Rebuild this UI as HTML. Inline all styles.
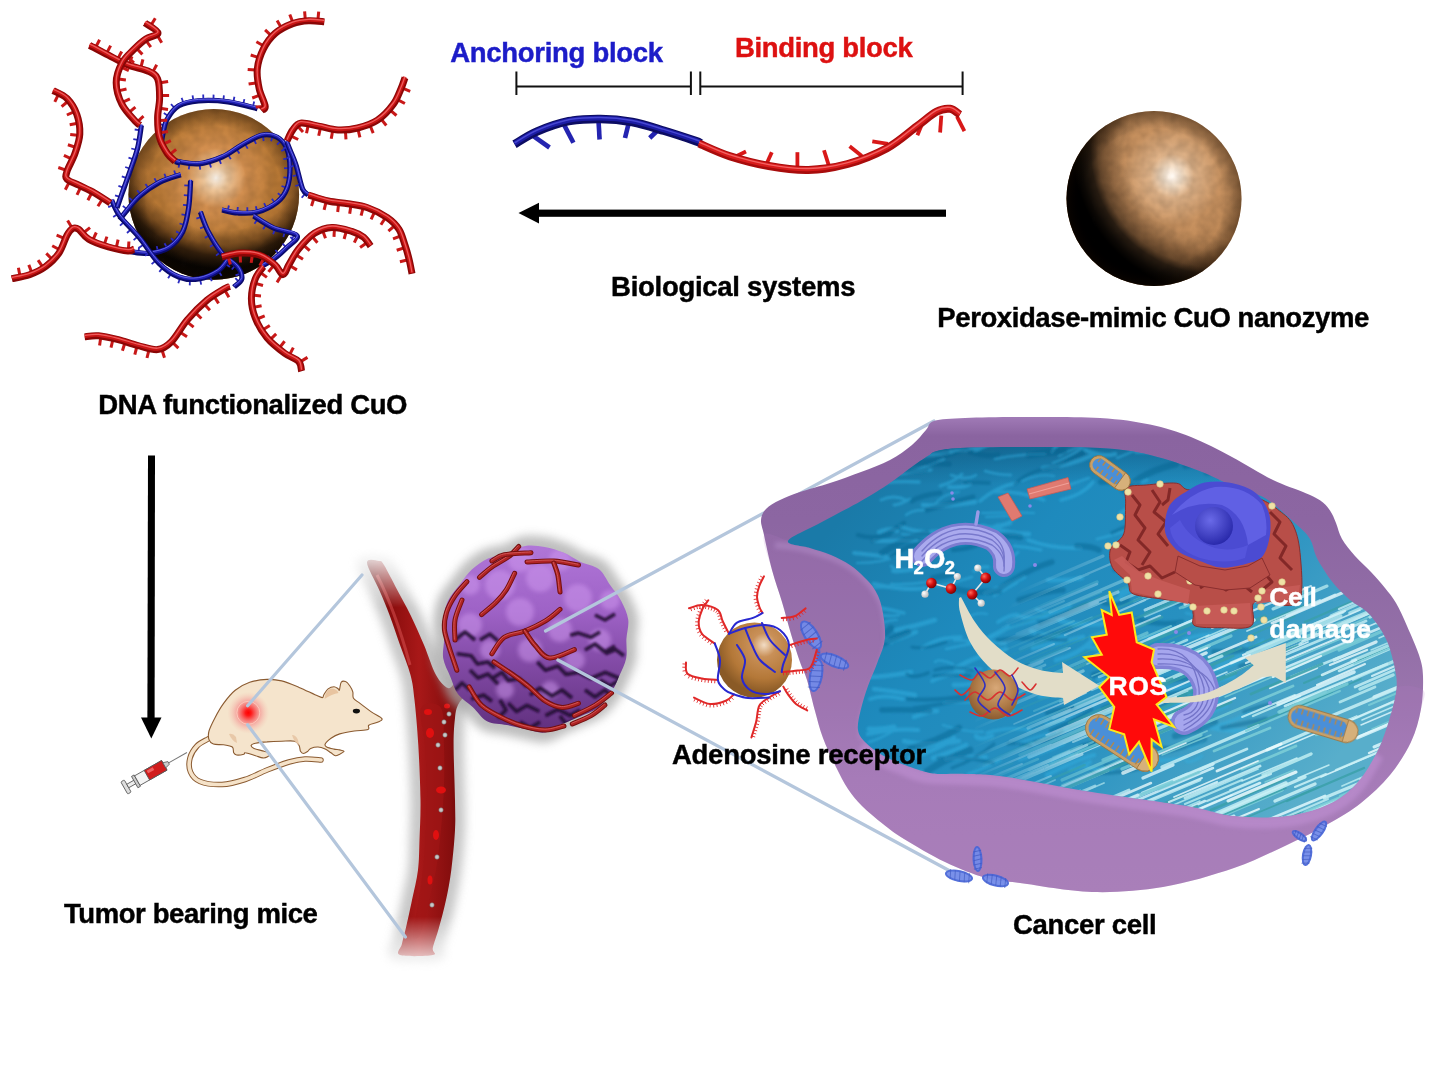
<!DOCTYPE html>
<html><head><meta charset="utf-8"><title>CuO nanozyme</title>
<style>
html,body{margin:0;padding:0;background:#fff;width:1446px;height:1066px;overflow:hidden}
svg{display:block}
text{font-family:"Liberation Sans",sans-serif;font-weight:bold}
</style></head><body>
<svg width="1446" height="1066" viewBox="0 0 1446 1066">
<rect width="1446" height="1066" fill="#fff"/>

<defs>
<radialGradient id="sph1" gradientUnits="userSpaceOnUse" cx="1172" cy="176" r="110">
 <stop offset="0" stop-color="#fffaf4"/>
 <stop offset="0.09" stop-color="#f6e0c8"/>
 <stop offset="0.2" stop-color="#e0b48a"/>
 <stop offset="0.45" stop-color="#c89260"/>
 <stop offset="1" stop-color="#b07a48"/>
</radialGradient>
<radialGradient id="sph1dark" gradientUnits="userSpaceOnUse" cx="1215" cy="150" r="150">
 <stop offset="0" stop-color="#000" stop-opacity="0"/>
 <stop offset="0.6" stop-color="#000" stop-opacity="0"/>
 <stop offset="0.7" stop-color="#140800" stop-opacity="0.28"/>
 <stop offset="0.78" stop-color="#0a0400" stop-opacity="0.5"/>
 <stop offset="0.83" stop-color="#000" stop-opacity="0.78"/>
 <stop offset="0.9" stop-color="#000" stop-opacity="0.93"/>
 <stop offset="0.95" stop-color="#000" stop-opacity="1"/>
</radialGradient>
<radialGradient id="rimDark" cx="0.5" cy="0.5" r="0.5">
 <stop offset="0.8" stop-color="#000" stop-opacity="0"/>
 <stop offset="1" stop-color="#1a0c00" stop-opacity="0.4"/>
</radialGradient>
<radialGradient id="sph2" gradientUnits="userSpaceOnUse" cx="216" cy="178" r="100">
 <stop offset="0" stop-color="#fff8ee"/>
 <stop offset="0.12" stop-color="#f0c89c"/>
 <stop offset="0.3" stop-color="#d49050"/>
 <stop offset="0.6" stop-color="#ba7a36"/>
 <stop offset="1" stop-color="#a86a2c"/>
</radialGradient>
<radialGradient id="sph2dark" gradientUnits="userSpaceOnUse" cx="222" cy="140" r="165">
 <stop offset="0" stop-color="#000" stop-opacity="0"/>
 <stop offset="0.55" stop-color="#000" stop-opacity="0"/>
 <stop offset="0.63" stop-color="#1a0c00" stop-opacity="0.35"/>
 <stop offset="0.7" stop-color="#0a0400" stop-opacity="0.75"/>
 <stop offset="0.78" stop-color="#000" stop-opacity="0.95"/>
 <stop offset="1" stop-color="#000" stop-opacity="1"/>
</radialGradient>


<radialGradient id="sph3" cx="0.55" cy="0.4" r="0.6">
 <stop offset="0" stop-color="#e8c8a8"/>
 <stop offset="0.35" stop-color="#c08850"/>
 <stop offset="1" stop-color="#8a5a2a"/>
</radialGradient>
<radialGradient id="redspot" cx="0.5" cy="0.5" r="0.5">
 <stop offset="0" stop-color="#ff0000"/>
 <stop offset="0.14" stop-color="#ff1818"/>
 <stop offset="0.32" stop-color="#f85050" stop-opacity="0.9"/>
 <stop offset="0.6" stop-color="#f49090" stop-opacity="0.6"/>
 <stop offset="1" stop-color="#f4c0b0" stop-opacity="0"/>
</radialGradient>
<linearGradient id="blueInt" gradientUnits="userSpaceOnUse" x1="900" y1="450" x2="1300" y2="800">
 <stop offset="0" stop-color="#1a7aa8"/>
 <stop offset="0.3" stop-color="#1e8abd"/>
 <stop offset="0.6" stop-color="#2790c0"/>
 <stop offset="1" stop-color="#58aecb"/>
</linearGradient>
<linearGradient id="purpWall" gradientUnits="userSpaceOnUse" x1="0" y1="417" x2="0" y2="892">
 <stop offset="0" stop-color="#a07ab6"/>
 <stop offset="0.04" stop-color="#8a64a0"/>
 <stop offset="0.22" stop-color="#8c66a2"/>
 <stop offset="0.49" stop-color="#9470a8"/>
 <stop offset="0.76" stop-color="#a47cb6"/>
 <stop offset="1" stop-color="#a880b8"/>
</linearGradient>
<radialGradient id="tumorG" gradientUnits="userSpaceOnUse" cx="525" cy="610" r="110">
 <stop offset="0" stop-color="#c590e0"/>
 <stop offset="0.5" stop-color="#a872c8"/>
 <stop offset="0.85" stop-color="#8c58aa"/>
 <stop offset="1" stop-color="#6c4088"/>
</radialGradient>
<linearGradient id="vesselG" x1="0" y1="0" x2="1" y2="0">
 <stop offset="0" stop-color="#5a0404"/>
 <stop offset="0.2" stop-color="#860c0c"/>
 <stop offset="0.5" stop-color="#a81818"/>
 <stop offset="0.8" stop-color="#860e0e"/>
 <stop offset="1" stop-color="#520404"/>
</linearGradient>
<linearGradient id="fadeTop" x1="0" y1="0" x2="0" y2="1">
 <stop offset="0" stop-color="#fff" stop-opacity="1"/>
 <stop offset="1" stop-color="#fff" stop-opacity="0"/>
</linearGradient>
<radialGradient id="nucG" cx="0.45" cy="0.35" r="0.7">
 <stop offset="0" stop-color="#6a6af0"/>
 <stop offset="1" stop-color="#3a3ac0"/>
</radialGradient>
<radialGradient id="nucleolus" cx="0.4" cy="0.35" r="0.7">
 <stop offset="0" stop-color="#6a6ae8"/>
 <stop offset="1" stop-color="#2626a8"/>
</radialGradient>
<filter id="blur2" x="-20%" y="-20%" width="140%" height="140%"><feGaussianBlur stdDeviation="2"/></filter>
<filter id="blur4" x="-30%" y="-30%" width="160%" height="160%"><feGaussianBlur stdDeviation="5"/></filter>
<filter id="blur1"><feGaussianBlur stdDeviation="0.8"/></filter>
</defs>

<defs><linearGradient id="vmaskG" gradientUnits="userSpaceOnUse" x1="0" y1="548" x2="0" y2="972"><stop offset="0" stop-color="#000"/><stop offset="0.03" stop-color="#333"/><stop offset="0.14" stop-color="#fff"/><stop offset="0.87" stop-color="#fff"/><stop offset="1" stop-color="#000"/></linearGradient><mask id="vmask" maskUnits="userSpaceOnUse" x="300" y="540" width="220" height="440"><rect x="300" y="540" width="220" height="440" fill="url(#vmaskG)"/></mask></defs>
<g mask="url(#vmask)">
<path d="M367.0 562.5 C367.0 567.2 375.2 580.8 379.0 589.5 C382.8 598.2 386.0 605.8 389.5 615.0 C393.0 624.2 396.5 635.0 400.0 645.0 C403.5 655.0 408.1 665.8 410.5 675.0 C412.9 684.2 413.2 688.3 414.5 700.0 C415.8 711.7 417.3 728.3 418.3 745.0 C419.3 761.7 420.3 784.2 420.5 800.0 C420.7 815.8 419.9 828.3 419.5 840.0 C419.1 851.7 419.2 860.0 418.0 870.0 C416.8 880.0 414.0 890.4 412.0 900.0 C410.0 909.6 407.7 920.3 406.0 927.6 C404.3 934.9 402.9 939.4 401.9 944.0 C400.9 948.6 394.9 953.2 400.0 955.0 C405.1 956.8 427.3 956.2 432.8 955.0 C438.3 953.8 431.8 952.6 432.8 948.0 C433.8 943.4 436.8 935.6 439.0 927.6 C441.2 919.6 443.9 909.6 446.0 900.0 C448.1 890.4 449.8 881.7 451.3 870.0 C452.8 858.3 454.4 841.7 455.0 830.0 C455.6 818.3 455.2 814.2 455.0 800.0 C454.8 785.8 453.6 758.7 453.6 745.0 C453.6 731.3 454.3 724.7 455.0 718.0 C455.7 711.3 456.2 709.0 458.0 705.0 C459.8 701.0 463.8 697.2 466.0 694.0 C468.2 690.8 470.8 689.0 471.0 686.0 C471.2 683.0 469.5 676.7 467.0 676.0 C464.5 675.3 459.2 680.0 456.0 682.0 C452.8 684.0 451.3 689.2 448.0 688.0 C444.7 686.8 440.0 682.2 436.0 675.0 C432.0 667.8 428.2 655.0 424.0 645.0 C419.8 635.0 415.0 624.2 410.5 615.0 C406.0 605.8 401.4 597.8 397.0 589.5 C392.6 581.2 387.0 569.8 384.0 565.0 C381.0 560.2 381.8 561.4 379.0 561.0 C376.2 560.6 367.0 557.8 367.0 562.5Z" fill="none" stroke="#b0b0b0" stroke-width="20" opacity="0.7" filter="url(#blur4)"/>
<path d="M367.0 562.5 C367.0 567.2 375.2 580.8 379.0 589.5 C382.8 598.2 386.0 605.8 389.5 615.0 C393.0 624.2 396.5 635.0 400.0 645.0 C403.5 655.0 408.1 665.8 410.5 675.0 C412.9 684.2 413.2 688.3 414.5 700.0 C415.8 711.7 417.3 728.3 418.3 745.0 C419.3 761.7 420.3 784.2 420.5 800.0 C420.7 815.8 419.9 828.3 419.5 840.0 C419.1 851.7 419.2 860.0 418.0 870.0 C416.8 880.0 414.0 890.4 412.0 900.0 C410.0 909.6 407.7 920.3 406.0 927.6 C404.3 934.9 402.9 939.4 401.9 944.0 C400.9 948.6 394.9 953.2 400.0 955.0 C405.1 956.8 427.3 956.2 432.8 955.0 C438.3 953.8 431.8 952.6 432.8 948.0 C433.8 943.4 436.8 935.6 439.0 927.6 C441.2 919.6 443.9 909.6 446.0 900.0 C448.1 890.4 449.8 881.7 451.3 870.0 C452.8 858.3 454.4 841.7 455.0 830.0 C455.6 818.3 455.2 814.2 455.0 800.0 C454.8 785.8 453.6 758.7 453.6 745.0 C453.6 731.3 454.3 724.7 455.0 718.0 C455.7 711.3 456.2 709.0 458.0 705.0 C459.8 701.0 463.8 697.2 466.0 694.0 C468.2 690.8 470.8 689.0 471.0 686.0 C471.2 683.0 469.5 676.7 467.0 676.0 C464.5 675.3 459.2 680.0 456.0 682.0 C452.8 684.0 451.3 689.2 448.0 688.0 C444.7 686.8 440.0 682.2 436.0 675.0 C432.0 667.8 428.2 655.0 424.0 645.0 C419.8 635.0 415.0 624.2 410.5 615.0 C406.0 605.8 401.4 597.8 397.0 589.5 C392.6 581.2 387.0 569.8 384.0 565.0 C381.0 560.2 381.8 561.4 379.0 561.0 C376.2 560.6 367.0 557.8 367.0 562.5Z" fill="url(#vesselG)"/>
<path d="M421.0 708.0 C418.3 714.2 424.0 731.8 425.0 745.0 C426.0 758.2 426.8 772.8 427.0 787.0 C427.2 801.2 426.7 816.2 426.0 830.0 C425.3 843.8 424.5 856.7 423.0 870.0 C421.5 883.3 418.7 899.2 417.0 910.0 C415.3 920.8 412.5 930.8 413.0 935.0 C413.5 939.2 417.5 940.0 420.0 935.0 C422.5 930.0 425.3 915.8 428.0 905.0 C430.7 894.2 433.8 882.5 436.0 870.0 C438.2 857.5 439.7 843.8 441.0 830.0 C442.3 816.2 443.5 801.2 444.0 787.0 C444.5 772.8 444.5 758.2 444.0 745.0 C443.5 731.8 444.8 714.2 441.0 708.0 C437.2 701.8 423.7 701.8 421.0 708.0Z" fill="#a01616" opacity="0.7"/>
<path d="M377 575 Q395 610 410 665" stroke="#d85050" stroke-width="3" fill="none" opacity="0.55"/>
<ellipse cx="428" cy="712" rx="4.0" ry="3.0" fill="#e01010"/>
<ellipse cx="430" cy="733" rx="4.0" ry="5.0" fill="#e01010"/>
<ellipse cx="441" cy="790" rx="5.0" ry="3.5" fill="#e01010"/>
<ellipse cx="436" cy="835" rx="3.0" ry="5.0" fill="#e01010"/>
<ellipse cx="430" cy="880" rx="2.5" ry="4.5" fill="#e01010"/>
<ellipse cx="447" cy="706" rx="3.0" ry="2.5" fill="#e01010"/>
<circle cx="444" cy="722" r="2.2" fill="#c8c8c8" stroke="#777" stroke-width="0.6"/>
<circle cx="438" cy="745" r="2.2" fill="#c8c8c8" stroke="#777" stroke-width="0.6"/>
<circle cx="440" cy="768" r="2.2" fill="#c8c8c8" stroke="#777" stroke-width="0.6"/>
<circle cx="441" cy="810" r="2.2" fill="#c8c8c8" stroke="#777" stroke-width="0.6"/>
<circle cx="437" cy="857" r="2.2" fill="#c8c8c8" stroke="#777" stroke-width="0.6"/>
<circle cx="432" cy="905" r="2.2" fill="#c8c8c8" stroke="#777" stroke-width="0.6"/>
<circle cx="449" cy="714" r="2.2" fill="#c8c8c8" stroke="#777" stroke-width="0.6"/>
<circle cx="445" cy="735" r="2.2" fill="#c8c8c8" stroke="#777" stroke-width="0.6"/>
</g>
<defs><linearGradient id="tumLin" gradientUnits="userSpaceOnUse" x1="0" y1="545" x2="0" y2="735"><stop offset="0" stop-color="#b076d8"/><stop offset="0.35" stop-color="#9e62c6"/><stop offset="0.6" stop-color="#844ca8"/><stop offset="1" stop-color="#5e2e7c"/></linearGradient></defs>
<path d="M626.4 639.0 C626.1 645.5 627.4 652.0 626.2 658.2 C625.0 664.4 621.8 670.3 619.2 676.1 C616.7 682.0 614.3 688.2 610.7 693.5 C607.2 698.8 602.8 704.1 597.7 708.0 C592.6 711.8 586.0 713.9 580.2 716.5 C574.4 719.1 568.7 721.1 562.8 723.8 C557.0 726.5 551.2 731.7 544.9 732.6 C538.7 733.4 531.8 730.4 525.4 729.1 C519.1 727.9 513.2 726.4 506.8 725.1 C500.4 723.8 492.7 724.2 487.0 721.3 C481.4 718.3 477.7 711.8 472.9 707.3 C468.1 702.8 461.9 699.4 458.1 694.3 C454.3 689.1 452.7 682.4 450.2 676.4 C447.7 670.4 444.2 664.5 443.2 658.3 C442.2 652.1 444.1 645.4 444.1 639.0 C444.1 632.6 442.6 626.1 443.2 619.7 C443.9 613.3 445.3 606.5 448.0 600.7 C450.8 594.8 455.7 590.0 459.6 584.8 C463.6 579.6 467.1 573.9 471.8 569.5 C476.5 565.1 482.1 561.0 488.0 558.4 C493.9 555.8 500.9 556.0 507.1 553.9 C513.3 551.8 518.8 547.1 525.1 545.9 C531.4 544.7 538.4 545.8 544.8 546.9 C551.2 548.0 557.5 550.1 563.4 552.6 C569.3 555.0 574.2 558.9 580.1 561.7 C586.0 564.4 593.7 565.1 598.7 569.0 C603.7 572.8 606.4 579.6 610.1 585.0 C613.9 590.3 618.1 595.3 621.2 601.0 C624.2 606.8 627.3 613.1 628.2 619.4 C629.1 625.7 626.8 632.5 626.4 639.0Z" fill="none" stroke="#a8a8a8" stroke-width="20" opacity="0.75" filter="url(#blur4)"/>
<path d="M626.4 639.0 C626.1 645.5 627.4 652.0 626.2 658.2 C625.0 664.4 621.8 670.3 619.2 676.1 C616.7 682.0 614.3 688.2 610.7 693.5 C607.2 698.8 602.8 704.1 597.7 708.0 C592.6 711.8 586.0 713.9 580.2 716.5 C574.4 719.1 568.7 721.1 562.8 723.8 C557.0 726.5 551.2 731.7 544.9 732.6 C538.7 733.4 531.8 730.4 525.4 729.1 C519.1 727.9 513.2 726.4 506.8 725.1 C500.4 723.8 492.7 724.2 487.0 721.3 C481.4 718.3 477.7 711.8 472.9 707.3 C468.1 702.8 461.9 699.4 458.1 694.3 C454.3 689.1 452.7 682.4 450.2 676.4 C447.7 670.4 444.2 664.5 443.2 658.3 C442.2 652.1 444.1 645.4 444.1 639.0 C444.1 632.6 442.6 626.1 443.2 619.7 C443.9 613.3 445.3 606.5 448.0 600.7 C450.8 594.8 455.7 590.0 459.6 584.8 C463.6 579.6 467.1 573.9 471.8 569.5 C476.5 565.1 482.1 561.0 488.0 558.4 C493.9 555.8 500.9 556.0 507.1 553.9 C513.3 551.8 518.8 547.1 525.1 545.9 C531.4 544.7 538.4 545.8 544.8 546.9 C551.2 548.0 557.5 550.1 563.4 552.6 C569.3 555.0 574.2 558.9 580.1 561.7 C586.0 564.4 593.7 565.1 598.7 569.0 C603.7 572.8 606.4 579.6 610.1 585.0 C613.9 590.3 618.1 595.3 621.2 601.0 C624.2 606.8 627.3 613.1 628.2 619.4 C629.1 625.7 626.8 632.5 626.4 639.0Z" fill="url(#tumLin)"/>
<defs><clipPath id="tumClip"><path d="M626.4 639.0 C626.1 645.5 627.4 652.0 626.2 658.2 C625.0 664.4 621.8 670.3 619.2 676.1 C616.7 682.0 614.3 688.2 610.7 693.5 C607.2 698.8 602.8 704.1 597.7 708.0 C592.6 711.8 586.0 713.9 580.2 716.5 C574.4 719.1 568.7 721.1 562.8 723.8 C557.0 726.5 551.2 731.7 544.9 732.6 C538.7 733.4 531.8 730.4 525.4 729.1 C519.1 727.9 513.2 726.4 506.8 725.1 C500.4 723.8 492.7 724.2 487.0 721.3 C481.4 718.3 477.7 711.8 472.9 707.3 C468.1 702.8 461.9 699.4 458.1 694.3 C454.3 689.1 452.7 682.4 450.2 676.4 C447.7 670.4 444.2 664.5 443.2 658.3 C442.2 652.1 444.1 645.4 444.1 639.0 C444.1 632.6 442.6 626.1 443.2 619.7 C443.9 613.3 445.3 606.5 448.0 600.7 C450.8 594.8 455.7 590.0 459.6 584.8 C463.6 579.6 467.1 573.9 471.8 569.5 C476.5 565.1 482.1 561.0 488.0 558.4 C493.9 555.8 500.9 556.0 507.1 553.9 C513.3 551.8 518.8 547.1 525.1 545.9 C531.4 544.7 538.4 545.8 544.8 546.9 C551.2 548.0 557.5 550.1 563.4 552.6 C569.3 555.0 574.2 558.9 580.1 561.7 C586.0 564.4 593.7 565.1 598.7 569.0 C603.7 572.8 606.4 579.6 610.1 585.0 C613.9 590.3 618.1 595.3 621.2 601.0 C624.2 606.8 627.3 613.1 628.2 619.4 C629.1 625.7 626.8 632.5 626.4 639.0Z"/></clipPath></defs>
<g clip-path="url(#tumClip)">
<g filter="url(#blur2)" opacity="0.5">
<circle cx="500" cy="585" r="15" fill="#d09af0"/>
<circle cx="540" cy="578" r="14" fill="#d09af0"/>
<circle cx="578" cy="598" r="14" fill="#d09af0"/>
<circle cx="470" cy="625" r="12" fill="#d09af0"/>
<circle cx="520" cy="612" r="14" fill="#d09af0"/>
<circle cx="560" cy="630" r="12" fill="#d09af0"/>
<circle cx="600" cy="640" r="11" fill="#d09af0"/>
<circle cx="490" cy="650" r="10" fill="#d09af0"/>
<circle cx="530" cy="650" r="12" fill="#d09af0"/>
<circle cx="575" cy="660" r="10" fill="#d09af0"/>
<circle cx="610" cy="600" r="10" fill="#d09af0"/>
<circle cx="470" cy="585" r="10" fill="#d09af0"/>
<circle cx="520" cy="560" r="12" fill="#d09af0"/>
<circle cx="560" cy="560" r="11" fill="#d09af0"/>
<circle cx="505" cy="690" r="9" fill="#d09af0"/>
<circle cx="550" cy="690" r="9" fill="#d09af0"/>
</g>
<g fill="none" stroke="#220832" stroke-width="3.6" opacity="0.9" filter="url(#blur1)" stroke-linejoin="round">
<polyline points="456.8,653.8 471.3,655.8 477.4,664.0 487.8,662.0 495.0,668.0"/>
<polyline points="491.9,678.5 502.2,672.3 508.4,680.6 518.7,678.5 527.0,686.8"/>
<polyline points="537.3,662.0 545.5,670.3 557.9,666.0 566.0,674.4 578.5,672.3 591.0,678.5 605.3,672.3 619.8,678.5"/>
<polyline points="508.4,703.3 516.6,711.5 527.0,705.3 539.3,711.5"/>
<polyline points="570.3,635.2 578.5,633.1 591.0,637.3 600.0,632.0"/>
<polyline points="605.3,653.8 615.6,649.6 623.9,655.8"/>
<polyline points="471.3,699.1 483.6,695.0 491.9,701.2"/>
<polyline points="545.5,715.6 557.9,709.4 570.3,715.6 580.0,710.0"/>
<polyline points="455.0,690.0 462.0,683.0 470.0,690.0"/>
<polyline points="585.0,690.0 595.0,697.0 605.0,690.0 612.0,697.0"/>
<polyline points="520.0,722.0 530.0,728.0 540.0,722.0"/>
<polyline points="480.0,640.0 490.0,634.0 498.0,641.0"/>
<polyline points="595.0,615.0 605.0,620.0 615.0,614.0"/>
<polyline points="470.0,670.0 478.0,678.0 488.0,674.0 498.0,684.0"/>
<polyline points="530.0,695.0 540.0,688.0 552.0,696.0 562.0,690.0 572.0,698.0"/>
<polyline points="600.0,680.0 610.0,686.0 620.0,680.0"/>
<polyline points="500.0,700.0 506.0,710.0 498.0,718.0"/>
<polyline points="560.0,716.0 566.0,724.0 576.0,720.0"/>
<polyline points="455.0,640.0 465.0,632.0 475.0,640.0"/>
<polyline points="585.0,650.0 595.0,644.0 605.0,652.0 615.0,646.0"/>
</g>
</g>
<g fill="none" stroke-linecap="round" stroke-linejoin="round">
<path d="M467.0 581.6 C465.0 584.0 458.2 590.9 454.8 596.0 C451.4 601.1 448.2 607.0 446.5 612.5 C444.8 618.0 444.0 623.5 444.4 629.0 C444.8 634.5 447.2 640.7 448.6 645.5 C450.0 650.3 451.3 653.9 452.7 658.0 C454.1 662.1 456.1 668.2 456.8 670.3" stroke="#741010" stroke-width="5"/>
<path d="M467.0 581.6 C465.0 584.0 458.2 590.9 454.8 596.0 C451.4 601.1 448.2 607.0 446.5 612.5 C444.8 618.0 444.0 623.5 444.4 629.0 C444.8 634.5 447.2 640.7 448.6 645.5 C450.0 650.3 451.3 653.9 452.7 658.0 C454.1 662.1 456.1 668.2 456.8 670.3" stroke="#b02424" stroke-width="3"/>
<path d="M467.0 581.6 C465.0 584.0 458.2 590.9 454.8 596.0 C451.4 601.1 448.2 607.0 446.5 612.5 C444.8 618.0 444.0 623.5 444.4 629.0 C444.8 634.5 447.2 640.7 448.6 645.5 C450.0 650.3 451.3 653.9 452.7 658.0 C454.1 662.1 456.1 668.2 456.8 670.3" stroke="#d86060" stroke-width="1" transform="translate(-0.6,-0.8)" opacity="0.8"/>
<path d="M479.5 577.4 C481.6 575.7 487.1 570.4 491.9 567.0 C496.7 563.6 503.9 560.2 508.4 556.8 C512.9 553.4 517.0 548.2 518.7 546.5" stroke="#741010" stroke-width="5"/>
<path d="M479.5 577.4 C481.6 575.7 487.1 570.4 491.9 567.0 C496.7 563.6 503.9 560.2 508.4 556.8 C512.9 553.4 517.0 548.2 518.7 546.5" stroke="#b02424" stroke-width="3"/>
<path d="M479.5 577.4 C481.6 575.7 487.1 570.4 491.9 567.0 C496.7 563.6 503.9 560.2 508.4 556.8 C512.9 553.4 517.0 548.2 518.7 546.5" stroke="#d86060" stroke-width="1" transform="translate(-0.6,-0.8)" opacity="0.8"/>
<path d="M491.9 561.0 C494.0 560.0 497.8 556.2 504.3 554.8 C510.8 553.4 526.5 553.1 531.0 552.7" stroke="#741010" stroke-width="5"/>
<path d="M491.9 561.0 C494.0 560.0 497.8 556.2 504.3 554.8 C510.8 553.4 526.5 553.1 531.0 552.7" stroke="#b02424" stroke-width="3"/>
<path d="M491.9 561.0 C494.0 560.0 497.8 556.2 504.3 554.8 C510.8 553.4 526.5 553.1 531.0 552.7" stroke="#d86060" stroke-width="1" transform="translate(-0.6,-0.8)" opacity="0.8"/>
<path d="M527.0 562.0 C531.5 561.8 545.2 560.5 553.8 561.0 C562.4 561.5 574.4 564.3 578.5 565.0" stroke="#741010" stroke-width="5"/>
<path d="M527.0 562.0 C531.5 561.8 545.2 560.5 553.8 561.0 C562.4 561.5 574.4 564.3 578.5 565.0" stroke="#b02424" stroke-width="3"/>
<path d="M527.0 562.0 C531.5 561.8 545.2 560.5 553.8 561.0 C562.4 561.5 574.4 564.3 578.5 565.0" stroke="#d86060" stroke-width="1" transform="translate(-0.6,-0.8)" opacity="0.8"/>
<path d="M553.8 563.0 C554.5 565.1 556.9 570.6 557.9 575.4 C558.9 580.2 559.6 589.2 560.0 592.0" stroke="#741010" stroke-width="5"/>
<path d="M553.8 563.0 C554.5 565.1 556.9 570.6 557.9 575.4 C558.9 580.2 559.6 589.2 560.0 592.0" stroke="#b02424" stroke-width="3"/>
<path d="M553.8 563.0 C554.5 565.1 556.9 570.6 557.9 575.4 C558.9 580.2 559.6 589.2 560.0 592.0" stroke="#d86060" stroke-width="1" transform="translate(-0.6,-0.8)" opacity="0.8"/>
<path d="M514.6 573.3 C513.2 576.0 509.4 585.0 506.3 589.8 C503.2 594.6 500.1 598.1 496.0 602.2 C491.9 606.3 484.0 612.5 481.6 614.6" stroke="#741010" stroke-width="5"/>
<path d="M514.6 573.3 C513.2 576.0 509.4 585.0 506.3 589.8 C503.2 594.6 500.1 598.1 496.0 602.2 C491.9 606.3 484.0 612.5 481.6 614.6" stroke="#b02424" stroke-width="3"/>
<path d="M514.6 573.3 C513.2 576.0 509.4 585.0 506.3 589.8 C503.2 594.6 500.1 598.1 496.0 602.2 C491.9 606.3 484.0 612.5 481.6 614.6" stroke="#d86060" stroke-width="1" transform="translate(-0.6,-0.8)" opacity="0.8"/>
<path d="M491.9 653.8 C494.0 651.0 498.8 641.1 504.3 637.3 C509.8 633.5 518.0 633.8 524.9 631.0 C531.8 628.2 539.6 624.4 545.5 620.8 C551.4 617.2 557.6 611.3 560.0 609.4" stroke="#741010" stroke-width="5"/>
<path d="M491.9 653.8 C494.0 651.0 498.8 641.1 504.3 637.3 C509.8 633.5 518.0 633.8 524.9 631.0 C531.8 628.2 539.6 624.4 545.5 620.8 C551.4 617.2 557.6 611.3 560.0 609.4" stroke="#b02424" stroke-width="3"/>
<path d="M491.9 653.8 C494.0 651.0 498.8 641.1 504.3 637.3 C509.8 633.5 518.0 633.8 524.9 631.0 C531.8 628.2 539.6 624.4 545.5 620.8 C551.4 617.2 557.6 611.3 560.0 609.4" stroke="#d86060" stroke-width="1" transform="translate(-0.6,-0.8)" opacity="0.8"/>
<path d="M524.9 631.0 C526.6 633.4 531.1 641.0 535.2 645.5 C539.3 650.0 543.1 657.3 549.6 658.0 C556.1 658.7 570.3 651.0 574.4 649.6" stroke="#741010" stroke-width="5"/>
<path d="M524.9 631.0 C526.6 633.4 531.1 641.0 535.2 645.5 C539.3 650.0 543.1 657.3 549.6 658.0 C556.1 658.7 570.3 651.0 574.4 649.6" stroke="#b02424" stroke-width="3"/>
<path d="M524.9 631.0 C526.6 633.4 531.1 641.0 535.2 645.5 C539.3 650.0 543.1 657.3 549.6 658.0 C556.1 658.7 570.3 651.0 574.4 649.6" stroke="#d86060" stroke-width="1" transform="translate(-0.6,-0.8)" opacity="0.8"/>
<path d="M494.0 662.0 C497.1 664.1 506.7 670.3 512.5 674.4 C518.3 678.5 523.5 682.3 529.0 686.8 C534.5 691.3 540.0 697.8 545.5 701.2 C551.0 704.6 556.5 707.0 562.0 707.4 C567.5 707.8 575.8 704.0 578.5 703.3" stroke="#741010" stroke-width="5"/>
<path d="M494.0 662.0 C497.1 664.1 506.7 670.3 512.5 674.4 C518.3 678.5 523.5 682.3 529.0 686.8 C534.5 691.3 540.0 697.8 545.5 701.2 C551.0 704.6 556.5 707.0 562.0 707.4 C567.5 707.8 575.8 704.0 578.5 703.3" stroke="#b02424" stroke-width="3"/>
<path d="M494.0 662.0 C497.1 664.1 506.7 670.3 512.5 674.4 C518.3 678.5 523.5 682.3 529.0 686.8 C534.5 691.3 540.0 697.8 545.5 701.2 C551.0 704.6 556.5 707.0 562.0 707.4 C567.5 707.8 575.8 704.0 578.5 703.3" stroke="#d86060" stroke-width="1" transform="translate(-0.6,-0.8)" opacity="0.8"/>
<path d="M469.2 686.8 C471.3 689.9 476.1 700.1 481.6 705.3 C487.1 710.4 495.3 714.2 502.2 717.7 C509.1 721.2 515.6 724.0 522.8 726.0 C530.0 728.0 538.6 730.0 545.5 730.0 C552.4 730.0 560.9 726.7 564.0 726.0" stroke="#741010" stroke-width="5"/>
<path d="M469.2 686.8 C471.3 689.9 476.1 700.1 481.6 705.3 C487.1 710.4 495.3 714.2 502.2 717.7 C509.1 721.2 515.6 724.0 522.8 726.0 C530.0 728.0 538.6 730.0 545.5 730.0 C552.4 730.0 560.9 726.7 564.0 726.0" stroke="#b02424" stroke-width="3"/>
<path d="M469.2 686.8 C471.3 689.9 476.1 700.1 481.6 705.3 C487.1 710.4 495.3 714.2 502.2 717.7 C509.1 721.2 515.6 724.0 522.8 726.0 C530.0 728.0 538.6 730.0 545.5 730.0 C552.4 730.0 560.9 726.7 564.0 726.0" stroke="#d86060" stroke-width="1" transform="translate(-0.6,-0.8)" opacity="0.8"/>
<path d="M574.4 715.6 C577.8 713.9 588.8 709.1 595.0 705.3 C601.2 701.5 608.8 695.0 611.5 693.0" stroke="#741010" stroke-width="5"/>
<path d="M574.4 715.6 C577.8 713.9 588.8 709.1 595.0 705.3 C601.2 701.5 608.8 695.0 611.5 693.0" stroke="#b02424" stroke-width="3"/>
<path d="M574.4 715.6 C577.8 713.9 588.8 709.1 595.0 705.3 C601.2 701.5 608.8 695.0 611.5 693.0" stroke="#d86060" stroke-width="1" transform="translate(-0.6,-0.8)" opacity="0.8"/>
<path d="M572.3 724.0 C575.4 722.6 585.5 718.8 591.0 715.6 C596.5 712.4 602.7 706.8 605.0 705.0" stroke="#741010" stroke-width="5"/>
<path d="M572.3 724.0 C575.4 722.6 585.5 718.8 591.0 715.6 C596.5 712.4 602.7 706.8 605.0 705.0" stroke="#b02424" stroke-width="3"/>
<path d="M572.3 724.0 C575.4 722.6 585.5 718.8 591.0 715.6 C596.5 712.4 602.7 706.8 605.0 705.0" stroke="#d86060" stroke-width="1" transform="translate(-0.6,-0.8)" opacity="0.8"/>
<path d="M462.0 600.0 C460.8 603.3 456.2 613.3 455.0 620.0 C453.8 626.7 455.0 636.7 455.0 640.0" stroke="#741010" stroke-width="5"/>
<path d="M462.0 600.0 C460.8 603.3 456.2 613.3 455.0 620.0 C453.8 626.7 455.0 636.7 455.0 640.0" stroke="#b02424" stroke-width="3"/>
<path d="M462.0 600.0 C460.8 603.3 456.2 613.3 455.0 620.0 C453.8 626.7 455.0 636.7 455.0 640.0" stroke="#d86060" stroke-width="1" transform="translate(-0.6,-0.8)" opacity="0.8"/>
</g>
<g stroke="#b4c6dc" stroke-width="3.2" stroke-linecap="round">
<line x1="545.5" y1="631" x2="934" y2="421"/>
<line x1="557.9" y1="660" x2="950" y2="871"/>
</g>
<path d="M208.0 739.0 C206.2 740.2 200.0 742.8 197.0 746.0 C194.0 749.2 191.1 753.7 190.0 758.0 C188.9 762.3 188.8 768.1 190.5 772.0 C192.2 775.9 194.8 779.4 200.0 781.5 C205.2 783.6 214.5 784.8 222.0 784.5 C229.5 784.2 237.5 781.9 245.0 779.5 C252.5 777.1 259.7 772.9 267.0 770.0 C274.3 767.1 282.7 763.8 289.0 762.0 C295.3 760.2 299.7 759.3 305.0 759.0 C310.3 758.7 318.3 759.8 321.0 760.0" fill="none" stroke="#8a5a30" stroke-width="5.6" stroke-linecap="round"/>
<path d="M208.0 739.0 C206.2 740.2 200.0 742.8 197.0 746.0 C194.0 749.2 191.1 753.7 190.0 758.0 C188.9 762.3 188.8 768.1 190.5 772.0 C192.2 775.9 194.8 779.4 200.0 781.5 C205.2 783.6 214.5 784.8 222.0 784.5 C229.5 784.2 237.5 781.9 245.0 779.5 C252.5 777.1 259.7 772.9 267.0 770.0 C274.3 767.1 282.7 763.8 289.0 762.0 C295.3 760.2 299.7 759.3 305.0 759.0 C310.3 758.7 318.3 759.8 321.0 760.0" fill="none" stroke="#f5e2c8" stroke-width="3.6" stroke-linecap="round"/>
<path d="M209.0 731.0 C210.0 727.4 212.5 722.5 214.9 717.9 C217.3 713.3 220.2 708.0 223.6 703.4 C227.0 698.8 230.8 693.8 235.2 690.3 C239.5 686.8 244.4 684.1 249.7 682.3 C255.0 680.5 261.8 679.6 267.1 679.4 C272.4 679.2 276.4 679.6 281.7 680.9 C287.0 682.2 293.6 685.1 299.1 687.4 C304.7 689.7 311.1 693.0 315.0 694.7 C318.9 696.4 320.8 697.6 322.3 697.6 C323.8 697.6 322.8 696.2 323.8 694.7 C324.8 693.2 326.4 690.2 328.1 688.9 C329.8 687.6 332.3 686.7 334.0 686.7 C335.7 686.7 337.4 688.4 338.3 688.9 C339.2 689.4 338.9 691.1 339.4 690.0 C339.9 688.9 340.2 683.7 341.2 682.3 C342.2 680.9 344.2 681.0 345.6 681.6 C347.1 682.2 348.7 684.3 349.9 686.0 C351.1 687.7 352.2 689.8 352.8 691.8 C353.4 693.8 352.3 696.4 353.5 698.3 C354.7 700.2 357.0 701.1 360.0 703.4 C363.0 705.7 368.1 709.6 371.7 712.1 C375.3 714.6 380.9 716.9 381.9 718.6 C382.9 720.3 379.7 721.2 377.5 722.3 C375.3 723.4 370.4 724.0 368.8 725.2 C367.2 726.4 370.4 728.5 368.0 729.5 C365.6 730.5 359.0 730.3 354.3 731.0 C349.6 731.7 343.6 732.7 339.7 733.9 C335.8 735.1 333.4 736.6 331.0 738.3 C328.6 740.0 325.9 742.6 325.2 744.1 C324.5 745.6 325.2 746.2 326.7 747.0 C328.1 747.8 331.7 748.6 333.9 749.1 C336.1 749.6 338.0 749.5 339.7 749.9 C341.4 750.3 344.1 750.6 344.1 751.3 C344.1 752.0 341.1 753.5 339.7 754.2 C338.2 754.9 336.8 755.9 335.4 755.7 C333.9 755.5 332.7 753.9 331.0 752.8 C329.3 751.7 327.4 750.1 325.2 749.1 C323.0 748.1 320.4 747.1 318.0 747.0 C315.6 746.9 312.4 747.7 310.7 748.4 C309.0 749.1 309.0 750.4 307.8 751.3 C306.6 752.1 304.6 753.5 303.4 753.5 C302.2 753.5 301.2 752.6 300.5 751.3 C299.8 750.0 300.1 747.2 299.1 745.5 C298.1 743.8 297.6 741.9 294.7 741.2 C291.8 740.5 286.3 741.1 281.7 741.2 C277.1 741.3 271.5 741.5 267.1 741.9 C262.7 742.2 258.1 742.7 255.5 743.3 C252.8 743.9 251.4 744.6 251.2 745.5 C250.9 746.4 251.8 747.4 254.0 748.4 C256.2 749.4 261.5 750.4 264.2 751.3 C266.9 752.1 269.5 752.5 270.0 753.5 C270.5 754.5 268.3 756.4 267.1 757.1 C265.9 757.8 264.7 758.1 262.8 757.9 C260.9 757.7 258.4 756.6 255.5 755.7 C252.6 754.9 247.2 753.0 245.3 752.8 C243.4 752.5 245.4 753.8 243.9 754.2 C242.4 754.6 238.3 755.2 236.6 755.0 C234.9 754.8 234.4 754.1 233.7 752.8 C233.0 751.5 234.0 748.3 232.3 747.0 C230.6 745.7 226.8 745.3 223.6 744.8 C220.4 744.3 215.8 745.0 213.4 744.1 C211.0 743.2 209.7 741.9 209.0 739.7 C208.3 737.5 208.0 734.6 209.0 731.0Z" fill="#f5e4cc" stroke="#8a5a30" stroke-width="1.1" stroke-linejoin="round"/>
<path d="M324.5 699 Q325 691 331 688.5 Q337 688.5 338.5 693 Q332 694 324.5 699Z" fill="#e8c4a0"/>
<path d="M229 734 Q233 733 236 737 L237 743 Q232 741 229 734Z" fill="#e8c8a8"/>
<path d="M292 735 Q296 735 298 740 L299 745 Q294 742 292 735Z" fill="#e8c8a8"/>
<ellipse cx="356.4" cy="711.1" rx="3.6" ry="2.3" fill="#111"/>
<circle cx="248.3" cy="712.8" r="21" fill="url(#redspot)"/>
<circle cx="248.3" cy="712.8" r="11.5" fill="none" stroke="#ffd0c0" stroke-width="1" opacity="0.8"/>
<g transform="translate(126,787) rotate(-29.5)">
<line x1="48" y1="0" x2="70" y2="0" stroke="#777" stroke-width="1"/>
<rect x="-2" y="-7" width="4" height="14" rx="1" fill="#ddd" stroke="#555" stroke-width="0.8"/>
<rect x="2" y="-2" width="10" height="4" fill="#eee" stroke="#555" stroke-width="0.8"/>
<rect x="10" y="-6.5" width="3" height="13" fill="#ccc" stroke="#555" stroke-width="0.8"/>
<rect x="13" y="-5.5" width="31" height="11" fill="#f4f4f4" stroke="#555" stroke-width="0.8"/>
<rect x="24" y="-5.5" width="20" height="11" fill="#d01c1c" stroke="#555" stroke-width="0.8"/>
<rect x="26" y="-4" width="7" height="3" fill="#f06060"/>
<path d="M44 -3 L49 -1.5 L49 1.5 L44 3Z" fill="#ccc" stroke="#555" stroke-width="0.7"/>
</g>
<g stroke="#b4c6dc" stroke-width="3.2" stroke-linecap="round">
<line x1="247.6" y1="705.7" x2="362" y2="575"/>
<line x1="247.6" y1="724.8" x2="405.4" y2="937"/>
</g>
<defs><clipPath id="innerClip"><path d="M937.0 451.0 C942.3 449.7 946.2 448.7 960.0 448.0 C973.8 447.3 996.7 447.0 1020.0 447.0 C1043.3 447.0 1078.3 446.7 1100.0 448.0 C1121.7 449.3 1133.0 451.0 1150.0 455.0 C1167.0 459.0 1187.0 466.2 1202.0 472.0 C1217.0 477.8 1229.5 485.7 1240.0 490.0 C1250.5 494.3 1255.5 492.2 1265.0 498.0 C1274.5 503.8 1289.5 518.2 1297.0 525.0 C1304.5 531.8 1306.8 533.8 1310.0 539.0 C1313.2 544.2 1313.7 550.8 1316.0 556.0 C1318.3 561.2 1321.0 565.3 1324.0 570.0 C1327.0 574.7 1329.7 579.0 1334.0 584.0 C1338.3 589.0 1344.2 595.0 1350.0 600.0 C1355.8 605.0 1363.0 607.5 1369.0 614.0 C1375.0 620.5 1381.8 630.2 1386.0 639.0 C1390.2 647.8 1392.8 658.8 1394.5 667.0 C1396.2 675.2 1397.2 679.7 1396.5 688.0 C1395.8 696.3 1393.1 706.7 1390.0 717.0 C1386.9 727.3 1383.5 739.0 1378.0 750.0 C1372.5 761.0 1365.2 774.0 1357.0 783.0 C1348.8 792.0 1340.7 798.5 1329.0 804.0 C1317.3 809.5 1302.8 814.0 1287.0 816.0 C1271.2 818.0 1250.7 817.7 1234.0 816.0 C1217.3 814.3 1210.7 810.0 1187.0 806.0 C1163.3 802.0 1122.0 796.8 1092.0 792.0 C1062.0 787.2 1028.0 780.0 1007.0 777.0 C986.0 774.0 977.2 774.5 966.0 774.0 C954.8 773.5 946.7 774.3 940.0 774.0 C933.3 773.7 932.3 773.7 926.0 772.0 C919.7 770.3 909.3 766.8 902.0 764.0 C894.7 761.2 888.2 758.7 882.0 755.0 C875.8 751.3 869.0 746.2 865.0 742.0 C861.0 737.8 858.8 735.2 858.0 730.0 C857.2 724.8 858.8 718.3 860.5 711.0 C862.2 703.7 865.1 694.2 868.0 686.0 C870.9 677.8 874.8 670.0 877.6 662.0 C880.4 654.0 884.3 647.0 885.0 638.0 C885.7 629.0 883.7 616.0 882.0 608.0 C880.3 600.0 878.0 595.2 875.0 590.0 C872.0 584.8 868.2 581.2 864.0 577.0 C859.8 572.8 855.5 568.7 850.0 565.0 C844.5 561.3 837.7 557.8 831.0 555.0 C824.3 552.2 817.2 550.3 810.0 548.0 C802.8 545.7 786.3 545.2 788.0 541.0 C789.7 536.8 807.8 529.7 820.0 523.0 C832.2 516.3 849.3 507.7 861.0 501.0 C872.7 494.3 881.1 489.0 890.0 483.0 C898.9 477.0 908.2 469.5 914.5 465.0 C920.8 460.5 924.2 458.3 928.0 456.0 C931.8 453.7 931.7 452.3 937.0 451.0Z"/></clipPath></defs>
<path d="M934.0 421.0 C940.5 419.0 950.5 418.7 965.0 418.0 C979.5 417.3 998.5 417.0 1021.0 417.0 C1043.5 417.0 1078.5 416.7 1100.0 418.0 C1121.5 419.3 1134.8 421.4 1150.0 424.6 C1165.2 427.8 1177.3 431.6 1191.0 437.0 C1204.7 442.4 1218.3 449.8 1232.0 457.0 C1245.7 464.2 1261.2 474.2 1273.0 480.0 C1284.8 485.8 1295.2 488.6 1303.0 492.0 C1310.8 495.4 1315.5 497.2 1320.0 500.3 C1324.5 503.4 1327.3 506.7 1330.0 510.5 C1332.7 514.3 1334.0 518.2 1336.0 523.0 C1338.0 527.8 1338.8 533.5 1342.0 539.0 C1345.2 544.5 1350.2 550.5 1355.0 556.0 C1359.8 561.5 1366.0 566.7 1371.0 572.0 C1376.0 577.3 1380.8 582.8 1385.0 588.0 C1389.2 593.2 1392.3 596.7 1396.0 603.0 C1399.7 609.3 1403.2 617.3 1407.0 626.0 C1410.8 634.7 1416.3 646.7 1419.0 655.0 C1421.7 663.3 1422.7 667.0 1423.0 676.0 C1423.3 685.0 1423.0 698.0 1421.0 709.0 C1419.0 720.0 1416.2 731.0 1411.0 742.0 C1405.8 753.0 1398.3 764.8 1390.0 775.0 C1381.7 785.2 1371.3 794.8 1361.0 803.0 C1350.7 811.2 1340.3 817.0 1328.0 824.0 C1315.7 831.0 1302.7 837.7 1287.0 845.0 C1271.3 852.3 1254.7 861.0 1234.0 868.0 C1213.3 875.0 1186.7 883.0 1163.0 887.0 C1139.3 891.0 1115.8 892.7 1092.0 892.0 C1068.2 891.3 1037.7 885.3 1020.0 883.0 C1002.3 880.7 998.5 881.5 986.0 878.0 C973.5 874.5 958.7 868.5 945.0 862.0 C931.3 855.5 914.3 845.3 904.0 839.0 C893.7 832.7 890.0 829.5 883.0 824.0 C876.0 818.5 867.8 811.8 862.0 806.0 C856.2 800.2 852.3 795.5 848.0 789.0 C843.7 782.5 840.2 775.5 836.0 767.0 C831.8 758.5 826.5 747.3 823.0 738.0 C819.5 728.7 817.7 720.7 815.0 711.0 C812.3 701.3 809.5 688.2 807.0 680.0 C804.5 671.8 802.7 669.7 800.0 662.0 C797.3 654.3 794.0 644.0 791.0 634.0 C788.0 624.0 785.2 612.7 782.0 602.0 C778.8 591.3 775.0 581.2 772.0 570.0 C769.0 558.8 765.8 543.3 764.0 535.0 C762.2 526.7 760.7 524.3 761.0 520.0 C761.3 515.7 762.8 512.3 766.0 509.0 C769.2 505.7 774.3 502.8 780.0 500.0 C785.7 497.2 791.7 494.8 800.0 492.0 C808.3 489.2 819.8 486.3 830.0 483.0 C840.2 479.7 851.0 475.8 861.0 472.0 C871.0 468.2 881.5 464.5 890.0 460.0 C898.5 455.5 906.0 450.0 912.0 445.0 C918.0 440.0 922.3 434.0 926.0 430.0 C929.7 426.0 927.5 423.0 934.0 421.0Z" fill="url(#purpWall)"/>
<path d="M788.0 541.0 C795.7 543.2 802.8 545.7 810.0 548.0 C817.2 550.3 824.3 552.2 831.0 555.0 C837.7 557.8 844.5 561.3 850.0 565.0 C855.5 568.7 859.8 572.8 864.0 577.0 C868.2 581.2 872.0 584.8 875.0 590.0 C878.0 595.2 880.3 600.0 882.0 608.0 C883.7 616.0 885.7 629.0 885.0 638.0 C884.3 647.0 880.4 654.0 877.6 662.0 C874.8 670.0 870.9 677.8 868.0 686.0 C865.1 694.2 862.2 703.7 860.5 711.0 C858.8 718.3 857.2 724.8 858.0 730.0 C858.8 735.2 861.0 737.8 865.0 742.0 C869.0 746.2 875.8 751.3 882.0 755.0 C888.2 758.7 894.7 761.2 902.0 764.0 C909.3 766.8 919.7 770.3 926.0 772.0 C932.3 773.7 933.3 773.7 940.0 774.0 C946.7 774.3 954.8 773.5 966.0 774.0 C977.2 774.5 986.0 774.0 1007.0 777.0 C1028.0 780.0 1062.0 787.2 1092.0 792.0 C1122.0 796.8 1163.3 802.0 1187.0 806.0 C1210.7 810.0 1217.3 814.3 1234.0 816.0 C1250.7 817.7 1271.2 818.0 1287.0 816.0 C1302.8 814.0 1317.3 809.5 1329.0 804.0 C1340.7 798.5 1348.8 792.0 1357.0 783.0 C1365.2 774.0 1372.5 761.0 1378.0 750.0 C1383.5 739.0 1386.9 727.3 1390.0 717.0 C1393.1 706.7 1391.0 692.5 1396.5 688.0 C1402.0 683.5 1418.9 686.5 1423.0 690.0 C1427.1 693.5 1423.0 700.3 1421.0 709.0 C1419.0 717.7 1416.2 731.0 1411.0 742.0 C1405.8 753.0 1398.3 764.8 1390.0 775.0 C1381.7 785.2 1371.3 794.8 1361.0 803.0 C1350.7 811.2 1340.3 817.0 1328.0 824.0 C1315.7 831.0 1302.7 837.7 1287.0 845.0 C1271.3 852.3 1254.7 861.0 1234.0 868.0 C1213.3 875.0 1186.7 883.0 1163.0 887.0 C1139.3 891.0 1115.8 892.7 1092.0 892.0 C1068.2 891.3 1037.7 885.3 1020.0 883.0 C1002.3 880.7 998.5 881.5 986.0 878.0 C973.5 874.5 958.7 868.5 945.0 862.0 C931.3 855.5 914.3 845.3 904.0 839.0 C893.7 832.7 890.0 829.5 883.0 824.0 C876.0 818.5 867.8 811.8 862.0 806.0 C856.2 800.2 852.3 795.5 848.0 789.0 C843.7 782.5 840.2 775.5 836.0 767.0 C831.8 758.5 826.5 747.3 823.0 738.0 C819.5 728.7 817.7 720.7 815.0 711.0 C812.3 701.3 809.5 688.2 807.0 680.0 C804.5 671.8 802.7 669.7 800.0 662.0 C797.3 654.3 794.0 644.0 791.0 634.0 C788.0 624.0 785.2 612.7 782.0 602.0 C778.8 591.3 775.0 581.2 772.0 570.0 C769.0 558.8 761.3 539.8 764.0 535.0 C766.7 530.2 780.3 538.8 788.0 541.0Z" fill="#b07cc0" opacity="0.18"/>
<path d="M775.0 545.0 C779.2 545.5 790.7 546.0 800.0 548.0 C809.3 550.0 822.3 553.7 831.0 557.0 C839.7 560.3 846.2 564.2 852.0 568.0 C857.8 571.8 861.8 575.7 866.0 580.0 C870.2 584.3 874.0 589.0 877.0 594.0 C880.0 599.0 882.2 602.3 884.0 610.0 C885.8 617.7 888.7 630.3 888.0 640.0 C887.3 649.7 883.0 658.8 880.0 668.0 C877.0 677.2 873.0 686.3 870.0 695.0 C867.0 703.7 863.3 712.5 862.0 720.0 C860.7 727.5 862.0 736.7 862.0 740.0" fill="none" stroke="#b08ac6" stroke-width="7" opacity="0.55" filter="url(#blur2)"/>
<path d="M862.0 745.0 C865.3 747.5 875.3 756.0 882.0 760.0 C888.7 764.0 894.7 766.2 902.0 769.0 C909.3 771.8 915.3 775.3 926.0 777.0 C936.7 778.7 952.5 778.2 966.0 779.0 C979.5 779.8 986.0 779.0 1007.0 782.0 C1028.0 785.0 1062.0 792.2 1092.0 797.0 C1122.0 801.8 1163.3 807.0 1187.0 811.0 C1210.7 815.0 1217.3 819.3 1234.0 821.0 C1250.7 822.7 1271.2 823.0 1287.0 821.0 C1302.8 819.0 1317.3 814.5 1329.0 809.0 C1340.7 803.5 1348.8 797.0 1357.0 788.0 C1365.2 779.0 1374.5 760.5 1378.0 755.0" fill="none" stroke="#c494d8" stroke-width="12" opacity="0.5" filter="url(#blur2)"/>
<path d="M937.0 451.0 C942.3 449.7 946.2 448.7 960.0 448.0 C973.8 447.3 996.7 447.0 1020.0 447.0 C1043.3 447.0 1078.3 446.7 1100.0 448.0 C1121.7 449.3 1133.0 451.0 1150.0 455.0 C1167.0 459.0 1187.0 466.2 1202.0 472.0 C1217.0 477.8 1229.5 485.7 1240.0 490.0 C1250.5 494.3 1255.5 492.2 1265.0 498.0 C1274.5 503.8 1289.5 518.2 1297.0 525.0 C1304.5 531.8 1306.8 533.8 1310.0 539.0 C1313.2 544.2 1313.7 550.8 1316.0 556.0 C1318.3 561.2 1321.0 565.3 1324.0 570.0 C1327.0 574.7 1329.7 579.0 1334.0 584.0 C1338.3 589.0 1344.2 595.0 1350.0 600.0 C1355.8 605.0 1363.0 607.5 1369.0 614.0 C1375.0 620.5 1381.8 630.2 1386.0 639.0 C1390.2 647.8 1392.8 658.8 1394.5 667.0 C1396.2 675.2 1397.2 679.7 1396.5 688.0 C1395.8 696.3 1393.1 706.7 1390.0 717.0 C1386.9 727.3 1383.5 739.0 1378.0 750.0 C1372.5 761.0 1365.2 774.0 1357.0 783.0 C1348.8 792.0 1340.7 798.5 1329.0 804.0 C1317.3 809.5 1302.8 814.0 1287.0 816.0 C1271.2 818.0 1250.7 817.7 1234.0 816.0 C1217.3 814.3 1210.7 810.0 1187.0 806.0 C1163.3 802.0 1122.0 796.8 1092.0 792.0 C1062.0 787.2 1028.0 780.0 1007.0 777.0 C986.0 774.0 977.2 774.5 966.0 774.0 C954.8 773.5 946.7 774.3 940.0 774.0 C933.3 773.7 932.3 773.7 926.0 772.0 C919.7 770.3 909.3 766.8 902.0 764.0 C894.7 761.2 888.2 758.7 882.0 755.0 C875.8 751.3 869.0 746.2 865.0 742.0 C861.0 737.8 858.8 735.2 858.0 730.0 C857.2 724.8 858.8 718.3 860.5 711.0 C862.2 703.7 865.1 694.2 868.0 686.0 C870.9 677.8 874.8 670.0 877.6 662.0 C880.4 654.0 884.3 647.0 885.0 638.0 C885.7 629.0 883.7 616.0 882.0 608.0 C880.3 600.0 878.0 595.2 875.0 590.0 C872.0 584.8 868.2 581.2 864.0 577.0 C859.8 572.8 855.5 568.7 850.0 565.0 C844.5 561.3 837.7 557.8 831.0 555.0 C824.3 552.2 817.2 550.3 810.0 548.0 C802.8 545.7 786.3 545.2 788.0 541.0 C789.7 536.8 807.8 529.7 820.0 523.0 C832.2 516.3 849.3 507.7 861.0 501.0 C872.7 494.3 881.1 489.0 890.0 483.0 C898.9 477.0 908.2 469.5 914.5 465.0 C920.8 460.5 924.2 458.3 928.0 456.0 C931.8 453.7 931.7 452.3 937.0 451.0Z" fill="url(#blueInt)"/>
<g clip-path="url(#innerClip)">
<defs><linearGradient id="topShade" x1="0" y1="0" x2="0" y2="1"><stop offset="0" stop-color="#0a4a70" stop-opacity="0.55"/><stop offset="1" stop-color="#0a4a70" stop-opacity="0"/></linearGradient><radialGradient id="stripeMask" gradientUnits="userSpaceOnUse" cx="1300" cy="760" r="330"><stop offset="0" stop-color="#fff" stop-opacity="1"/><stop offset="0.55" stop-color="#fff" stop-opacity="0.85"/><stop offset="1" stop-color="#fff" stop-opacity="0"/></radialGradient><mask id="stripeM"><rect x="700" y="400" width="746" height="500" fill="url(#stripeMask)"/></mask></defs>
<rect x="850" y="440" width="560" height="45" fill="url(#topShade)"/>
<defs><filter id="soft" x="-5%" y="-5%" width="110%" height="110%"><feGaussianBlur stdDeviation="1.3"/></filter></defs>
<g filter="url(#soft)">
<g stroke="#34b2e4" stroke-linecap="round" fill="none" opacity="0.5">
<path d="M980 501 Q996 487 1016 483" stroke-width="3.6"/>
<path d="M1053 463 Q1066 459 1082 448" stroke-width="2.3"/>
<path d="M900 526 Q918 534 939 531" stroke-width="3.7"/>
<path d="M869 742 Q878 740 893 731" stroke-width="2.4"/>
<path d="M922 648 Q937 637 961 637" stroke-width="3.6"/>
<path d="M932 681 Q947 674 963 672" stroke-width="3.8"/>
<path d="M1168 688 Q1185 689 1192 685" stroke-width="3.6"/>
<path d="M965 783 Q971 781 984 779" stroke-width="4.3"/>
<path d="M866 677 Q886 677 911 672" stroke-width="4.6"/>
<path d="M1088 647 Q1104 650 1121 649" stroke-width="4.8"/>
<path d="M874 689 Q892 691 915 695" stroke-width="4.5"/>
<path d="M1117 458 Q1128 454 1148 444" stroke-width="2.4"/>
<path d="M902 534 Q916 536 932 537" stroke-width="2.2"/>
<path d="M1203 729 Q1225 725 1250 713" stroke-width="3.2"/>
<path d="M1233 501 Q1243 498 1254 494" stroke-width="2.7"/>
<path d="M955 451 Q976 450 986 443" stroke-width="3.7"/>
<path d="M1056 660 Q1078 655 1093 640" stroke-width="4.7"/>
<path d="M1169 583 Q1178 571 1197 570" stroke-width="3.9"/>
<path d="M934 505 Q942 494 959 492" stroke-width="2.0"/>
<path d="M995 459 Q1017 454 1045 454" stroke-width="2.4"/>
<path d="M996 492 Q1020 491 1044 500" stroke-width="3.4"/>
<path d="M891 566 Q898 573 916 568" stroke-width="2.5"/>
<path d="M1061 500 Q1083 495 1093 482" stroke-width="3.6"/>
<path d="M1128 539 Q1142 536 1156 527" stroke-width="4.3"/>
<path d="M982 526 Q1009 534 1029 534" stroke-width="4.6"/>
<path d="M1146 527 Q1157 520 1180 517" stroke-width="2.1"/>
<path d="M954 685 Q986 685 1006 674" stroke-width="4.8"/>
<path d="M996 525 Q1008 525 1018 516" stroke-width="2.6"/>
<path d="M1186 613 Q1209 619 1227 614" stroke-width="2.3"/>
<path d="M1163 705 Q1177 702 1194 692" stroke-width="4.4"/>
<path d="M1239 585 Q1250 582 1269 589" stroke-width="4.2"/>
<path d="M910 758 Q938 750 954 738" stroke-width="4.5"/>
<path d="M990 637 Q1001 632 1008 627" stroke-width="4.9"/>
<path d="M1223 597 Q1245 596 1273 600" stroke-width="2.6"/>
<path d="M946 649 Q963 645 971 644" stroke-width="2.4"/>
<path d="M1033 648 Q1058 643 1083 637" stroke-width="4.8"/>
<path d="M1059 456 Q1078 446 1089 444" stroke-width="2.0"/>
<path d="M1039 697 Q1058 695 1075 686" stroke-width="3.6"/>
<path d="M892 641 Q904 637 916 632" stroke-width="4.3"/>
<path d="M1154 760 Q1170 761 1187 757" stroke-width="3.5"/>
<path d="M1031 631 Q1052 639 1065 636" stroke-width="4.1"/>
<path d="M954 640 Q976 641 1006 644" stroke-width="2.4"/>
<path d="M879 532 Q893 527 897 531" stroke-width="4.4"/>
<path d="M1136 674 Q1143 681 1157 676" stroke-width="4.9"/>
<path d="M1009 616 Q1036 617 1064 619" stroke-width="2.5"/>
<path d="M986 517 Q1000 516 1013 516" stroke-width="2.1"/>
<path d="M857 563 Q883 563 897 556" stroke-width="2.2"/>
<path d="M1239 486 Q1247 475 1261 473" stroke-width="4.3"/>
<path d="M1019 760 Q1046 753 1064 744" stroke-width="2.4"/>
<path d="M1130 480 Q1134 485 1147 480" stroke-width="3.3"/>
<path d="M1104 723 Q1117 723 1122 724" stroke-width="2.2"/>
<path d="M986 638 Q1011 626 1035 621" stroke-width="2.4"/>
<path d="M894 505 Q899 505 910 499" stroke-width="2.9"/>
<path d="M966 620 Q974 611 987 614" stroke-width="2.1"/>
<path d="M1143 637 Q1150 639 1165 633" stroke-width="4.8"/>
<path d="M1023 618 Q1049 618 1070 606" stroke-width="3.5"/>
<path d="M987 733 Q1007 726 1030 730" stroke-width="3.2"/>
<path d="M902 474 Q918 471 944 459" stroke-width="2.5"/>
<path d="M1198 678 Q1210 669 1223 669" stroke-width="2.9"/>
<path d="M1028 540 Q1052 549 1081 548" stroke-width="3.6"/>
<path d="M974 571 Q981 566 988 567" stroke-width="3.4"/>
<path d="M1052 452 Q1058 440 1075 440" stroke-width="3.2"/>
<path d="M972 529 Q993 529 1010 523" stroke-width="4.3"/>
<path d="M1202 582 Q1218 586 1229 587" stroke-width="2.4"/>
<path d="M868 734 Q897 728 918 730" stroke-width="4.2"/>
<path d="M1060 621 Q1085 627 1108 623" stroke-width="4.5"/>
<path d="M1123 686 Q1132 675 1144 674" stroke-width="2.4"/>
<path d="M1184 640 Q1204 632 1224 636" stroke-width="4.0"/>
<path d="M1169 704 Q1181 705 1204 699" stroke-width="4.0"/>
<path d="M951 475 Q967 481 976 475" stroke-width="2.6"/>
<path d="M1048 580 Q1066 581 1082 578" stroke-width="4.3"/>
<path d="M881 500 Q894 494 906 500" stroke-width="2.9"/>
<path d="M874 541 Q893 541 916 540" stroke-width="4.0"/>
<path d="M1036 609 Q1051 615 1056 611" stroke-width="2.6"/>
<path d="M857 606 Q878 606 904 613" stroke-width="3.3"/>
<path d="M1228 522 Q1251 509 1263 506" stroke-width="3.6"/>
<path d="M1178 623 Q1208 622 1229 621" stroke-width="2.7"/>
<path d="M860 451 Q873 446 894 444" stroke-width="2.9"/>
<path d="M976 736 Q979 741 992 736" stroke-width="4.5"/>
<path d="M1135 757 Q1154 754 1161 750" stroke-width="3.2"/>
<path d="M994 596 Q1010 587 1017 583" stroke-width="2.3"/>
<path d="M1224 535 Q1235 538 1250 531" stroke-width="2.6"/>
<path d="M1204 726 Q1224 731 1244 731" stroke-width="4.8"/>
<path d="M870 699 Q884 694 903 699" stroke-width="3.9"/>
<path d="M1221 493 Q1240 494 1253 484" stroke-width="2.9"/>
<path d="M954 673 Q963 667 981 669" stroke-width="3.2"/>
<path d="M933 758 Q955 751 966 745" stroke-width="4.7"/>
<path d="M906 515 Q912 510 924 510" stroke-width="2.3"/>
<path d="M1078 752 Q1100 745 1122 741" stroke-width="3.2"/>
<path d="M985 471 Q998 475 1011 475" stroke-width="2.4"/>
<path d="M1195 523 Q1207 524 1219 515" stroke-width="3.2"/>
<path d="M1189 747 Q1201 743 1203 739" stroke-width="4.1"/>
<path d="M1085 450 Q1104 458 1115 454" stroke-width="4.5"/>
<path d="M949 487 Q965 488 970 484" stroke-width="4.0"/>
<path d="M1109 710 Q1129 705 1142 705" stroke-width="2.1"/>
<path d="M1218 669 Q1232 666 1243 658" stroke-width="2.8"/>
<path d="M895 474 Q909 473 931 470" stroke-width="3.2"/>
<path d="M854 553 Q875 555 887 557" stroke-width="3.9"/>
<path d="M944 534 Q965 533 997 532" stroke-width="2.9"/>
<path d="M1120 593 Q1129 586 1145 591" stroke-width="4.8"/>
<path d="M985 593 Q1008 585 1024 577" stroke-width="4.4"/>
<path d="M932 780 Q942 784 960 781" stroke-width="2.7"/>
<path d="M968 774 Q983 769 1000 760" stroke-width="2.7"/>
<path d="M1230 500 Q1240 489 1258 489" stroke-width="4.9"/>
<path d="M874 584 Q905 591 925 588" stroke-width="4.2"/>
<path d="M982 513 Q1010 512 1034 513" stroke-width="2.1"/>
<path d="M1000 563 Q1007 563 1018 552" stroke-width="2.8"/>
<path d="M899 778 Q915 774 922 772" stroke-width="4.5"/>
<path d="M870 611 Q883 618 899 615" stroke-width="2.6"/>
<path d="M862 590 Q880 585 910 590" stroke-width="2.1"/>
<path d="M1218 537 Q1238 545 1263 542" stroke-width="3.0"/>
<path d="M1097 539 Q1112 536 1138 526" stroke-width="2.8"/>
<path d="M1217 666 Q1239 658 1263 640" stroke-width="2.7"/>
<path d="M1232 581 Q1249 575 1256 576" stroke-width="3.5"/>
<path d="M1171 701 Q1193 699 1219 702" stroke-width="3.8"/>
<path d="M995 716 Q1000 707 1012 709" stroke-width="4.3"/>
<path d="M864 638 Q883 637 891 642" stroke-width="4.7"/>
<path d="M884 483 Q898 481 919 482" stroke-width="3.3"/>
<path d="M1098 679 Q1116 685 1143 682" stroke-width="4.0"/>
<path d="M968 643 Q979 640 997 642" stroke-width="2.6"/>
<path d="M911 751 Q935 745 948 740" stroke-width="3.2"/>
<path d="M943 725 Q963 732 983 732" stroke-width="2.3"/>
<path d="M1186 761 Q1190 764 1202 756" stroke-width="2.4"/>
<path d="M1083 766 Q1095 771 1113 769" stroke-width="3.3"/>
<path d="M1228 486 Q1246 480 1267 482" stroke-width="2.7"/>
<path d="M932 537 Q945 533 970 534" stroke-width="2.6"/>
<path d="M1121 513 Q1135 503 1147 503" stroke-width="4.4"/>
<path d="M891 584 Q905 585 927 582" stroke-width="2.3"/>
<path d="M1014 546 Q1028 547 1041 550" stroke-width="2.9"/>
<path d="M1017 744 Q1046 733 1069 729" stroke-width="2.6"/>
<path d="M852 757 Q873 757 884 758" stroke-width="3.2"/>
<path d="M915 455 Q929 455 952 452" stroke-width="4.7"/>
<path d="M998 622 Q1013 613 1018 615" stroke-width="3.6"/>
<path d="M1046 724 Q1076 719 1096 703" stroke-width="2.4"/>
<path d="M1043 468 Q1070 466 1093 455" stroke-width="4.7"/>
<path d="M914 717 Q930 711 937 711" stroke-width="4.5"/>
<path d="M937 586 Q951 584 972 577" stroke-width="2.4"/>
<path d="M1209 464 Q1232 459 1246 464" stroke-width="2.1"/>
<path d="M1090 637 Q1110 630 1128 625" stroke-width="3.3"/>
<path d="M1114 602 Q1128 591 1142 586" stroke-width="3.9"/>
<path d="M1155 715 Q1166 704 1186 702" stroke-width="3.4"/>
<path d="M1022 481 Q1040 473 1054 476" stroke-width="2.1"/>
<path d="M1143 714 Q1158 712 1175 698" stroke-width="3.5"/>
<path d="M904 741 Q928 747 959 741" stroke-width="4.4"/>
<path d="M1047 775 Q1076 760 1094 755" stroke-width="4.4"/>
<path d="M990 707 Q1005 704 1012 709" stroke-width="2.8"/>
<path d="M1051 763 Q1060 753 1073 755" stroke-width="3.5"/>
<path d="M923 505 Q945 507 975 502" stroke-width="4.7"/>
<path d="M896 630 Q916 626 935 620" stroke-width="4.6"/>
<path d="M1203 486 Q1234 480 1258 481" stroke-width="3.2"/>
<path d="M1246 646 Q1257 649 1276 647" stroke-width="3.3"/>
<path d="M869 729 Q883 730 894 727" stroke-width="5.0"/>
<path d="M975 451 Q982 447 990 444" stroke-width="3.8"/>
<path d="M1208 495 Q1214 492 1232 493" stroke-width="2.1"/>
<path d="M893 571 Q901 572 916 569" stroke-width="3.8"/>
<path d="M1040 496 Q1060 488 1089 478" stroke-width="2.4"/>
<path d="M1199 716 Q1215 712 1228 706" stroke-width="2.0"/>
<path d="M990 670 Q1003 676 1023 674" stroke-width="4.2"/>
<path d="M868 631 Q886 619 897 620" stroke-width="2.2"/>
<path d="M1070 770 Q1080 768 1090 762" stroke-width="3.8"/>
<path d="M1175 509 Q1193 509 1201 501" stroke-width="2.1"/>
<path d="M1136 452 Q1163 452 1185 452" stroke-width="3.4"/>
<path d="M940 486 Q954 482 962 474" stroke-width="3.0"/>
<path d="M1188 692 Q1204 691 1214 688" stroke-width="3.3"/>
<path d="M956 668 Q975 656 1006 649" stroke-width="4.6"/>
<path d="M944 703 Q975 701 997 703" stroke-width="3.0"/>
<path d="M946 759 Q972 757 986 757" stroke-width="4.0"/>
<path d="M1186 687 Q1211 680 1234 677" stroke-width="4.2"/>
<path d="M935 662 Q938 658 953 664" stroke-width="2.4"/>
<path d="M1222 567 Q1233 564 1240 557" stroke-width="2.1"/>
</g>
<g stroke="#0c5c88" stroke-linecap="round" fill="none" opacity="0.4">
<path d="M1129 693 Q1144 696 1151 691" stroke-width="4.5"/>
<path d="M1207 472 Q1229 471 1261 478" stroke-width="6.8"/>
<path d="M895 461 Q926 464 949 464" stroke-width="5.5"/>
<path d="M965 483 Q975 482 989 483" stroke-width="3.8"/>
<path d="M858 535 Q872 540 890 534" stroke-width="4.5"/>
<path d="M1051 731 Q1070 723 1091 709" stroke-width="4.7"/>
<path d="M989 683 Q1003 679 1027 667" stroke-width="6.4"/>
<path d="M918 450 Q926 450 946 451" stroke-width="6.9"/>
<path d="M1047 713 Q1064 708 1074 708" stroke-width="4.4"/>
<path d="M1228 544 Q1237 545 1256 543" stroke-width="5.0"/>
<path d="M882 710 Q905 709 930 711" stroke-width="5.5"/>
<path d="M1008 744 Q1016 742 1031 746" stroke-width="3.1"/>
<path d="M1210 615 Q1228 617 1246 619" stroke-width="3.9"/>
<path d="M1152 698 Q1170 696 1196 686" stroke-width="4.3"/>
<path d="M1115 695 Q1129 687 1141 689" stroke-width="6.1"/>
<path d="M1035 742 Q1051 741 1062 731" stroke-width="4.2"/>
<path d="M912 501 Q922 495 940 493" stroke-width="5.1"/>
<path d="M926 772 Q943 760 970 750" stroke-width="6.8"/>
<path d="M1244 712 Q1269 702 1292 702" stroke-width="3.8"/>
<path d="M933 578 Q945 576 953 573" stroke-width="6.2"/>
<path d="M1103 603 Q1119 606 1128 600" stroke-width="4.6"/>
<path d="M1022 639 Q1049 638 1071 628" stroke-width="3.9"/>
<path d="M1160 681 Q1186 677 1214 678" stroke-width="5.6"/>
<path d="M1101 482 Q1121 480 1138 483" stroke-width="5.9"/>
<path d="M1019 600 Q1046 591 1063 590" stroke-width="5.7"/>
<path d="M1112 707 Q1124 704 1147 700" stroke-width="6.9"/>
<path d="M914 708 Q944 704 971 699" stroke-width="3.4"/>
<path d="M1137 619 Q1159 626 1182 622" stroke-width="5.1"/>
<path d="M934 676 Q958 674 970 676" stroke-width="3.5"/>
<path d="M873 541 Q887 534 904 523" stroke-width="4.7"/>
<path d="M991 538 Q1006 534 1020 537" stroke-width="6.8"/>
<path d="M1171 579 Q1187 575 1196 567" stroke-width="6.1"/>
<path d="M1038 635 Q1054 641 1066 640" stroke-width="4.4"/>
<path d="M1176 604 Q1196 601 1208 600" stroke-width="3.5"/>
<path d="M1190 538 Q1203 526 1223 526" stroke-width="4.7"/>
<path d="M1139 543 Q1152 540 1167 534" stroke-width="4.9"/>
<path d="M1114 570 Q1146 577 1171 574" stroke-width="3.2"/>
<path d="M1164 496 Q1184 500 1217 492" stroke-width="3.1"/>
<path d="M1112 533 Q1127 526 1134 523" stroke-width="3.9"/>
<path d="M911 748 Q936 742 959 728" stroke-width="6.6"/>
<path d="M1117 745 Q1145 747 1169 748" stroke-width="3.8"/>
<path d="M1147 595 Q1171 587 1202 587" stroke-width="4.1"/>
<path d="M1047 469 Q1065 462 1083 453" stroke-width="5.0"/>
<path d="M1195 452 Q1223 451 1248 442" stroke-width="5.3"/>
<path d="M1000 588 Q1028 569 1052 562" stroke-width="5.5"/>
<path d="M1094 675 Q1121 667 1149 659" stroke-width="6.9"/>
<path d="M1209 461 Q1238 457 1258 457" stroke-width="4.4"/>
<path d="M1040 623 Q1063 615 1087 605" stroke-width="4.7"/>
<path d="M1181 547 Q1204 540 1232 534" stroke-width="5.0"/>
<path d="M1240 666 Q1262 660 1289 651" stroke-width="4.3"/>
<path d="M1104 709 Q1115 703 1126 708" stroke-width="6.5"/>
<path d="M970 452 Q986 457 998 455" stroke-width="5.4"/>
<path d="M1214 652 Q1237 652 1258 648" stroke-width="5.8"/>
<path d="M935 670 Q950 665 973 670" stroke-width="3.4"/>
<path d="M1160 752 Q1186 746 1204 739" stroke-width="6.3"/>
<path d="M953 550 Q973 549 988 539" stroke-width="4.7"/>
<path d="M872 637 Q883 638 891 628" stroke-width="6.2"/>
<path d="M1029 455 Q1052 452 1064 451" stroke-width="6.8"/>
<path d="M1015 484 Q1030 469 1058 467" stroke-width="3.6"/>
<path d="M1124 490 Q1145 471 1176 464" stroke-width="6.5"/>
<path d="M1138 530 Q1164 523 1183 511" stroke-width="3.2"/>
<path d="M1192 691 Q1203 695 1215 689" stroke-width="5.8"/>
<path d="M952 768 Q975 760 994 744" stroke-width="3.1"/>
<path d="M882 553 Q904 538 927 533" stroke-width="6.4"/>
<path d="M997 640 Q1019 637 1035 638" stroke-width="3.6"/>
<path d="M1108 658 Q1131 657 1143 649" stroke-width="6.1"/>
<path d="M1077 546 Q1092 546 1099 550" stroke-width="5.8"/>
<path d="M1092 773 Q1118 774 1145 767" stroke-width="4.2"/>
<path d="M1001 676 Q1020 672 1045 680" stroke-width="6.2"/>
<path d="M955 589 Q971 594 999 591" stroke-width="6.5"/>
<path d="M1175 736 Q1199 731 1215 722" stroke-width="6.4"/>
<path d="M1215 564 Q1223 566 1239 561" stroke-width="6.2"/>
<path d="M1223 527 Q1241 523 1267 525" stroke-width="4.9"/>
<path d="M1150 711 Q1171 699 1185 694" stroke-width="6.2"/>
<path d="M1082 746 Q1110 738 1137 737" stroke-width="4.9"/>
<path d="M927 510 Q949 503 973 497" stroke-width="5.3"/>
<path d="M910 465 Q940 460 967 449" stroke-width="3.4"/>
<path d="M912 647 Q924 650 946 642" stroke-width="3.1"/>
<path d="M1196 610 Q1216 609 1237 596" stroke-width="6.1"/>
<path d="M1157 720 Q1181 706 1212 700" stroke-width="3.2"/>
<path d="M883 467 Q910 474 926 470" stroke-width="4.8"/>
<path d="M876 647 Q889 640 908 632" stroke-width="6.8"/>
<path d="M1106 766 Q1125 765 1152 754" stroke-width="4.8"/>
<path d="M1247 523 Q1262 524 1267 516" stroke-width="4.4"/>
<path d="M1185 466 Q1216 459 1236 464" stroke-width="5.6"/>
<path d="M908 699 Q938 701 965 696" stroke-width="4.2"/>
<path d="M892 557 Q902 547 920 544" stroke-width="4.9"/>
<path d="M907 674 Q912 679 928 673" stroke-width="3.8"/>
<path d="M938 758 Q965 756 993 763" stroke-width="3.6"/>
<path d="M1222 728 Q1247 723 1266 719" stroke-width="4.4"/>
</g>
</g>
<g mask="url(#stripeM)">
<g stroke-linecap="round" fill="none">
<line x1="1249" y1="636" x2="1295" y2="616" stroke="#3aa0a8" stroke-width="1.5" opacity="0.85"/>
<line x1="1168" y1="822" x2="1232" y2="795" stroke="#f4ffff" stroke-width="1.7" opacity="0.85"/>
<line x1="1149" y1="639" x2="1199" y2="618" stroke="#bfeef2" stroke-width="3.2" opacity="0.85"/>
<line x1="1330" y1="665" x2="1367" y2="650" stroke="#f4ffff" stroke-width="2.4" opacity="0.85"/>
<line x1="1013" y1="845" x2="1045" y2="831" stroke="#3aa0a8" stroke-width="3.4" opacity="0.85"/>
<line x1="1386" y1="740" x2="1482" y2="699" stroke="#d0f4f8" stroke-width="1.7" opacity="0.85"/>
<line x1="1407" y1="708" x2="1456" y2="687" stroke="#d0f4f8" stroke-width="1.9" opacity="0.85"/>
<line x1="1005" y1="672" x2="1107" y2="629" stroke="#3aa0a8" stroke-width="1.5" opacity="0.85"/>
<line x1="1410" y1="636" x2="1491" y2="602" stroke="#7fd0d8" stroke-width="2.4" opacity="0.85"/>
<line x1="1117" y1="635" x2="1145" y2="623" stroke="#7fd0d8" stroke-width="3.2" opacity="0.85"/>
<line x1="1092" y1="690" x2="1123" y2="677" stroke="#bfeef2" stroke-width="2.3" opacity="0.85"/>
<line x1="1223" y1="635" x2="1265" y2="616" stroke="#3aa0a8" stroke-width="3.1" opacity="0.85"/>
<line x1="1041" y1="750" x2="1137" y2="709" stroke="#3aa0a8" stroke-width="3.4" opacity="0.85"/>
<line x1="1188" y1="668" x2="1233" y2="650" stroke="#3aa0a8" stroke-width="2.7" opacity="0.85"/>
<line x1="1249" y1="648" x2="1302" y2="625" stroke="#3aa0a8" stroke-width="1.4" opacity="0.85"/>
<line x1="1297" y1="702" x2="1384" y2="665" stroke="#bfeef2" stroke-width="1.5" opacity="0.85"/>
<line x1="1114" y1="810" x2="1213" y2="768" stroke="#e6fbff" stroke-width="2.5" opacity="0.85"/>
<line x1="1148" y1="791" x2="1187" y2="774" stroke="#d0f4f8" stroke-width="2.9" opacity="0.85"/>
<line x1="1046" y1="808" x2="1104" y2="783" stroke="#bfeef2" stroke-width="1.8" opacity="0.85"/>
<line x1="1224" y1="815" x2="1282" y2="790" stroke="#7fd0d8" stroke-width="3.5" opacity="0.85"/>
<line x1="993" y1="689" x2="1041" y2="669" stroke="#bfeef2" stroke-width="3.2" opacity="0.85"/>
<line x1="1318" y1="817" x2="1394" y2="785" stroke="#bfeef2" stroke-width="3.4" opacity="0.85"/>
<line x1="1361" y1="839" x2="1430" y2="809" stroke="#7fd0d8" stroke-width="2.5" opacity="0.85"/>
<line x1="1330" y1="634" x2="1378" y2="613" stroke="#7fd0d8" stroke-width="1.6" opacity="0.85"/>
<line x1="1044" y1="626" x2="1092" y2="605" stroke="#e6fbff" stroke-width="3.2" opacity="0.85"/>
<line x1="969" y1="832" x2="1058" y2="794" stroke="#7fd0d8" stroke-width="2.0" opacity="0.85"/>
<line x1="1253" y1="716" x2="1300" y2="696" stroke="#bfeef2" stroke-width="2.4" opacity="0.85"/>
<line x1="1360" y1="779" x2="1391" y2="766" stroke="#f4ffff" stroke-width="1.7" opacity="0.85"/>
<line x1="1230" y1="790" x2="1266" y2="775" stroke="#d0f4f8" stroke-width="1.7" opacity="0.85"/>
<line x1="1209" y1="657" x2="1256" y2="637" stroke="#f4ffff" stroke-width="2.9" opacity="0.85"/>
<line x1="1303" y1="641" x2="1399" y2="600" stroke="#f4ffff" stroke-width="3.5" opacity="0.85"/>
<line x1="1279" y1="749" x2="1357" y2="716" stroke="#e6fbff" stroke-width="1.5" opacity="0.85"/>
<line x1="1317" y1="685" x2="1365" y2="664" stroke="#f4ffff" stroke-width="2.1" opacity="0.85"/>
<line x1="1348" y1="741" x2="1457" y2="695" stroke="#f4ffff" stroke-width="2.1" opacity="0.85"/>
<line x1="1350" y1="613" x2="1420" y2="583" stroke="#bfeef2" stroke-width="3.5" opacity="0.85"/>
<line x1="1075" y1="706" x2="1155" y2="672" stroke="#7fd0d8" stroke-width="2.2" opacity="0.85"/>
<line x1="1046" y1="681" x2="1090" y2="662" stroke="#d0f4f8" stroke-width="2.9" opacity="0.85"/>
<line x1="1024" y1="842" x2="1116" y2="803" stroke="#3aa0a8" stroke-width="3.5" opacity="0.85"/>
<line x1="982" y1="845" x2="1090" y2="799" stroke="#3aa0a8" stroke-width="1.5" opacity="0.85"/>
<line x1="1246" y1="829" x2="1325" y2="796" stroke="#e6fbff" stroke-width="2.8" opacity="0.85"/>
<line x1="1246" y1="663" x2="1316" y2="633" stroke="#e6fbff" stroke-width="2.4" opacity="0.85"/>
<line x1="1092" y1="676" x2="1174" y2="642" stroke="#7fd0d8" stroke-width="1.7" opacity="0.85"/>
<line x1="1401" y1="830" x2="1503" y2="787" stroke="#7fd0d8" stroke-width="1.6" opacity="0.85"/>
<line x1="1206" y1="637" x2="1243" y2="621" stroke="#bfeef2" stroke-width="1.7" opacity="0.85"/>
<line x1="1381" y1="744" x2="1431" y2="723" stroke="#3aa0a8" stroke-width="3.0" opacity="0.85"/>
<line x1="1211" y1="810" x2="1289" y2="777" stroke="#3aa0a8" stroke-width="2.7" opacity="0.85"/>
<line x1="1138" y1="737" x2="1196" y2="713" stroke="#bfeef2" stroke-width="3.4" opacity="0.85"/>
<line x1="1242" y1="717" x2="1295" y2="695" stroke="#d0f4f8" stroke-width="1.9" opacity="0.85"/>
<line x1="1047" y1="736" x2="1155" y2="691" stroke="#bfeef2" stroke-width="2.3" opacity="0.85"/>
<line x1="1035" y1="838" x2="1089" y2="815" stroke="#bfeef2" stroke-width="2.1" opacity="0.85"/>
<line x1="1091" y1="847" x2="1143" y2="825" stroke="#d0f4f8" stroke-width="3.1" opacity="0.85"/>
<line x1="1214" y1="751" x2="1270" y2="728" stroke="#7fd0d8" stroke-width="2.8" opacity="0.85"/>
<line x1="1138" y1="710" x2="1227" y2="672" stroke="#d0f4f8" stroke-width="1.6" opacity="0.85"/>
<line x1="1415" y1="769" x2="1520" y2="725" stroke="#3aa0a8" stroke-width="2.3" opacity="0.85"/>
<line x1="1122" y1="769" x2="1201" y2="735" stroke="#7fd0d8" stroke-width="3.3" opacity="0.85"/>
<line x1="1004" y1="814" x2="1108" y2="770" stroke="#bfeef2" stroke-width="3.6" opacity="0.85"/>
<line x1="1321" y1="777" x2="1424" y2="733" stroke="#e6fbff" stroke-width="1.7" opacity="0.85"/>
<line x1="962" y1="791" x2="1038" y2="759" stroke="#7fd0d8" stroke-width="2.5" opacity="0.85"/>
<line x1="1029" y1="812" x2="1080" y2="791" stroke="#e6fbff" stroke-width="2.8" opacity="0.85"/>
<line x1="1135" y1="713" x2="1200" y2="685" stroke="#bfeef2" stroke-width="3.0" opacity="0.85"/>
<line x1="1122" y1="732" x2="1199" y2="699" stroke="#e6fbff" stroke-width="2.8" opacity="0.85"/>
<line x1="1322" y1="812" x2="1391" y2="783" stroke="#d0f4f8" stroke-width="2.4" opacity="0.85"/>
<line x1="1207" y1="801" x2="1271" y2="774" stroke="#d0f4f8" stroke-width="2.2" opacity="0.85"/>
<line x1="1000" y1="830" x2="1055" y2="807" stroke="#d0f4f8" stroke-width="3.3" opacity="0.85"/>
<line x1="1401" y1="651" x2="1464" y2="624" stroke="#e6fbff" stroke-width="3.4" opacity="0.85"/>
<line x1="972" y1="664" x2="1074" y2="621" stroke="#7fd0d8" stroke-width="2.1" opacity="0.85"/>
<line x1="1316" y1="735" x2="1426" y2="688" stroke="#7fd0d8" stroke-width="2.5" opacity="0.85"/>
<line x1="1294" y1="708" x2="1361" y2="679" stroke="#3aa0a8" stroke-width="1.5" opacity="0.85"/>
<line x1="1122" y1="837" x2="1205" y2="801" stroke="#e6fbff" stroke-width="2.6" opacity="0.85"/>
<line x1="1148" y1="725" x2="1230" y2="691" stroke="#d0f4f8" stroke-width="3.4" opacity="0.85"/>
<line x1="1365" y1="841" x2="1433" y2="812" stroke="#7fd0d8" stroke-width="2.4" opacity="0.85"/>
<line x1="1374" y1="747" x2="1459" y2="711" stroke="#e6fbff" stroke-width="3.0" opacity="0.85"/>
<line x1="1039" y1="680" x2="1147" y2="633" stroke="#7fd0d8" stroke-width="3.2" opacity="0.85"/>
<line x1="1041" y1="764" x2="1093" y2="742" stroke="#7fd0d8" stroke-width="2.2" opacity="0.85"/>
<line x1="1369" y1="705" x2="1409" y2="688" stroke="#7fd0d8" stroke-width="2.0" opacity="0.85"/>
<line x1="1056" y1="823" x2="1117" y2="797" stroke="#7fd0d8" stroke-width="1.5" opacity="0.85"/>
<line x1="1237" y1="688" x2="1347" y2="642" stroke="#e6fbff" stroke-width="2.8" opacity="0.85"/>
<line x1="1278" y1="603" x2="1306" y2="591" stroke="#7fd0d8" stroke-width="3.0" opacity="0.85"/>
<line x1="962" y1="676" x2="1059" y2="635" stroke="#3aa0a8" stroke-width="2.7" opacity="0.85"/>
<line x1="974" y1="644" x2="1065" y2="605" stroke="#3aa0a8" stroke-width="2.6" opacity="0.85"/>
<line x1="1372" y1="729" x2="1411" y2="712" stroke="#7fd0d8" stroke-width="1.8" opacity="0.85"/>
<line x1="1016" y1="639" x2="1106" y2="601" stroke="#e6fbff" stroke-width="1.6" opacity="0.85"/>
<line x1="995" y1="837" x2="1063" y2="808" stroke="#f4ffff" stroke-width="2.4" opacity="0.85"/>
<line x1="1331" y1="616" x2="1360" y2="603" stroke="#bfeef2" stroke-width="3.1" opacity="0.85"/>
<line x1="1026" y1="660" x2="1077" y2="638" stroke="#3aa0a8" stroke-width="1.5" opacity="0.85"/>
<line x1="1006" y1="826" x2="1082" y2="794" stroke="#f4ffff" stroke-width="2.2" opacity="0.85"/>
<line x1="1247" y1="605" x2="1293" y2="585" stroke="#e6fbff" stroke-width="2.3" opacity="0.85"/>
<line x1="1162" y1="755" x2="1211" y2="735" stroke="#7fd0d8" stroke-width="1.5" opacity="0.85"/>
<line x1="1353" y1="679" x2="1455" y2="635" stroke="#bfeef2" stroke-width="3.2" opacity="0.85"/>
<line x1="1152" y1="663" x2="1254" y2="620" stroke="#e6fbff" stroke-width="3.6" opacity="0.85"/>
<line x1="1072" y1="697" x2="1159" y2="660" stroke="#bfeef2" stroke-width="1.9" opacity="0.85"/>
<line x1="1143" y1="778" x2="1173" y2="765" stroke="#e6fbff" stroke-width="3.3" opacity="0.85"/>
<line x1="1040" y1="690" x2="1083" y2="671" stroke="#bfeef2" stroke-width="3.5" opacity="0.85"/>
<line x1="1142" y1="691" x2="1198" y2="667" stroke="#bfeef2" stroke-width="3.3" opacity="0.85"/>
<line x1="1145" y1="616" x2="1183" y2="600" stroke="#bfeef2" stroke-width="3.2" opacity="0.85"/>
<line x1="1215" y1="697" x2="1281" y2="669" stroke="#f4ffff" stroke-width="2.2" opacity="0.85"/>
<line x1="976" y1="766" x2="1032" y2="742" stroke="#3aa0a8" stroke-width="1.7" opacity="0.85"/>
<line x1="1020" y1="649" x2="1092" y2="618" stroke="#7fd0d8" stroke-width="3.1" opacity="0.85"/>
<line x1="1164" y1="809" x2="1258" y2="769" stroke="#bfeef2" stroke-width="1.8" opacity="0.85"/>
<line x1="1060" y1="701" x2="1139" y2="667" stroke="#bfeef2" stroke-width="2.7" opacity="0.85"/>
<line x1="1397" y1="726" x2="1444" y2="706" stroke="#d0f4f8" stroke-width="2.4" opacity="0.85"/>
<line x1="1393" y1="849" x2="1470" y2="817" stroke="#bfeef2" stroke-width="2.4" opacity="0.85"/>
<line x1="1206" y1="701" x2="1276" y2="671" stroke="#e6fbff" stroke-width="1.7" opacity="0.85"/>
<line x1="1272" y1="623" x2="1370" y2="581" stroke="#f4ffff" stroke-width="3.0" opacity="0.85"/>
<line x1="973" y1="780" x2="1013" y2="763" stroke="#3aa0a8" stroke-width="1.4" opacity="0.85"/>
<line x1="1000" y1="644" x2="1098" y2="603" stroke="#3aa0a8" stroke-width="2.1" opacity="0.85"/>
<line x1="1370" y1="617" x2="1473" y2="573" stroke="#bfeef2" stroke-width="3.2" opacity="0.85"/>
<line x1="1049" y1="780" x2="1084" y2="765" stroke="#3aa0a8" stroke-width="2.0" opacity="0.85"/>
<line x1="1144" y1="689" x2="1241" y2="648" stroke="#3aa0a8" stroke-width="2.4" opacity="0.85"/>
<line x1="1366" y1="815" x2="1405" y2="799" stroke="#e6fbff" stroke-width="2.0" opacity="0.85"/>
<line x1="1129" y1="800" x2="1213" y2="764" stroke="#e6fbff" stroke-width="3.4" opacity="0.85"/>
<line x1="1263" y1="775" x2="1311" y2="754" stroke="#bfeef2" stroke-width="3.3" opacity="0.85"/>
<line x1="1377" y1="624" x2="1429" y2="602" stroke="#7fd0d8" stroke-width="2.0" opacity="0.85"/>
<line x1="1298" y1="778" x2="1329" y2="765" stroke="#d0f4f8" stroke-width="1.5" opacity="0.85"/>
<line x1="1158" y1="789" x2="1199" y2="772" stroke="#7fd0d8" stroke-width="3.0" opacity="0.85"/>
<line x1="1103" y1="760" x2="1146" y2="742" stroke="#7fd0d8" stroke-width="3.2" opacity="0.85"/>
<line x1="1189" y1="730" x2="1293" y2="686" stroke="#7fd0d8" stroke-width="2.9" opacity="0.85"/>
<line x1="1121" y1="600" x2="1217" y2="559" stroke="#bfeef2" stroke-width="3.1" opacity="0.85"/>
<line x1="1374" y1="819" x2="1451" y2="786" stroke="#d0f4f8" stroke-width="2.9" opacity="0.85"/>
<line x1="1273" y1="609" x2="1327" y2="586" stroke="#bfeef2" stroke-width="3.1" opacity="0.85"/>
<line x1="1305" y1="622" x2="1390" y2="585" stroke="#3aa0a8" stroke-width="2.3" opacity="0.85"/>
<line x1="1243" y1="655" x2="1314" y2="625" stroke="#f4ffff" stroke-width="2.2" opacity="0.85"/>
<line x1="1164" y1="685" x2="1233" y2="656" stroke="#3aa0a8" stroke-width="2.9" opacity="0.85"/>
<line x1="1248" y1="727" x2="1332" y2="692" stroke="#3aa0a8" stroke-width="1.9" opacity="0.85"/>
<line x1="1195" y1="832" x2="1234" y2="816" stroke="#e6fbff" stroke-width="3.1" opacity="0.85"/>
<line x1="1398" y1="806" x2="1472" y2="775" stroke="#d0f4f8" stroke-width="1.8" opacity="0.85"/>
<line x1="1406" y1="759" x2="1479" y2="729" stroke="#e6fbff" stroke-width="1.9" opacity="0.85"/>
<line x1="1037" y1="687" x2="1073" y2="672" stroke="#d0f4f8" stroke-width="2.8" opacity="0.85"/>
<line x1="1023" y1="777" x2="1106" y2="741" stroke="#d0f4f8" stroke-width="1.9" opacity="0.85"/>
<line x1="963" y1="773" x2="1001" y2="756" stroke="#3aa0a8" stroke-width="2.8" opacity="0.85"/>
<line x1="1098" y1="821" x2="1137" y2="804" stroke="#bfeef2" stroke-width="2.6" opacity="0.85"/>
<line x1="1250" y1="629" x2="1312" y2="603" stroke="#3aa0a8" stroke-width="3.5" opacity="0.85"/>
<line x1="1267" y1="750" x2="1332" y2="722" stroke="#d0f4f8" stroke-width="3.1" opacity="0.85"/>
<line x1="1013" y1="672" x2="1070" y2="648" stroke="#e6fbff" stroke-width="1.9" opacity="0.85"/>
<line x1="1372" y1="676" x2="1409" y2="660" stroke="#e6fbff" stroke-width="2.1" opacity="0.85"/>
<line x1="1034" y1="711" x2="1109" y2="680" stroke="#7fd0d8" stroke-width="2.0" opacity="0.85"/>
<line x1="993" y1="603" x2="1103" y2="556" stroke="#e6fbff" stroke-width="3.1" opacity="0.85"/>
<line x1="1304" y1="683" x2="1393" y2="645" stroke="#3aa0a8" stroke-width="2.0" opacity="0.85"/>
<line x1="1185" y1="709" x2="1228" y2="690" stroke="#e6fbff" stroke-width="2.6" opacity="0.85"/>
<line x1="1125" y1="623" x2="1177" y2="601" stroke="#3aa0a8" stroke-width="2.7" opacity="0.85"/>
<line x1="1260" y1="663" x2="1308" y2="642" stroke="#e6fbff" stroke-width="1.7" opacity="0.85"/>
<line x1="972" y1="699" x2="1011" y2="682" stroke="#3aa0a8" stroke-width="2.2" opacity="0.85"/>
<line x1="1202" y1="824" x2="1286" y2="788" stroke="#3aa0a8" stroke-width="1.6" opacity="0.85"/>
<line x1="1342" y1="786" x2="1397" y2="762" stroke="#bfeef2" stroke-width="1.8" opacity="0.85"/>
<line x1="1107" y1="692" x2="1181" y2="661" stroke="#bfeef2" stroke-width="2.2" opacity="0.85"/>
<line x1="1070" y1="610" x2="1145" y2="579" stroke="#3aa0a8" stroke-width="2.8" opacity="0.85"/>
<line x1="1145" y1="613" x2="1191" y2="593" stroke="#3aa0a8" stroke-width="2.3" opacity="0.85"/>
<line x1="1032" y1="675" x2="1108" y2="643" stroke="#3aa0a8" stroke-width="1.6" opacity="0.85"/>
<line x1="1065" y1="635" x2="1145" y2="600" stroke="#e6fbff" stroke-width="2.3" opacity="0.85"/>
<line x1="1351" y1="720" x2="1397" y2="700" stroke="#e6fbff" stroke-width="2.2" opacity="0.85"/>
<line x1="1347" y1="814" x2="1440" y2="774" stroke="#bfeef2" stroke-width="2.3" opacity="0.85"/>
<line x1="993" y1="614" x2="1080" y2="577" stroke="#e6fbff" stroke-width="3.4" opacity="0.85"/>
<line x1="1162" y1="767" x2="1258" y2="726" stroke="#d0f4f8" stroke-width="3.4" opacity="0.85"/>
<line x1="1134" y1="601" x2="1228" y2="561" stroke="#7fd0d8" stroke-width="2.9" opacity="0.85"/>
<line x1="1050" y1="621" x2="1104" y2="598" stroke="#7fd0d8" stroke-width="2.4" opacity="0.85"/>
<line x1="1378" y1="816" x2="1486" y2="770" stroke="#7fd0d8" stroke-width="3.5" opacity="0.85"/>
<line x1="997" y1="802" x2="1085" y2="765" stroke="#3aa0a8" stroke-width="2.1" opacity="0.85"/>
<line x1="1097" y1="743" x2="1203" y2="698" stroke="#3aa0a8" stroke-width="2.5" opacity="0.85"/>
<line x1="1023" y1="816" x2="1095" y2="786" stroke="#d0f4f8" stroke-width="2.8" opacity="0.85"/>
<line x1="1062" y1="785" x2="1147" y2="749" stroke="#7fd0d8" stroke-width="1.7" opacity="0.85"/>
<line x1="1131" y1="745" x2="1193" y2="719" stroke="#7fd0d8" stroke-width="2.6" opacity="0.85"/>
<line x1="1163" y1="665" x2="1209" y2="646" stroke="#d0f4f8" stroke-width="3.5" opacity="0.85"/>
<line x1="1212" y1="628" x2="1311" y2="586" stroke="#e6fbff" stroke-width="2.0" opacity="0.85"/>
<line x1="1046" y1="768" x2="1133" y2="731" stroke="#f4ffff" stroke-width="1.9" opacity="0.85"/>
<line x1="1064" y1="743" x2="1101" y2="727" stroke="#7fd0d8" stroke-width="2.5" opacity="0.85"/>
<line x1="1221" y1="813" x2="1305" y2="777" stroke="#d0f4f8" stroke-width="3.2" opacity="0.85"/>
<line x1="1357" y1="738" x2="1444" y2="701" stroke="#e6fbff" stroke-width="3.1" opacity="0.85"/>
<line x1="1248" y1="840" x2="1319" y2="810" stroke="#3aa0a8" stroke-width="2.4" opacity="0.85"/>
<line x1="1140" y1="643" x2="1247" y2="597" stroke="#e6fbff" stroke-width="2.6" opacity="0.85"/>
<line x1="1023" y1="794" x2="1055" y2="780" stroke="#bfeef2" stroke-width="1.9" opacity="0.85"/>
<line x1="979" y1="775" x2="1086" y2="730" stroke="#e6fbff" stroke-width="2.4" opacity="0.85"/>
<line x1="1285" y1="706" x2="1387" y2="664" stroke="#d0f4f8" stroke-width="2.8" opacity="0.85"/>
<line x1="1219" y1="829" x2="1319" y2="787" stroke="#3aa0a8" stroke-width="1.8" opacity="0.85"/>
<line x1="1347" y1="801" x2="1436" y2="763" stroke="#bfeef2" stroke-width="1.4" opacity="0.85"/>
<line x1="1016" y1="693" x2="1105" y2="656" stroke="#3aa0a8" stroke-width="3.5" opacity="0.85"/>
<line x1="1185" y1="804" x2="1242" y2="780" stroke="#bfeef2" stroke-width="2.2" opacity="0.85"/>
<line x1="1329" y1="628" x2="1434" y2="584" stroke="#bfeef2" stroke-width="2.9" opacity="0.85"/>
<line x1="1123" y1="773" x2="1152" y2="761" stroke="#f4ffff" stroke-width="3.6" opacity="0.85"/>
<line x1="1012" y1="605" x2="1049" y2="590" stroke="#d0f4f8" stroke-width="3.2" opacity="0.85"/>
<line x1="1029" y1="833" x2="1129" y2="790" stroke="#d0f4f8" stroke-width="2.9" opacity="0.85"/>
<line x1="1231" y1="663" x2="1341" y2="616" stroke="#bfeef2" stroke-width="3.1" opacity="0.85"/>
<line x1="1396" y1="603" x2="1452" y2="580" stroke="#7fd0d8" stroke-width="1.7" opacity="0.85"/>
<line x1="1183" y1="608" x2="1280" y2="567" stroke="#7fd0d8" stroke-width="1.6" opacity="0.85"/>
<line x1="1336" y1="770" x2="1397" y2="744" stroke="#d0f4f8" stroke-width="2.4" opacity="0.85"/>
<line x1="1279" y1="712" x2="1325" y2="692" stroke="#7fd0d8" stroke-width="3.5" opacity="0.85"/>
<line x1="995" y1="682" x2="1040" y2="663" stroke="#7fd0d8" stroke-width="3.4" opacity="0.85"/>
<line x1="1247" y1="653" x2="1343" y2="612" stroke="#bfeef2" stroke-width="3.0" opacity="0.85"/>
<line x1="1225" y1="697" x2="1282" y2="673" stroke="#7fd0d8" stroke-width="1.4" opacity="0.85"/>
<line x1="1182" y1="657" x2="1231" y2="636" stroke="#7fd0d8" stroke-width="3.3" opacity="0.85"/>
<line x1="981" y1="636" x2="1064" y2="601" stroke="#bfeef2" stroke-width="2.0" opacity="0.85"/>
<line x1="989" y1="848" x2="1046" y2="824" stroke="#7fd0d8" stroke-width="2.7" opacity="0.85"/>
<line x1="1400" y1="848" x2="1431" y2="835" stroke="#e6fbff" stroke-width="2.6" opacity="0.85"/>
<line x1="1361" y1="794" x2="1441" y2="760" stroke="#bfeef2" stroke-width="2.8" opacity="0.85"/>
<line x1="1324" y1="798" x2="1372" y2="778" stroke="#d0f4f8" stroke-width="3.2" opacity="0.85"/>
<line x1="1273" y1="676" x2="1364" y2="637" stroke="#7fd0d8" stroke-width="3.0" opacity="0.85"/>
<line x1="1352" y1="661" x2="1452" y2="619" stroke="#bfeef2" stroke-width="3.0" opacity="0.85"/>
<line x1="988" y1="684" x2="1042" y2="661" stroke="#f4ffff" stroke-width="3.6" opacity="0.85"/>
<line x1="1192" y1="824" x2="1286" y2="783" stroke="#d0f4f8" stroke-width="3.6" opacity="0.85"/>
<line x1="1022" y1="602" x2="1122" y2="559" stroke="#f4ffff" stroke-width="2.4" opacity="0.85"/>
<line x1="1142" y1="793" x2="1247" y2="749" stroke="#d0f4f8" stroke-width="2.7" opacity="0.85"/>
<line x1="1099" y1="677" x2="1187" y2="640" stroke="#bfeef2" stroke-width="2.6" opacity="0.85"/>
<line x1="994" y1="648" x2="1098" y2="603" stroke="#bfeef2" stroke-width="2.7" opacity="0.85"/>
<line x1="1227" y1="847" x2="1284" y2="823" stroke="#f4ffff" stroke-width="3.1" opacity="0.85"/>
<line x1="1292" y1="830" x2="1389" y2="789" stroke="#d0f4f8" stroke-width="2.1" opacity="0.85"/>
<line x1="1087" y1="664" x2="1116" y2="652" stroke="#bfeef2" stroke-width="1.8" opacity="0.85"/>
<line x1="1069" y1="605" x2="1101" y2="592" stroke="#7fd0d8" stroke-width="2.4" opacity="0.85"/>
<line x1="1090" y1="725" x2="1126" y2="710" stroke="#e6fbff" stroke-width="1.9" opacity="0.85"/>
<line x1="1403" y1="750" x2="1437" y2="736" stroke="#7fd0d8" stroke-width="3.2" opacity="0.85"/>
<line x1="1117" y1="634" x2="1160" y2="616" stroke="#e6fbff" stroke-width="2.6" opacity="0.85"/>
<line x1="1254" y1="831" x2="1300" y2="812" stroke="#3aa0a8" stroke-width="2.1" opacity="0.85"/>
<line x1="972" y1="722" x2="1051" y2="688" stroke="#d0f4f8" stroke-width="3.2" opacity="0.85"/>
<line x1="986" y1="704" x2="1018" y2="690" stroke="#bfeef2" stroke-width="2.8" opacity="0.85"/>
<line x1="1317" y1="847" x2="1378" y2="821" stroke="#e6fbff" stroke-width="3.5" opacity="0.85"/>
<line x1="972" y1="679" x2="1054" y2="644" stroke="#f4ffff" stroke-width="2.1" opacity="0.85"/>
<line x1="1242" y1="781" x2="1297" y2="758" stroke="#d0f4f8" stroke-width="1.6" opacity="0.85"/>
<line x1="1057" y1="732" x2="1154" y2="691" stroke="#bfeef2" stroke-width="2.2" opacity="0.85"/>
<line x1="1155" y1="735" x2="1231" y2="702" stroke="#3aa0a8" stroke-width="2.6" opacity="0.85"/>
<line x1="1411" y1="744" x2="1458" y2="724" stroke="#3aa0a8" stroke-width="2.8" opacity="0.85"/>
<line x1="1180" y1="608" x2="1261" y2="573" stroke="#7fd0d8" stroke-width="2.8" opacity="0.85"/>
<line x1="1410" y1="713" x2="1460" y2="692" stroke="#bfeef2" stroke-width="2.6" opacity="0.85"/>
<line x1="1021" y1="602" x2="1088" y2="574" stroke="#bfeef2" stroke-width="2.8" opacity="0.85"/>
<line x1="1029" y1="757" x2="1090" y2="731" stroke="#e6fbff" stroke-width="3.6" opacity="0.85"/>
<line x1="1247" y1="631" x2="1320" y2="600" stroke="#d0f4f8" stroke-width="1.9" opacity="0.85"/>
<line x1="1079" y1="752" x2="1168" y2="714" stroke="#3aa0a8" stroke-width="3.4" opacity="0.85"/>
<line x1="1354" y1="795" x2="1425" y2="764" stroke="#3aa0a8" stroke-width="2.2" opacity="0.85"/>
<line x1="1072" y1="846" x2="1141" y2="816" stroke="#bfeef2" stroke-width="2.8" opacity="0.85"/>
<line x1="1374" y1="697" x2="1420" y2="678" stroke="#e6fbff" stroke-width="3.1" opacity="0.85"/>
<line x1="1010" y1="783" x2="1043" y2="769" stroke="#f4ffff" stroke-width="2.8" opacity="0.85"/>
<line x1="1270" y1="688" x2="1317" y2="668" stroke="#f4ffff" stroke-width="2.2" opacity="0.85"/>
<line x1="1395" y1="757" x2="1441" y2="737" stroke="#bfeef2" stroke-width="2.0" opacity="0.85"/>
<line x1="1286" y1="660" x2="1343" y2="636" stroke="#f4ffff" stroke-width="2.1" opacity="0.85"/>
<line x1="1256" y1="675" x2="1366" y2="628" stroke="#7fd0d8" stroke-width="1.9" opacity="0.85"/>
<line x1="1324" y1="719" x2="1429" y2="675" stroke="#d0f4f8" stroke-width="3.1" opacity="0.85"/>
<line x1="1339" y1="671" x2="1394" y2="647" stroke="#d0f4f8" stroke-width="2.5" opacity="0.85"/>
<line x1="1034" y1="771" x2="1111" y2="738" stroke="#7fd0d8" stroke-width="2.4" opacity="0.85"/>
<line x1="984" y1="796" x2="1082" y2="754" stroke="#e6fbff" stroke-width="3.0" opacity="0.85"/>
<line x1="1319" y1="816" x2="1361" y2="798" stroke="#bfeef2" stroke-width="3.3" opacity="0.85"/>
<line x1="1275" y1="801" x2="1315" y2="784" stroke="#d0f4f8" stroke-width="3.4" opacity="0.85"/>
<line x1="1379" y1="638" x2="1468" y2="600" stroke="#d0f4f8" stroke-width="1.6" opacity="0.85"/>
<line x1="1174" y1="699" x2="1236" y2="673" stroke="#3aa0a8" stroke-width="2.8" opacity="0.85"/>
<line x1="1290" y1="820" x2="1398" y2="774" stroke="#d0f4f8" stroke-width="1.5" opacity="0.85"/>
<line x1="1053" y1="757" x2="1082" y2="745" stroke="#7fd0d8" stroke-width="1.7" opacity="0.85"/>
<line x1="1067" y1="708" x2="1103" y2="692" stroke="#bfeef2" stroke-width="1.4" opacity="0.85"/>
<line x1="990" y1="628" x2="1097" y2="582" stroke="#7fd0d8" stroke-width="3.5" opacity="0.85"/>
<line x1="1157" y1="645" x2="1241" y2="609" stroke="#3aa0a8" stroke-width="1.7" opacity="0.85"/>
<line x1="1211" y1="848" x2="1282" y2="818" stroke="#e6fbff" stroke-width="3.2" opacity="0.85"/>
<line x1="1121" y1="654" x2="1229" y2="608" stroke="#3aa0a8" stroke-width="3.3" opacity="0.85"/>
<line x1="993" y1="776" x2="1022" y2="764" stroke="#e6fbff" stroke-width="2.0" opacity="0.85"/>
<line x1="1050" y1="612" x2="1143" y2="572" stroke="#bfeef2" stroke-width="3.5" opacity="0.85"/>
<line x1="965" y1="772" x2="1047" y2="737" stroke="#7fd0d8" stroke-width="2.6" opacity="0.85"/>
<line x1="1112" y1="703" x2="1222" y2="656" stroke="#bfeef2" stroke-width="3.0" opacity="0.85"/>
<line x1="1144" y1="680" x2="1206" y2="653" stroke="#f4ffff" stroke-width="3.5" opacity="0.85"/>
<line x1="1310" y1="820" x2="1404" y2="780" stroke="#3aa0a8" stroke-width="3.4" opacity="0.85"/>
<line x1="962" y1="752" x2="1067" y2="708" stroke="#7fd0d8" stroke-width="2.0" opacity="0.85"/>
<line x1="1296" y1="848" x2="1392" y2="807" stroke="#e6fbff" stroke-width="2.9" opacity="0.85"/>
<line x1="1348" y1="796" x2="1451" y2="752" stroke="#3aa0a8" stroke-width="1.5" opacity="0.85"/>
<line x1="1217" y1="771" x2="1281" y2="744" stroke="#f4ffff" stroke-width="2.9" opacity="0.85"/>
<line x1="1407" y1="600" x2="1496" y2="562" stroke="#7fd0d8" stroke-width="3.3" opacity="0.85"/>
<line x1="1117" y1="737" x2="1177" y2="711" stroke="#3aa0a8" stroke-width="3.2" opacity="0.85"/>
<line x1="1360" y1="689" x2="1393" y2="675" stroke="#bfeef2" stroke-width="3.5" opacity="0.85"/>
<line x1="1242" y1="769" x2="1296" y2="746" stroke="#7fd0d8" stroke-width="2.8" opacity="0.85"/>
<line x1="1266" y1="831" x2="1357" y2="792" stroke="#f4ffff" stroke-width="2.0" opacity="0.85"/>
<line x1="1355" y1="687" x2="1431" y2="654" stroke="#d0f4f8" stroke-width="2.7" opacity="0.85"/>
<line x1="990" y1="789" x2="1048" y2="765" stroke="#d0f4f8" stroke-width="1.9" opacity="0.85"/>
<line x1="1334" y1="660" x2="1376" y2="642" stroke="#f4ffff" stroke-width="3.2" opacity="0.85"/>
<line x1="1042" y1="837" x2="1140" y2="795" stroke="#e6fbff" stroke-width="2.8" opacity="0.85"/>
<line x1="1108" y1="690" x2="1207" y2="648" stroke="#f4ffff" stroke-width="2.3" opacity="0.85"/>
<line x1="1031" y1="663" x2="1067" y2="648" stroke="#7fd0d8" stroke-width="2.2" opacity="0.85"/>
<line x1="1200" y1="713" x2="1235" y2="698" stroke="#f4ffff" stroke-width="2.3" opacity="0.85"/>
<line x1="1280" y1="712" x2="1347" y2="684" stroke="#7fd0d8" stroke-width="3.2" opacity="0.85"/>
<line x1="1029" y1="770" x2="1087" y2="745" stroke="#d0f4f8" stroke-width="2.5" opacity="0.85"/>
<line x1="1246" y1="731" x2="1340" y2="691" stroke="#7fd0d8" stroke-width="2.0" opacity="0.85"/>
<line x1="1052" y1="743" x2="1085" y2="729" stroke="#3aa0a8" stroke-width="1.8" opacity="0.85"/>
<line x1="1211" y1="829" x2="1259" y2="809" stroke="#f4ffff" stroke-width="2.0" opacity="0.85"/>
<line x1="1002" y1="759" x2="1101" y2="717" stroke="#f4ffff" stroke-width="1.8" opacity="0.85"/>
<line x1="1401" y1="673" x2="1493" y2="633" stroke="#3aa0a8" stroke-width="3.4" opacity="0.85"/>
<line x1="1164" y1="692" x2="1250" y2="655" stroke="#f4ffff" stroke-width="2.0" opacity="0.85"/>
<line x1="1158" y1="752" x2="1207" y2="731" stroke="#7fd0d8" stroke-width="1.9" opacity="0.85"/>
<line x1="1020" y1="755" x2="1128" y2="709" stroke="#7fd0d8" stroke-width="3.3" opacity="0.85"/>
<line x1="1131" y1="766" x2="1186" y2="743" stroke="#f4ffff" stroke-width="1.6" opacity="0.85"/>
<line x1="1135" y1="731" x2="1203" y2="702" stroke="#e6fbff" stroke-width="3.4" opacity="0.85"/>
<line x1="1010" y1="741" x2="1115" y2="696" stroke="#f4ffff" stroke-width="2.9" opacity="0.85"/>
<line x1="1151" y1="718" x2="1252" y2="675" stroke="#f4ffff" stroke-width="2.4" opacity="0.85"/>
<line x1="1022" y1="788" x2="1051" y2="776" stroke="#d0f4f8" stroke-width="1.9" opacity="0.85"/>
<line x1="1145" y1="610" x2="1229" y2="575" stroke="#f4ffff" stroke-width="2.6" opacity="0.85"/>
<line x1="1314" y1="630" x2="1360" y2="610" stroke="#e6fbff" stroke-width="1.6" opacity="0.85"/>
<line x1="1007" y1="622" x2="1097" y2="584" stroke="#e6fbff" stroke-width="2.6" opacity="0.85"/>
<line x1="1339" y1="650" x2="1394" y2="626" stroke="#7fd0d8" stroke-width="3.3" opacity="0.85"/>
<line x1="1278" y1="704" x2="1354" y2="672" stroke="#e6fbff" stroke-width="3.6" opacity="0.85"/>
<line x1="1361" y1="636" x2="1416" y2="613" stroke="#e6fbff" stroke-width="2.5" opacity="0.85"/>
<line x1="1046" y1="735" x2="1116" y2="705" stroke="#f4ffff" stroke-width="1.6" opacity="0.85"/>
<line x1="1077" y1="815" x2="1151" y2="783" stroke="#f4ffff" stroke-width="2.5" opacity="0.85"/>
<line x1="1273" y1="677" x2="1321" y2="656" stroke="#f4ffff" stroke-width="2.2" opacity="0.85"/>
<line x1="1354" y1="664" x2="1398" y2="645" stroke="#7fd0d8" stroke-width="1.5" opacity="0.85"/>
<line x1="1260" y1="833" x2="1342" y2="798" stroke="#d0f4f8" stroke-width="3.0" opacity="0.85"/>
<line x1="1128" y1="800" x2="1172" y2="782" stroke="#7fd0d8" stroke-width="3.4" opacity="0.85"/>
<line x1="1265" y1="782" x2="1294" y2="770" stroke="#7fd0d8" stroke-width="1.5" opacity="0.85"/>
<line x1="1339" y1="609" x2="1385" y2="589" stroke="#d0f4f8" stroke-width="2.4" opacity="0.85"/>
<line x1="1287" y1="801" x2="1364" y2="768" stroke="#3aa0a8" stroke-width="2.4" opacity="0.85"/>
<line x1="1165" y1="820" x2="1197" y2="806" stroke="#3aa0a8" stroke-width="2.4" opacity="0.85"/>
<line x1="1017" y1="634" x2="1118" y2="592" stroke="#f4ffff" stroke-width="3.2" opacity="0.85"/>
<line x1="1043" y1="831" x2="1117" y2="799" stroke="#f4ffff" stroke-width="3.2" opacity="0.85"/>
<line x1="1062" y1="780" x2="1151" y2="742" stroke="#7fd0d8" stroke-width="3.2" opacity="0.85"/>
<line x1="1346" y1="636" x2="1449" y2="592" stroke="#e6fbff" stroke-width="1.9" opacity="0.85"/>
<line x1="1174" y1="650" x2="1209" y2="635" stroke="#d0f4f8" stroke-width="1.5" opacity="0.85"/>
<line x1="1263" y1="664" x2="1366" y2="621" stroke="#d0f4f8" stroke-width="2.9" opacity="0.85"/>
<line x1="1359" y1="831" x2="1398" y2="815" stroke="#f4ffff" stroke-width="1.8" opacity="0.85"/>
<line x1="1095" y1="658" x2="1171" y2="626" stroke="#7fd0d8" stroke-width="2.1" opacity="0.85"/>
<line x1="1291" y1="677" x2="1340" y2="657" stroke="#d0f4f8" stroke-width="2.6" opacity="0.85"/>
<line x1="1030" y1="800" x2="1139" y2="754" stroke="#e6fbff" stroke-width="2.3" opacity="0.85"/>
<line x1="1111" y1="639" x2="1162" y2="617" stroke="#3aa0a8" stroke-width="2.8" opacity="0.85"/>
<line x1="1003" y1="716" x2="1091" y2="679" stroke="#3aa0a8" stroke-width="2.3" opacity="0.85"/>
<line x1="1145" y1="610" x2="1201" y2="586" stroke="#d0f4f8" stroke-width="2.8" opacity="0.85"/>
<line x1="1418" y1="835" x2="1489" y2="805" stroke="#bfeef2" stroke-width="2.0" opacity="0.85"/>
<line x1="968" y1="795" x2="1069" y2="752" stroke="#d0f4f8" stroke-width="3.4" opacity="0.85"/>
<line x1="1183" y1="816" x2="1260" y2="783" stroke="#e6fbff" stroke-width="2.6" opacity="0.85"/>
<line x1="1053" y1="718" x2="1144" y2="679" stroke="#d0f4f8" stroke-width="3.1" opacity="0.85"/>
<line x1="1226" y1="675" x2="1302" y2="643" stroke="#e6fbff" stroke-width="1.6" opacity="0.85"/>
<line x1="1118" y1="836" x2="1200" y2="801" stroke="#bfeef2" stroke-width="1.5" opacity="0.85"/>
<line x1="1121" y1="720" x2="1176" y2="697" stroke="#e6fbff" stroke-width="2.2" opacity="0.85"/>
<line x1="1322" y1="675" x2="1356" y2="660" stroke="#e6fbff" stroke-width="2.6" opacity="0.85"/>
<line x1="1304" y1="628" x2="1345" y2="611" stroke="#e6fbff" stroke-width="2.3" opacity="0.85"/>
<line x1="976" y1="728" x2="1011" y2="713" stroke="#d0f4f8" stroke-width="2.8" opacity="0.85"/>
<line x1="1151" y1="809" x2="1185" y2="795" stroke="#3aa0a8" stroke-width="3.0" opacity="0.85"/>
<line x1="1035" y1="642" x2="1141" y2="598" stroke="#3aa0a8" stroke-width="2.1" opacity="0.85"/>
<line x1="1362" y1="720" x2="1402" y2="703" stroke="#d0f4f8" stroke-width="1.6" opacity="0.85"/>
<line x1="1014" y1="724" x2="1086" y2="693" stroke="#f4ffff" stroke-width="1.7" opacity="0.85"/>
<line x1="1073" y1="742" x2="1104" y2="729" stroke="#d0f4f8" stroke-width="2.0" opacity="0.85"/>
<line x1="1090" y1="739" x2="1200" y2="692" stroke="#3aa0a8" stroke-width="3.4" opacity="0.85"/>
<line x1="1361" y1="725" x2="1462" y2="682" stroke="#e6fbff" stroke-width="1.4" opacity="0.85"/>
<line x1="1185" y1="798" x2="1260" y2="766" stroke="#d0f4f8" stroke-width="2.9" opacity="0.85"/>
<line x1="1000" y1="643" x2="1097" y2="602" stroke="#f4ffff" stroke-width="3.6" opacity="0.85"/>
<line x1="1141" y1="730" x2="1193" y2="708" stroke="#e6fbff" stroke-width="3.4" opacity="0.85"/>
<line x1="1265" y1="654" x2="1313" y2="634" stroke="#7fd0d8" stroke-width="3.1" opacity="0.85"/>
<line x1="1287" y1="616" x2="1335" y2="595" stroke="#e6fbff" stroke-width="2.7" opacity="0.85"/>
<line x1="979" y1="755" x2="1064" y2="719" stroke="#bfeef2" stroke-width="3.2" opacity="0.85"/>
<line x1="999" y1="790" x2="1075" y2="757" stroke="#bfeef2" stroke-width="1.8" opacity="0.85"/>
<line x1="1393" y1="703" x2="1454" y2="677" stroke="#d0f4f8" stroke-width="1.6" opacity="0.85"/>
<line x1="1028" y1="728" x2="1070" y2="710" stroke="#d0f4f8" stroke-width="3.2" opacity="0.85"/>
<line x1="1054" y1="831" x2="1138" y2="795" stroke="#e6fbff" stroke-width="3.0" opacity="0.85"/>
<line x1="1419" y1="798" x2="1486" y2="769" stroke="#bfeef2" stroke-width="2.5" opacity="0.85"/>
<line x1="1378" y1="788" x2="1458" y2="754" stroke="#3aa0a8" stroke-width="1.8" opacity="0.85"/>
<line x1="983" y1="691" x2="1045" y2="665" stroke="#bfeef2" stroke-width="2.8" opacity="0.85"/>
<line x1="1228" y1="801" x2="1296" y2="772" stroke="#f4ffff" stroke-width="3.1" opacity="0.85"/>
<line x1="1022" y1="807" x2="1127" y2="762" stroke="#3aa0a8" stroke-width="3.4" opacity="0.85"/>
<line x1="1174" y1="797" x2="1258" y2="761" stroke="#f4ffff" stroke-width="1.8" opacity="0.85"/>
<line x1="1340" y1="796" x2="1439" y2="754" stroke="#7fd0d8" stroke-width="2.1" opacity="0.85"/>
<line x1="1205" y1="836" x2="1242" y2="821" stroke="#bfeef2" stroke-width="3.5" opacity="0.85"/>
<line x1="1305" y1="812" x2="1353" y2="792" stroke="#7fd0d8" stroke-width="2.7" opacity="0.85"/>
<line x1="1069" y1="723" x2="1172" y2="679" stroke="#3aa0a8" stroke-width="2.9" opacity="0.85"/>
<line x1="983" y1="766" x2="1043" y2="740" stroke="#bfeef2" stroke-width="2.8" opacity="0.85"/>
<line x1="1340" y1="702" x2="1375" y2="687" stroke="#bfeef2" stroke-width="2.8" opacity="0.85"/>
<line x1="1265" y1="826" x2="1328" y2="799" stroke="#bfeef2" stroke-width="2.1" opacity="0.85"/>
<line x1="1185" y1="604" x2="1222" y2="588" stroke="#f4ffff" stroke-width="3.2" opacity="0.85"/>
<line x1="1149" y1="675" x2="1189" y2="658" stroke="#e6fbff" stroke-width="2.6" opacity="0.85"/>
<line x1="1123" y1="811" x2="1202" y2="778" stroke="#e6fbff" stroke-width="2.0" opacity="0.85"/>
<line x1="1417" y1="647" x2="1518" y2="604" stroke="#7fd0d8" stroke-width="2.3" opacity="0.85"/>
<line x1="1331" y1="630" x2="1415" y2="594" stroke="#d0f4f8" stroke-width="1.5" opacity="0.85"/>
<line x1="1139" y1="683" x2="1179" y2="666" stroke="#bfeef2" stroke-width="1.8" opacity="0.85"/>
<line x1="1369" y1="753" x2="1471" y2="709" stroke="#f4ffff" stroke-width="2.3" opacity="0.85"/>
<line x1="1107" y1="819" x2="1200" y2="780" stroke="#d0f4f8" stroke-width="2.7" opacity="0.85"/>
<line x1="1140" y1="602" x2="1238" y2="561" stroke="#d0f4f8" stroke-width="1.6" opacity="0.85"/>
<line x1="1169" y1="802" x2="1217" y2="782" stroke="#e6fbff" stroke-width="2.2" opacity="0.85"/>
<line x1="1413" y1="784" x2="1503" y2="745" stroke="#d0f4f8" stroke-width="2.9" opacity="0.85"/>
<line x1="1387" y1="823" x2="1470" y2="788" stroke="#7fd0d8" stroke-width="1.6" opacity="0.85"/>
<line x1="1112" y1="667" x2="1164" y2="644" stroke="#3aa0a8" stroke-width="2.1" opacity="0.85"/>
<line x1="1251" y1="694" x2="1322" y2="664" stroke="#3aa0a8" stroke-width="2.9" opacity="0.85"/>
<line x1="1189" y1="691" x2="1298" y2="645" stroke="#3aa0a8" stroke-width="1.5" opacity="0.85"/>
<line x1="1015" y1="694" x2="1068" y2="672" stroke="#d0f4f8" stroke-width="2.5" opacity="0.85"/>
<line x1="1295" y1="787" x2="1326" y2="774" stroke="#d0f4f8" stroke-width="2.1" opacity="0.85"/>
<line x1="963" y1="834" x2="1013" y2="813" stroke="#7fd0d8" stroke-width="1.8" opacity="0.85"/>
<line x1="1194" y1="849" x2="1236" y2="832" stroke="#bfeef2" stroke-width="2.7" opacity="0.85"/>
<line x1="1249" y1="660" x2="1340" y2="622" stroke="#7fd0d8" stroke-width="1.5" opacity="0.85"/>
<line x1="1410" y1="762" x2="1504" y2="722" stroke="#f4ffff" stroke-width="2.9" opacity="0.85"/>
<line x1="1187" y1="844" x2="1244" y2="819" stroke="#bfeef2" stroke-width="3.4" opacity="0.85"/>
<line x1="1034" y1="744" x2="1130" y2="703" stroke="#bfeef2" stroke-width="3.1" opacity="0.85"/>
<line x1="1371" y1="650" x2="1466" y2="610" stroke="#bfeef2" stroke-width="1.5" opacity="0.85"/>
<line x1="1300" y1="643" x2="1353" y2="620" stroke="#bfeef2" stroke-width="1.5" opacity="0.85"/>
<line x1="1407" y1="794" x2="1464" y2="770" stroke="#bfeef2" stroke-width="2.9" opacity="0.85"/>
<line x1="1102" y1="836" x2="1146" y2="817" stroke="#f4ffff" stroke-width="2.1" opacity="0.85"/>
</g></g>
</g>
<g clip-path="url(#innerClip)">
<polygon points="1027,489 1068,477.5 1071,489 1030,499" fill="#e07a70" stroke="#c85a55" stroke-width="0.8"/>
<line x1="1029" y1="494" x2="1069" y2="483" stroke="#f0a098" stroke-width="1.2"/>
<polygon points="998,497 1008,493 1022,516 1012,521" fill="#e07a70" stroke="#c85a55" stroke-width="0.8"/>
<circle cx="952" cy="493" r="1.8" fill="#8a8ae8"/>
<circle cx="953" cy="499" r="1.8" fill="#8a8ae8"/>
<circle cx="1030" cy="506" r="1.8" fill="#8a8ae8"/>
<circle cx="1035" cy="565" r="2.0" fill="#8a8ae8"/>
<circle cx="977" cy="568" r="1.5" fill="#8a8ae8"/>
<circle cx="1176" cy="632" r="2.0" fill="#8a8ae8"/>
<circle cx="1189" cy="633" r="2.0" fill="#8a8ae8"/>
<circle cx="1212" cy="711" r="2.2" fill="#8a8ae8"/>
<circle cx="1270" cy="703" r="2.0" fill="#8a8ae8"/>
<g fill="none" stroke-linecap="round">
<path d="M922 556 Q952 522 992 540 Q1006 550 1004 566" stroke="#7c7cd0" stroke-width="22"/>
<path d="M922 556 Q952 522 992 540 Q1006 550 1004 566" stroke="#aaaaee" stroke-width="16"/>
<path d="M922 551 Q952 517 992 535 Q1006 545 1004 561" stroke="#7878cc" stroke-width="1.4"/>
<path d="M922 556 Q952 522 992 540 Q1006 550 1004 566" stroke="#7878cc" stroke-width="1.4"/>
<path d="M922 561 Q952 527 992 545 Q1006 555 1004 571" stroke="#7878cc" stroke-width="1.4"/>
<path d="M976 524 L978 512" stroke="#9a9ae6" stroke-width="3.5"/>
</g>
<g fill="none" stroke-linecap="round">
<path d="M1158 656 Q1198 654 1206 688 Q1208 712 1184 722" stroke="#8282d6" stroke-width="26"/>
<path d="M1158 656 Q1198 654 1206 688 Q1208 712 1184 722" stroke="#a6a6ee" stroke-width="19"/>
<path d="M1158 649 Q1193 647 1199 688 Q1201 712 1184 715" stroke="#7474c8" stroke-width="1.3"/>
<path d="M1158 654 Q1196 652 1204 688 Q1206 712 1184 720" stroke="#7474c8" stroke-width="1.3"/>
<path d="M1158 659 Q1199 657 1209 688 Q1211 712 1184 725" stroke="#7474c8" stroke-width="1.3"/>
<path d="M1158 664 Q1202 662 1214 688 Q1216 712 1184 730" stroke="#7474c8" stroke-width="1.3"/>
</g>
</g>
<path d="M1126.6 487.9 C1130.0 484.8 1138.0 485.8 1146.3 485.0 C1154.6 484.2 1169.0 482.4 1176.3 483.2 C1183.6 484.0 1181.0 489.5 1190.0 490.0 C1199.0 490.5 1217.9 484.3 1230.0 486.0 C1242.1 487.7 1254.7 496.1 1262.6 500.0 C1270.5 503.9 1272.6 505.3 1277.6 509.4 C1282.6 513.5 1289.0 517.2 1292.7 524.4 C1296.4 531.6 1298.8 540.1 1300.0 552.6 C1301.2 565.1 1303.7 590.8 1300.0 599.5 C1296.3 608.2 1282.6 604.8 1277.6 605.1 C1272.6 605.4 1274.0 601.7 1270.0 601.4 C1266.0 601.1 1256.4 599.2 1253.3 603.3 C1250.2 607.4 1256.7 621.7 1251.4 625.8 C1246.1 629.9 1230.8 627.7 1221.4 627.7 C1212.0 627.7 1199.7 628.0 1195.0 625.8 C1190.3 623.6 1194.1 618.2 1193.2 614.5 C1192.3 610.8 1194.2 605.8 1189.5 603.3 C1184.8 600.8 1174.4 601.1 1165.0 599.5 C1155.6 597.9 1139.5 596.7 1133.2 593.9 C1127.0 591.1 1131.0 587.0 1127.5 582.6 C1124.0 578.2 1115.3 573.2 1112.5 567.6 C1109.7 562.0 1108.7 554.4 1110.6 548.8 C1112.5 543.2 1121.3 541.3 1123.8 533.8 C1126.3 526.3 1125.1 511.4 1125.6 503.8 C1126.1 496.2 1123.1 491.0 1126.6 487.9Z" fill="#b84e48" stroke="#8a2e2e" stroke-width="1"/>
<g fill="none" stroke="#7a2222" stroke-width="3" stroke-linejoin="round" opacity="0.85">
<polyline points="1132,495 1140,505 1135,515 1145,528 1138,540 1150,552 1142,565"/>
<polyline points="1152,490 1160,502 1154,512 1166,522 1158,534 1168,546"/>
<polyline points="1170,488 1168,500 1162,505"/>
<polyline points="1120,545 1130,552 1126,562 1138,570 1150,566 1162,578 1175,572"/>
<polyline points="1270,512 1280,522 1274,534 1286,546 1280,558 1292,570"/>
<polyline points="1262,570 1272,582 1262,590 1276,596"/>
<polyline points="1200,588 1212,580 1226,590 1240,582 1252,592"/>
</g>
<g fill="#c85c58" opacity="0.9">
<polygon points="1114,560 1130,575 1132,592 1188,604 1190,590 1160,580 1140,572 1122,556"/>
<polygon points="1194,606 1250,603 1252,624 1196,624"/>
<polygon points="1256,604 1298,598 1300,585 1262,590"/>
</g>
<path d="M1165.0 522.6 C1165.6 517.0 1166.9 509.1 1170.7 503.8 C1174.5 498.5 1181.7 494.3 1187.6 490.7 C1193.5 487.1 1198.8 483.4 1206.3 482.2 C1213.8 480.9 1224.5 481.5 1232.6 483.2 C1240.7 484.9 1249.1 487.8 1255.1 492.5 C1261.0 497.2 1265.8 504.4 1268.3 511.3 C1270.8 518.2 1271.0 526.3 1270.1 533.8 C1269.1 541.3 1266.7 551.3 1262.6 556.3 C1258.5 561.3 1252.6 562.0 1245.7 563.9 C1238.8 565.8 1228.6 567.9 1221.4 567.6 C1214.2 567.3 1209.5 564.5 1202.6 562.0 C1195.7 559.5 1185.9 556.7 1180.0 552.6 C1174.1 548.5 1169.5 542.6 1167.0 537.6 C1164.5 532.6 1164.4 528.2 1165.0 522.6Z" fill="#4b4bd2"/>
<path d="M1172 515 Q1190 492 1215 487 Q1245 485 1262 505 Q1268 520 1266 535 L1248 545 Q1245 515 1222 505 Q1195 500 1172 515Z" fill="#6060e4"/>
<path d="M1170 528 Q1172 548 1200 558 Q1225 565 1245 558 L1248 545 Q1232 552 1215 548 Q1190 540 1180 520Z" fill="#5555dc"/>
<circle cx="1214" cy="526" r="19" fill="url(#nucleolus)"/>
<g fill="#efe2a6" stroke="#d8c282" stroke-width="0.6">
<circle cx="1120" cy="517" r="3.3"/>
<circle cx="1108" cy="546" r="3.3"/>
<circle cx="1116" cy="545" r="3.3"/>
<circle cx="1128" cy="492" r="3.3"/>
<circle cx="1148" cy="576" r="3.3"/>
<circle cx="1127" cy="580" r="3.3"/>
<circle cx="1158" cy="594" r="3.3"/>
<circle cx="1190" cy="581" r="3.3"/>
<circle cx="1206" cy="577" r="3.3"/>
<circle cx="1193" cy="607" r="3.3"/>
<circle cx="1207" cy="611" r="3.3"/>
<circle cx="1224" cy="610" r="3.3"/>
<circle cx="1234" cy="611" r="3.3"/>
<circle cx="1258" cy="598" r="3.3"/>
<circle cx="1261" cy="607" r="3.3"/>
<circle cx="1262" cy="591" r="3.3"/>
<circle cx="1282" cy="582" r="3.3"/>
<circle cx="1264" cy="620" r="3.3"/>
<circle cx="1251" cy="638" r="3.3"/>
<circle cx="1272" cy="506" r="3.3"/>
<circle cx="1160" cy="484" r="3.3"/>
</g>
<path d="M1178 556 L1200 566 L1225 570 L1248 566 L1262 558 L1270 575 L1250 588 L1225 590 L1195 585 L1175 572Z" fill="#b84e48" stroke="#8a2e2e" stroke-width="1"/>
<g clip-path="url(#innerClip)">
<g transform="translate(1110.0,473.0) rotate(36.0)"><rect x="-23.0" y="-9.5" width="46.0" height="19.0" rx="9.5" fill="#c9a066" stroke="#9a7440" stroke-width="0.8"/><rect x="-20.0" y="-6.5" width="34.6" height="13.0" rx="6.5" fill="#4a8fd8"/><line x1="-16.0" y1="-6.5" x2="-16.0" y2="-1.8" stroke="#b08850" stroke-width="1.5"/><line x1="-13.0" y1="6.5" x2="-13.0" y2="1.8" stroke="#b08850" stroke-width="1.5"/><line x1="-10.3" y1="-6.5" x2="-10.3" y2="-1.8" stroke="#b08850" stroke-width="1.5"/><line x1="-7.3" y1="6.5" x2="-7.3" y2="1.8" stroke="#b08850" stroke-width="1.5"/><line x1="-4.6" y1="-6.5" x2="-4.6" y2="-1.8" stroke="#b08850" stroke-width="1.5"/><line x1="-1.6" y1="6.5" x2="-1.6" y2="1.8" stroke="#b08850" stroke-width="1.5"/><line x1="1.2" y1="-6.5" x2="1.2" y2="-1.8" stroke="#b08850" stroke-width="1.5"/><line x1="4.2" y1="6.5" x2="4.2" y2="1.8" stroke="#b08850" stroke-width="1.5"/><line x1="6.9" y1="-6.5" x2="6.9" y2="-1.8" stroke="#b08850" stroke-width="1.5"/><line x1="9.9" y1="6.5" x2="9.9" y2="1.8" stroke="#b08850" stroke-width="1.5"/><path d="M12.5 -9.5 A10.5 9.5 0 0 1 12.5 9.5 Z" fill="#d6b07a" stroke="#9a7440" stroke-width="0.8"/></g>
<g transform="translate(1122.0,743.0) rotate(33.0)"><rect x="-41.0" y="-13.5" width="82.0" height="27.0" rx="13.5" fill="#c9a066" stroke="#9a7440" stroke-width="0.8"/><rect x="-38.0" y="-10.5" width="65.8" height="21.0" rx="10.5" fill="#4a8fd8"/><line x1="-34.0" y1="-10.5" x2="-34.0" y2="-3.8" stroke="#b08850" stroke-width="1.5"/><line x1="-31.0" y1="10.5" x2="-31.0" y2="3.8" stroke="#b08850" stroke-width="1.5"/><line x1="-28.0" y1="-10.5" x2="-28.0" y2="-3.8" stroke="#b08850" stroke-width="1.5"/><line x1="-25.0" y1="10.5" x2="-25.0" y2="3.8" stroke="#b08850" stroke-width="1.5"/><line x1="-22.0" y1="-10.5" x2="-22.0" y2="-3.8" stroke="#b08850" stroke-width="1.5"/><line x1="-19.0" y1="10.5" x2="-19.0" y2="3.8" stroke="#b08850" stroke-width="1.5"/><line x1="-16.1" y1="-10.5" x2="-16.1" y2="-3.8" stroke="#b08850" stroke-width="1.5"/><line x1="-13.1" y1="10.5" x2="-13.1" y2="3.8" stroke="#b08850" stroke-width="1.5"/><line x1="-10.1" y1="-10.5" x2="-10.1" y2="-3.8" stroke="#b08850" stroke-width="1.5"/><line x1="-7.1" y1="10.5" x2="-7.1" y2="3.8" stroke="#b08850" stroke-width="1.5"/><line x1="-4.1" y1="-10.5" x2="-4.1" y2="-3.8" stroke="#b08850" stroke-width="1.5"/><line x1="-1.1" y1="10.5" x2="-1.1" y2="3.8" stroke="#b08850" stroke-width="1.5"/><line x1="1.9" y1="-10.5" x2="1.9" y2="-3.8" stroke="#b08850" stroke-width="1.5"/><line x1="4.9" y1="10.5" x2="4.9" y2="3.8" stroke="#b08850" stroke-width="1.5"/><line x1="7.9" y1="-10.5" x2="7.9" y2="-3.8" stroke="#b08850" stroke-width="1.5"/><line x1="10.9" y1="10.5" x2="10.9" y2="3.8" stroke="#b08850" stroke-width="1.5"/><line x1="13.8" y1="-10.5" x2="13.8" y2="-3.8" stroke="#b08850" stroke-width="1.5"/><line x1="16.8" y1="10.5" x2="16.8" y2="3.8" stroke="#b08850" stroke-width="1.5"/><line x1="19.8" y1="-10.5" x2="19.8" y2="-3.8" stroke="#b08850" stroke-width="1.5"/><line x1="22.8" y1="10.5" x2="22.8" y2="3.8" stroke="#b08850" stroke-width="1.5"/><path d="M26.1 -13.5 A14.9 13.5 0 0 1 26.1 13.5 Z" fill="#d6b07a" stroke="#9a7440" stroke-width="0.8"/></g>
<g transform="translate(1323.0,724.0) rotate(17.0)"><rect x="-36.0" y="-11.5" width="72.0" height="23.0" rx="11.5" fill="#c9a066" stroke="#9a7440" stroke-width="0.8"/><rect x="-33.0" y="-8.5" width="58.2" height="17.0" rx="8.5" fill="#4a8fd8"/><line x1="-29.0" y1="-8.5" x2="-29.0" y2="-2.8" stroke="#b08850" stroke-width="1.5"/><line x1="-26.0" y1="8.5" x2="-26.0" y2="2.8" stroke="#b08850" stroke-width="1.5"/><line x1="-23.2" y1="-8.5" x2="-23.2" y2="-2.8" stroke="#b08850" stroke-width="1.5"/><line x1="-20.2" y1="8.5" x2="-20.2" y2="2.8" stroke="#b08850" stroke-width="1.5"/><line x1="-17.4" y1="-8.5" x2="-17.4" y2="-2.8" stroke="#b08850" stroke-width="1.5"/><line x1="-14.4" y1="8.5" x2="-14.4" y2="2.8" stroke="#b08850" stroke-width="1.5"/><line x1="-11.6" y1="-8.5" x2="-11.6" y2="-2.8" stroke="#b08850" stroke-width="1.5"/><line x1="-8.6" y1="8.5" x2="-8.6" y2="2.8" stroke="#b08850" stroke-width="1.5"/><line x1="-5.8" y1="-8.5" x2="-5.8" y2="-2.8" stroke="#b08850" stroke-width="1.5"/><line x1="-2.8" y1="8.5" x2="-2.8" y2="2.8" stroke="#b08850" stroke-width="1.5"/><line x1="0.0" y1="-8.5" x2="0.0" y2="-2.8" stroke="#b08850" stroke-width="1.5"/><line x1="3.0" y1="8.5" x2="3.0" y2="2.8" stroke="#b08850" stroke-width="1.5"/><line x1="5.8" y1="-8.5" x2="5.8" y2="-2.8" stroke="#b08850" stroke-width="1.5"/><line x1="8.8" y1="8.5" x2="8.8" y2="2.8" stroke="#b08850" stroke-width="1.5"/><line x1="11.6" y1="-8.5" x2="11.6" y2="-2.8" stroke="#b08850" stroke-width="1.5"/><line x1="14.6" y1="8.5" x2="14.6" y2="2.8" stroke="#b08850" stroke-width="1.5"/><line x1="17.4" y1="-8.5" x2="17.4" y2="-2.8" stroke="#b08850" stroke-width="1.5"/><line x1="20.4" y1="8.5" x2="20.4" y2="2.8" stroke="#b08850" stroke-width="1.5"/><path d="M23.4 -11.5 A12.7 11.5 0 0 1 23.4 11.5 Z" fill="#d6b07a" stroke="#9a7440" stroke-width="0.8"/></g>
</g>
<g stroke="#e8e8e8" stroke-width="1.6">
<line x1="931.4" y1="583.0" x2="925.0" y2="594.2"/>
<line x1="931.4" y1="583.0" x2="951.0" y2="588.6"/>
<line x1="951.0" y1="588.6" x2="957.3" y2="576.5"/>
<line x1="985.7" y1="577.9" x2="977.8" y2="568.0"/>
<line x1="985.7" y1="577.9" x2="972.2" y2="594.2"/>
<line x1="972.2" y1="594.2" x2="981.2" y2="603.2"/>
</g>
<defs><radialGradient id="oxy" cx="0.35" cy="0.35" r="0.7"><stop offset="0" stop-color="#ff6a5a"/><stop offset="0.5" stop-color="#d41010"/><stop offset="1" stop-color="#7a0000"/></radialGradient><radialGradient id="hyd" cx="0.35" cy="0.35" r="0.7"><stop offset="0" stop-color="#fff"/><stop offset="1" stop-color="#b8b8b8"/></radialGradient></defs>
<circle cx="931.4" cy="583.0" r="5.3" fill="url(#oxy)"/>
<circle cx="951.0" cy="588.6" r="5.3" fill="url(#oxy)"/>
<circle cx="985.7" cy="577.9" r="5.3" fill="url(#oxy)"/>
<circle cx="972.2" cy="594.2" r="5.3" fill="url(#oxy)"/>
<circle cx="925.0" cy="594.2" r="3.6" fill="url(#hyd)"/>
<circle cx="957.3" cy="576.5" r="3.6" fill="url(#hyd)"/>
<circle cx="977.8" cy="568.0" r="3.6" fill="url(#hyd)"/>
<circle cx="981.2" cy="603.2" r="3.6" fill="url(#hyd)"/>
<path d="M961.0 597.0 C963.3 601.2 969.8 614.5 975.0 622.0 C980.2 629.5 985.3 635.7 992.0 642.0 C998.7 648.3 1007.0 655.3 1015.0 660.0 C1023.0 664.7 1032.0 667.8 1040.0 670.0 C1048.0 672.2 1059.2 672.5 1063.0 673.0 L1062 662 L1099.3 685.8 L1064 705 L1063 698 L1063.0 698.0 C1058.8 697.5 1046.5 697.3 1038.0 695.0 C1029.5 692.7 1020.3 688.8 1012.0 684.0 C1003.7 679.2 995.0 673.0 988.0 666.0 C981.0 659.0 974.7 651.0 970.0 642.0 C965.3 633.0 961.8 619.3 960.0 612.0 C958.2 604.7 959.2 600.3 959.0 598.0 Z" fill="#e2ddc8"/>
<path d="M1163.0 703.0 C1169.6 702.7 1190.6 703.2 1202.8 701.0 C1215.0 698.8 1226.0 694.0 1236.0 690.0 C1246.0 686.0 1258.1 679.2 1262.5 677.0 L1273.6 676.2 L1285.8 683 L1285.8 643 L1244.8 657.4 L1253.7 665.2 L1253.7 665.2 C1250.8 667.4 1244.5 673.6 1236.0 678.4 C1227.5 683.2 1215.0 690.7 1202.8 694.0 C1190.6 697.3 1169.6 697.3 1163.0 698.0 Z" fill="#e2ddc8"/>
<polygon points="1109.3,591.2 1119.2,614.9 1131.7,612.4 1136.7,642.2 1154.0,649.7 1151.6,662.2 1166.5,697.0 1156.6,704.5 1174.0,726.9 1154.0,719.4 1161.6,746.8 1151.6,739.3 1151.6,771.7 1139.0,741.8 1129.2,754.3 1124.2,734.3 1109.3,729.4 1114.3,707.0 1099.3,687.0 1109.3,677.0 1084.4,657.2 1101.8,654.7 1091.9,637.3 1106.8,634.8 1101.8,610.0 1111.8,615.0" fill="#ff0a0a" stroke="#ffe81a" stroke-width="2" stroke-linejoin="miter"/>
<g opacity="0.95">
<g transform="translate(811.0,635.0) rotate(57.3)"><ellipse rx="16.6" ry="7.5" fill="#4a68d8"/><ellipse rx="14.6" ry="5.3" fill="#7c94ec" opacity="0.8"/><line x1="-11.1" y1="-6.5" x2="-9.6" y2="6.5" stroke="#3c56c0" stroke-width="1" opacity="0.7"/><line x1="-5.5" y1="-6.5" x2="-4.0" y2="6.5" stroke="#3c56c0" stroke-width="1" opacity="0.7"/><line x1="0.0" y1="-6.5" x2="1.5" y2="6.5" stroke="#3c56c0" stroke-width="1" opacity="0.7"/><line x1="5.5" y1="-6.5" x2="7.0" y2="6.5" stroke="#3c56c0" stroke-width="1" opacity="0.7"/><line x1="11.1" y1="-6.5" x2="12.6" y2="6.5" stroke="#3c56c0" stroke-width="1" opacity="0.7"/></g>
<g transform="translate(834.5,661.0) rotate(22.5)"><ellipse rx="15.7" ry="6.5" fill="#4a68d8"/><ellipse rx="13.7" ry="4.3" fill="#7c94ec" opacity="0.8"/><line x1="-10.5" y1="-5.5" x2="-9.0" y2="5.5" stroke="#3c56c0" stroke-width="1" opacity="0.7"/><line x1="-5.2" y1="-5.5" x2="-3.7" y2="5.5" stroke="#3c56c0" stroke-width="1" opacity="0.7"/><line x1="0.0" y1="-5.5" x2="1.5" y2="5.5" stroke="#3c56c0" stroke-width="1" opacity="0.7"/><line x1="5.2" y1="-5.5" x2="6.7" y2="5.5" stroke="#3c56c0" stroke-width="1" opacity="0.7"/><line x1="10.5" y1="-5.5" x2="12.0" y2="5.5" stroke="#3c56c0" stroke-width="1" opacity="0.7"/></g>
<g transform="translate(816.0,675.5) rotate(100.3)"><ellipse rx="16.8" ry="7.0" fill="#4a68d8"/><ellipse rx="14.8" ry="4.8" fill="#7c94ec" opacity="0.8"/><line x1="-11.2" y1="-6.0" x2="-9.7" y2="6.0" stroke="#3c56c0" stroke-width="1" opacity="0.7"/><line x1="-5.6" y1="-6.0" x2="-4.1" y2="6.0" stroke="#3c56c0" stroke-width="1" opacity="0.7"/><line x1="0.0" y1="-6.0" x2="1.5" y2="6.0" stroke="#3c56c0" stroke-width="1" opacity="0.7"/><line x1="5.6" y1="-6.0" x2="7.1" y2="6.0" stroke="#3c56c0" stroke-width="1" opacity="0.7"/><line x1="11.2" y1="-6.0" x2="12.7" y2="6.0" stroke="#3c56c0" stroke-width="1" opacity="0.7"/></g>
<line x1="818" y1="648" x2="819" y2="660" stroke="#4a68d8" stroke-width="4"/>
<g transform="translate(977.5,859.0) rotate(87.8)"><ellipse rx="13.0" ry="5.0" fill="#4a68d8"/><ellipse rx="11.0" ry="2.8" fill="#7c94ec" opacity="0.8"/><line x1="-8.7" y1="-4.0" x2="-7.2" y2="4.0" stroke="#3c56c0" stroke-width="1" opacity="0.7"/><line x1="-4.3" y1="-4.0" x2="-2.8" y2="4.0" stroke="#3c56c0" stroke-width="1" opacity="0.7"/><line x1="0.0" y1="-4.0" x2="1.5" y2="4.0" stroke="#3c56c0" stroke-width="1" opacity="0.7"/><line x1="4.3" y1="-4.0" x2="5.8" y2="4.0" stroke="#3c56c0" stroke-width="1" opacity="0.7"/><line x1="8.7" y1="-4.0" x2="10.2" y2="4.0" stroke="#3c56c0" stroke-width="1" opacity="0.7"/></g>
<g transform="translate(959.0,876.0) rotate(12.1)"><ellipse rx="14.3" ry="6.0" fill="#4a68d8"/><ellipse rx="12.3" ry="3.8" fill="#7c94ec" opacity="0.8"/><line x1="-9.5" y1="-5.0" x2="-8.0" y2="5.0" stroke="#3c56c0" stroke-width="1" opacity="0.7"/><line x1="-4.8" y1="-5.0" x2="-3.3" y2="5.0" stroke="#3c56c0" stroke-width="1" opacity="0.7"/><line x1="0.0" y1="-5.0" x2="1.5" y2="5.0" stroke="#3c56c0" stroke-width="1" opacity="0.7"/><line x1="4.8" y1="-5.0" x2="6.3" y2="5.0" stroke="#3c56c0" stroke-width="1" opacity="0.7"/><line x1="9.5" y1="-5.0" x2="11.0" y2="5.0" stroke="#3c56c0" stroke-width="1" opacity="0.7"/></g>
<g transform="translate(995.5,880.5) rotate(14.5)"><ellipse rx="13.9" ry="6.0" fill="#4a68d8"/><ellipse rx="11.9" ry="3.8" fill="#7c94ec" opacity="0.8"/><line x1="-9.3" y1="-5.0" x2="-7.8" y2="5.0" stroke="#3c56c0" stroke-width="1" opacity="0.7"/><line x1="-4.6" y1="-5.0" x2="-3.1" y2="5.0" stroke="#3c56c0" stroke-width="1" opacity="0.7"/><line x1="0.0" y1="-5.0" x2="1.5" y2="5.0" stroke="#3c56c0" stroke-width="1" opacity="0.7"/><line x1="4.6" y1="-5.0" x2="6.1" y2="5.0" stroke="#3c56c0" stroke-width="1" opacity="0.7"/><line x1="9.3" y1="-5.0" x2="10.8" y2="5.0" stroke="#3c56c0" stroke-width="1" opacity="0.7"/></g>
<g transform="translate(1319.0,831.0) rotate(125.0)"><ellipse rx="12.2" ry="5.0" fill="#4a68d8"/><ellipse rx="10.2" ry="2.8" fill="#7c94ec" opacity="0.8"/><line x1="-8.1" y1="-4.0" x2="-6.6" y2="4.0" stroke="#3c56c0" stroke-width="1" opacity="0.7"/><line x1="-4.1" y1="-4.0" x2="-2.6" y2="4.0" stroke="#3c56c0" stroke-width="1" opacity="0.7"/><line x1="0.0" y1="-4.0" x2="1.5" y2="4.0" stroke="#3c56c0" stroke-width="1" opacity="0.7"/><line x1="4.1" y1="-4.0" x2="5.6" y2="4.0" stroke="#3c56c0" stroke-width="1" opacity="0.7"/><line x1="8.1" y1="-4.0" x2="9.6" y2="4.0" stroke="#3c56c0" stroke-width="1" opacity="0.7"/></g>
<g transform="translate(1299.5,836.0) rotate(33.7)"><ellipse rx="9.0" ry="4.0" fill="#4a68d8"/><ellipse rx="7.0" ry="1.8" fill="#7c94ec" opacity="0.8"/><line x1="-6.0" y1="-3.0" x2="-4.5" y2="3.0" stroke="#3c56c0" stroke-width="1" opacity="0.7"/><line x1="-3.0" y1="-3.0" x2="-1.5" y2="3.0" stroke="#3c56c0" stroke-width="1" opacity="0.7"/><line x1="0.0" y1="-3.0" x2="1.5" y2="3.0" stroke="#3c56c0" stroke-width="1" opacity="0.7"/><line x1="3.0" y1="-3.0" x2="4.5" y2="3.0" stroke="#3c56c0" stroke-width="1" opacity="0.7"/><line x1="6.0" y1="-3.0" x2="7.5" y2="3.0" stroke="#3c56c0" stroke-width="1" opacity="0.7"/></g>
<g transform="translate(1307.0,855.0) rotate(100.3)"><ellipse rx="11.2" ry="5.0" fill="#4a68d8"/><ellipse rx="9.2" ry="2.8" fill="#7c94ec" opacity="0.8"/><line x1="-7.5" y1="-4.0" x2="-6.0" y2="4.0" stroke="#3c56c0" stroke-width="1" opacity="0.7"/><line x1="-3.7" y1="-4.0" x2="-2.2" y2="4.0" stroke="#3c56c0" stroke-width="1" opacity="0.7"/><line x1="0.0" y1="-4.0" x2="1.5" y2="4.0" stroke="#3c56c0" stroke-width="1" opacity="0.7"/><line x1="3.7" y1="-4.0" x2="5.2" y2="4.0" stroke="#3c56c0" stroke-width="1" opacity="0.7"/><line x1="7.5" y1="-4.0" x2="9.0" y2="4.0" stroke="#3c56c0" stroke-width="1" opacity="0.7"/></g>
</g>
<defs><radialGradient id="smallSph" gradientUnits="userSpaceOnUse" cx="764" cy="645" r="48"><stop offset="0" stop-color="#f2dcc4"/><stop offset="0.25" stop-color="#c99058"/><stop offset="0.7" stop-color="#b47838"/><stop offset="1" stop-color="#8a5a26"/></radialGradient><radialGradient id="smallSph2" gradientUnits="userSpaceOnUse" cx="996" cy="688" r="32"><stop offset="0" stop-color="#d8a878"/><stop offset="0.6" stop-color="#b07c48"/><stop offset="1" stop-color="#8a5a30"/></radialGradient></defs>
<circle cx="754.5" cy="660" r="37.5" fill="url(#smallSph)"/>
<path d="M764.0 576.4 C763.2 578.0 760.5 582.6 759.3 586.0 C758.1 589.4 757.0 593.5 757.0 597.0 C757.0 600.5 758.4 604.0 759.3 606.7 C760.2 609.4 762.0 612.0 762.5 613.0" fill="none" stroke="#e02828" stroke-width="2.0" stroke-linecap="round" stroke-linejoin="round"/><g stroke="#e02828" stroke-width="0.9"><line x1="763.3" y1="577.8" x2="760.2" y2="576.1"/><line x1="761.7" y1="580.6" x2="758.6" y2="579.0"/><line x1="760.3" y1="583.5" x2="757.1" y2="582.1"/><line x1="759.1" y1="586.5" x2="755.8" y2="585.4"/><line x1="758.2" y1="589.5" x2="754.8" y2="588.6"/><line x1="757.5" y1="592.6" x2="754.0" y2="592.0"/><line x1="757.0" y1="595.8" x2="753.6" y2="595.6"/><line x1="757.1" y1="599.0" x2="753.7" y2="599.5"/><line x1="757.8" y1="602.1" x2="754.4" y2="603.1"/><line x1="758.8" y1="605.2" x2="755.5" y2="606.3"/><line x1="759.9" y1="608.2" x2="756.7" y2="609.6"/><line x1="761.4" y1="611.0" x2="758.3" y2="612.8"/></g>
<path d="M689.0 608.3 C691.2 607.8 697.2 604.7 702.0 605.0 C706.8 605.3 714.5 607.3 717.9 610.0 C721.3 612.7 720.8 617.0 722.6 621.0 C724.5 625.0 727.9 631.7 729.0 633.8" fill="none" stroke="#e02828" stroke-width="2.0" stroke-linecap="round" stroke-linejoin="round"/><g stroke="#e02828" stroke-width="0.9"><line x1="690.5" y1="607.8" x2="691.7" y2="611.1"/><line x1="693.5" y1="606.7" x2="694.7" y2="610.0"/><line x1="696.6" y1="605.7" x2="697.5" y2="609.1"/><line x1="699.7" y1="605.1" x2="700.1" y2="608.6"/><line x1="702.9" y1="605.1" x2="702.6" y2="608.6"/><line x1="706.1" y1="605.5" x2="705.4" y2="609.0"/><line x1="709.2" y1="606.2" x2="708.3" y2="609.6"/><line x1="712.2" y1="607.2" x2="711.1" y2="610.5"/><line x1="715.2" y1="608.4" x2="713.7" y2="611.6"/><line x1="717.9" y1="610.0" x2="715.7" y2="612.7"/><line x1="719.9" y1="612.5" x2="716.8" y2="614.0"/><line x1="721.0" y1="615.5" x2="717.6" y2="616.4"/><line x1="721.7" y1="618.6" x2="718.4" y2="619.6"/><line x1="722.9" y1="621.6" x2="719.7" y2="623.1"/><line x1="724.3" y1="624.5" x2="721.1" y2="626.0"/><line x1="725.7" y1="627.3" x2="722.6" y2="628.9"/><line x1="727.2" y1="630.2" x2="724.1" y2="631.8"/></g>
<path d="M708.3 600.3 C707.2 601.9 703.6 606.3 702.0 610.0 C700.4 613.7 698.7 618.6 698.7 622.6 C698.7 626.6 699.3 630.3 702.0 633.8 C704.7 637.3 712.6 641.8 714.7 643.4" fill="none" stroke="#e02828" stroke-width="2.0" stroke-linecap="round" stroke-linejoin="round"/><g stroke="#e02828" stroke-width="0.9"><line x1="707.4" y1="601.6" x2="704.6" y2="599.5"/><line x1="705.5" y1="604.2" x2="702.6" y2="602.2"/><line x1="703.7" y1="606.8" x2="700.7" y2="605.0"/><line x1="702.2" y1="609.6" x2="699.0" y2="608.2"/><line x1="700.9" y1="612.6" x2="697.7" y2="611.4"/><line x1="699.9" y1="615.6" x2="696.6" y2="614.6"/><line x1="699.1" y1="618.7" x2="695.7" y2="618.0"/><line x1="698.7" y1="621.9" x2="695.2" y2="621.8"/><line x1="698.8" y1="625.1" x2="695.3" y2="625.4"/><line x1="699.3" y1="628.3" x2="695.9" y2="629.1"/><line x1="700.4" y1="631.3" x2="697.3" y2="632.8"/><line x1="702.1" y1="634.0" x2="699.4" y2="636.2"/><line x1="704.4" y1="636.2" x2="702.1" y2="638.9"/><line x1="706.9" y1="638.2" x2="704.9" y2="641.0"/><line x1="709.6" y1="640.0" x2="707.6" y2="642.9"/><line x1="712.2" y1="641.7" x2="710.3" y2="644.7"/></g>
<path d="M686.0 662.5 C686.2 664.4 684.8 671.0 687.5 673.7 C690.2 676.4 696.9 677.5 702.0 678.5 C707.1 679.5 715.2 679.8 717.9 680.0" fill="none" stroke="#e02828" stroke-width="2.0" stroke-linecap="round" stroke-linejoin="round"/><g stroke="#e02828" stroke-width="0.9"><line x1="686.0" y1="664.1" x2="682.5" y2="663.9"/><line x1="685.8" y1="667.3" x2="682.3" y2="667.2"/><line x1="686.1" y1="670.5" x2="682.6" y2="671.1"/><line x1="687.2" y1="673.4" x2="684.4" y2="675.5"/><line x1="689.8" y1="675.3" x2="688.3" y2="678.4"/><line x1="692.8" y1="676.4" x2="691.8" y2="679.8"/><line x1="695.9" y1="677.2" x2="695.1" y2="680.6"/><line x1="699.0" y1="677.9" x2="698.3" y2="681.3"/><line x1="702.2" y1="678.5" x2="701.5" y2="682.0"/><line x1="705.3" y1="679.0" x2="704.9" y2="682.5"/><line x1="708.5" y1="679.4" x2="708.2" y2="682.9"/><line x1="711.7" y1="679.6" x2="711.5" y2="683.1"/><line x1="714.9" y1="679.8" x2="714.7" y2="683.3"/></g>
<path d="M694.0 697.6 C696.7 698.7 704.7 703.5 710.0 704.0 C715.3 704.5 721.8 702.4 725.8 700.8 C729.8 699.2 732.5 695.5 733.8 694.4" fill="none" stroke="#e02828" stroke-width="2.0" stroke-linecap="round" stroke-linejoin="round"/><g stroke="#e02828" stroke-width="0.9"><line x1="695.5" y1="698.3" x2="693.9" y2="701.4"/><line x1="698.3" y1="699.7" x2="696.8" y2="702.8"/><line x1="701.2" y1="701.1" x2="699.7" y2="704.3"/><line x1="704.1" y1="702.4" x2="702.9" y2="705.6"/><line x1="707.2" y1="703.4" x2="706.1" y2="706.8"/><line x1="710.3" y1="704.0" x2="710.0" y2="707.5"/><line x1="713.5" y1="704.0" x2="713.8" y2="707.5"/><line x1="716.7" y1="703.6" x2="717.3" y2="707.0"/><line x1="719.8" y1="702.8" x2="720.7" y2="706.2"/><line x1="722.8" y1="701.9" x2="724.0" y2="705.2"/><line x1="725.8" y1="700.8" x2="727.2" y2="704.0"/><line x1="728.6" y1="699.2" x2="730.6" y2="702.1"/><line x1="731.0" y1="697.2" x2="733.5" y2="699.7"/></g>
<path d="M751.4 737.5 C752.2 734.9 754.9 726.9 756.2 721.6 C757.5 716.3 757.2 709.6 759.3 705.6 C761.4 701.6 765.5 700.0 769.0 697.6 C772.5 695.2 778.2 692.3 780.0 691.3" fill="none" stroke="#e02828" stroke-width="2.0" stroke-linecap="round" stroke-linejoin="round"/><g stroke="#e02828" stroke-width="0.9"><line x1="751.9" y1="736.0" x2="755.2" y2="737.0"/><line x1="752.9" y1="732.9" x2="756.2" y2="734.0"/><line x1="753.8" y1="729.9" x2="757.2" y2="730.9"/><line x1="754.8" y1="726.8" x2="758.1" y2="727.8"/><line x1="755.6" y1="723.7" x2="759.0" y2="724.7"/><line x1="756.4" y1="720.6" x2="759.8" y2="721.4"/><line x1="756.9" y1="717.5" x2="760.4" y2="717.9"/><line x1="757.3" y1="714.3" x2="760.8" y2="714.7"/><line x1="757.7" y1="711.1" x2="761.2" y2="711.7"/><line x1="758.4" y1="708.0" x2="761.7" y2="708.9"/><line x1="759.6" y1="705.1" x2="762.6" y2="706.9"/><line x1="761.6" y1="702.6" x2="764.1" y2="705.1"/><line x1="764.2" y1="700.6" x2="766.1" y2="703.6"/><line x1="766.9" y1="699.0" x2="768.7" y2="701.9"/><line x1="769.6" y1="697.2" x2="771.5" y2="700.1"/><line x1="772.3" y1="695.5" x2="774.1" y2="698.6"/><line x1="775.1" y1="694.0" x2="776.8" y2="697.0"/><line x1="777.9" y1="692.4" x2="779.6" y2="695.5"/></g>
<path d="M807.2 710.4 C805.3 709.3 799.2 706.7 796.0 704.0 C792.8 701.3 790.1 697.3 788.0 694.4 C785.9 691.5 784.1 687.8 783.3 686.5" fill="none" stroke="#e02828" stroke-width="2.0" stroke-linecap="round" stroke-linejoin="round"/><g stroke="#e02828" stroke-width="0.9"><line x1="805.8" y1="709.7" x2="807.4" y2="706.5"/><line x1="802.9" y1="708.2" x2="804.5" y2="705.1"/><line x1="800.1" y1="706.7" x2="801.8" y2="703.7"/><line x1="797.4" y1="705.0" x2="799.4" y2="702.2"/><line x1="794.9" y1="703.0" x2="797.3" y2="700.5"/><line x1="792.7" y1="700.7" x2="795.4" y2="698.4"/><line x1="790.7" y1="698.2" x2="793.5" y2="696.1"/><line x1="788.8" y1="695.6" x2="791.7" y2="693.5"/><line x1="787.0" y1="693.0" x2="789.9" y2="691.0"/><line x1="785.4" y1="690.2" x2="788.4" y2="688.5"/></g>
<path d="M781.7 672.0 C784.4 671.8 792.8 671.3 797.6 670.5 C802.4 669.7 807.2 670.8 810.4 667.3 C813.6 663.8 815.7 652.7 816.8 649.8" fill="none" stroke="#e02828" stroke-width="2.0" stroke-linecap="round" stroke-linejoin="round"/><g stroke="#e02828" stroke-width="0.9"><line x1="783.3" y1="671.9" x2="783.6" y2="675.4"/><line x1="786.5" y1="671.6" x2="786.7" y2="675.1"/><line x1="789.7" y1="671.4" x2="790.0" y2="674.9"/><line x1="792.9" y1="671.1" x2="793.2" y2="674.6"/><line x1="796.0" y1="670.7" x2="796.5" y2="674.2"/><line x1="799.2" y1="670.3" x2="799.5" y2="673.8"/><line x1="802.4" y1="670.1" x2="802.6" y2="673.6"/><line x1="805.6" y1="669.7" x2="806.2" y2="673.2"/><line x1="808.6" y1="668.7" x2="810.3" y2="671.8"/><line x1="811.0" y1="666.6" x2="813.8" y2="668.7"/><line x1="812.5" y1="663.8" x2="815.7" y2="665.2"/><line x1="813.6" y1="660.8" x2="816.9" y2="661.9"/><line x1="814.6" y1="657.7" x2="817.9" y2="658.7"/><line x1="815.4" y1="654.7" x2="818.8" y2="655.6"/><line x1="816.3" y1="651.6" x2="819.6" y2="652.5"/></g>
<path d="M781.7 617.9 C783.8 617.6 790.4 617.9 794.4 616.3 C798.4 614.7 803.7 609.6 805.6 608.3" fill="none" stroke="#e02828" stroke-width="2.0" stroke-linecap="round" stroke-linejoin="round"/><g stroke="#e02828" stroke-width="0.9"><line x1="783.3" y1="617.8" x2="783.4" y2="621.3"/><line x1="786.5" y1="617.7" x2="786.7" y2="621.1"/><line x1="789.7" y1="617.4" x2="790.1" y2="620.9"/><line x1="792.8" y1="616.8" x2="793.7" y2="620.2"/><line x1="795.8" y1="615.6" x2="797.5" y2="618.7"/><line x1="798.5" y1="613.9" x2="800.5" y2="616.8"/><line x1="801.0" y1="612.0" x2="803.2" y2="614.7"/><line x1="803.5" y1="610.0" x2="805.8" y2="612.7"/></g>
<path d="M789.7 645.0 C792.4 644.2 801.1 641.3 805.6 640.2 C810.1 639.1 814.9 638.9 816.8 638.6" fill="none" stroke="#e02828" stroke-width="2.0" stroke-linecap="round" stroke-linejoin="round"/><g stroke="#e02828" stroke-width="0.9"><line x1="791.2" y1="644.5" x2="792.3" y2="647.9"/><line x1="794.3" y1="643.5" x2="795.3" y2="646.9"/><line x1="797.3" y1="642.6" x2="798.4" y2="645.9"/><line x1="800.4" y1="641.6" x2="801.4" y2="645.0"/><line x1="803.5" y1="640.8" x2="804.4" y2="644.1"/><line x1="806.6" y1="640.0" x2="807.3" y2="643.4"/><line x1="809.7" y1="639.4" x2="810.2" y2="642.9"/><line x1="812.9" y1="639.0" x2="813.3" y2="642.5"/></g>
<path d="M762.5 613.0 C760.9 613.8 757.2 616.3 753.0 617.9 C748.8 619.5 741.0 620.0 737.0 622.6 C733.0 625.2 730.3 631.9 729.0 633.8" fill="none" stroke="#2828d0" stroke-width="2.0" stroke-linecap="round" stroke-linejoin="round"/>
<path d="M729.0 633.8 C731.7 632.8 739.0 629.5 745.0 628.0 C751.0 626.5 759.2 624.7 765.0 625.0 C770.8 625.3 776.0 626.7 780.0 630.0 C784.0 633.3 788.5 639.2 789.0 645.0 C789.5 650.8 784.2 660.5 783.0 665.0 C781.8 669.5 781.9 670.8 781.7 672.0" fill="none" stroke="#2828d0" stroke-width="2.0" stroke-linecap="round" stroke-linejoin="round"/>
<path d="M714.7 643.4 C715.6 646.2 719.5 653.9 720.0 660.0 C720.5 666.1 717.1 675.0 717.9 680.0 C718.7 685.0 722.4 687.6 725.0 690.0 C727.6 692.4 732.3 693.7 733.8 694.4" fill="none" stroke="#2828d0" stroke-width="2.0" stroke-linecap="round" stroke-linejoin="round"/>
<path d="M737.0 645.0 C738.3 647.5 744.2 654.5 745.0 660.0 C745.8 665.5 741.2 673.0 742.0 678.0 C742.8 683.0 746.2 687.3 750.0 690.0 C753.8 692.7 760.0 693.8 765.0 694.0 C770.0 694.2 777.5 691.8 780.0 691.3" fill="none" stroke="#2828d0" stroke-width="2.0" stroke-linecap="round" stroke-linejoin="round"/>
<path d="M745.0 628.0 C746.2 630.8 749.5 639.7 752.0 645.0 C754.5 650.3 756.2 655.5 760.0 660.0 C763.8 664.5 772.5 670.0 775.0 672.0" fill="none" stroke="#2828d0" stroke-width="2.0" stroke-linecap="round" stroke-linejoin="round"/>
<path d="M762.0 623.0 C763.3 625.8 766.2 634.7 770.0 640.0 C773.8 645.3 782.5 652.5 785.0 655.0" fill="none" stroke="#2828d0" stroke-width="2.0" stroke-linecap="round" stroke-linejoin="round"/>
<path d="M733.8 694.4 C736.2 695.0 742.1 697.5 748.0 698.0 C753.9 698.5 765.5 697.7 769.0 697.6" fill="none" stroke="#2828d0" stroke-width="2.0" stroke-linecap="round" stroke-linejoin="round"/>
<circle cx="993.5" cy="694.5" r="25" fill="url(#smallSph2)"/>
<path d="M960.0 675.0 C962.0 675.8 968.7 680.5 972.0 680.0 C975.3 679.5 977.0 672.3 980.0 672.0 C983.0 671.7 986.7 678.3 990.0 678.0 C993.3 677.7 996.7 670.3 1000.0 670.0 C1003.3 669.7 1007.0 676.3 1010.0 676.0 C1013.0 675.7 1016.7 669.3 1018.0 668.0" fill="none" stroke="#d83030" stroke-width="1.6" stroke-linecap="round" stroke-linejoin="round"/>
<path d="M965.0 700.0 C966.7 698.7 971.2 692.0 975.0 692.0 C978.8 692.0 983.8 700.0 988.0 700.0 C992.2 700.0 996.0 692.0 1000.0 692.0 C1004.0 692.0 1007.8 699.7 1012.0 700.0 C1016.2 700.3 1022.8 695.0 1025.0 694.0" fill="none" stroke="#d83030" stroke-width="1.6" stroke-linecap="round" stroke-linejoin="round"/>
<path d="M970.0 712.0 C972.0 712.7 977.8 716.7 982.0 716.0 C986.2 715.3 990.7 708.0 995.0 708.0 C999.3 708.0 1003.5 715.7 1008.0 716.0 C1012.5 716.3 1019.7 711.0 1022.0 710.0" fill="none" stroke="#d83030" stroke-width="1.6" stroke-linecap="round" stroke-linejoin="round"/>
<path d="M955.0 690.0 C956.2 690.8 959.5 695.3 962.0 695.0 C964.5 694.7 968.7 689.2 970.0 688.0" fill="none" stroke="#d83030" stroke-width="1.6" stroke-linecap="round" stroke-linejoin="round"/>
<path d="M1022.0 682.0 C1023.3 683.3 1027.7 689.7 1030.0 690.0 C1032.3 690.3 1035.0 685.0 1036.0 684.0" fill="none" stroke="#d83030" stroke-width="1.6" stroke-linecap="round" stroke-linejoin="round"/>
<path d="M975.0 668.0 C976.7 670.8 984.5 679.7 985.0 685.0 C985.5 690.3 977.2 695.5 978.0 700.0 C978.8 704.5 988.0 710.0 990.0 712.0" fill="none" stroke="#3030c0" stroke-width="1.6" stroke-linecap="round" stroke-linejoin="round"/>
<path d="M995.0 672.0 C996.7 674.7 1004.5 682.5 1005.0 688.0 C1005.5 693.5 997.2 700.5 998.0 705.0 C998.8 709.5 1008.0 713.3 1010.0 715.0" fill="none" stroke="#3030c0" stroke-width="1.6" stroke-linecap="round" stroke-linejoin="round"/>
<path d="M1012.0 675.0 C1013.0 677.5 1018.0 685.0 1018.0 690.0 C1018.0 695.0 1013.0 702.5 1012.0 705.0" fill="none" stroke="#3030c0" stroke-width="1.6" stroke-linecap="round" stroke-linejoin="round"/>
<circle cx="1154" cy="198.5" r="87.5" fill="url(#sph1)"/>
<circle cx="1154" cy="198.5" r="87.5" fill="url(#sph1dark)"/>
<circle cx="1154" cy="198.5" r="87.5" fill="url(#rimDark)"/>
<defs><filter id="bump" x="0" y="0" width="100%" height="100%"><feTurbulence type="fractalNoise" baseFrequency="0.09" numOctaves="2" seed="4"/><feColorMatrix type="matrix" values="0 0 0 0 0  0 0 0 0 0  0 0 0 0 0  0 0 0 -1.3 0.95"/></filter><clipPath id="sph1clip"><circle cx="1154" cy="198.5" r="87.5"/></clipPath></defs>
<g clip-path="url(#sph1clip)" opacity="0.18"><rect x="1066" y="111" width="176" height="176" filter="url(#bump)"/></g>
<g stroke="#2424b0" stroke-width="4.6" stroke-linecap="butt"><line x1="533.4" y1="136.1" x2="549.5" y2="147.5"/><line x1="563.7" y1="124.1" x2="573.4" y2="142.7"/><line x1="598.4" y1="118.5" x2="599.6" y2="139.5"/><line x1="629.2" y1="121.1" x2="625.0" y2="138.0"/><line x1="660.6" y1="127.5" x2="649.7" y2="138.0"/></g>
<path d="M514.5 144.3 C518.2 142.2 527.8 135.4 536.8 131.6 C545.8 127.8 558.0 123.3 568.6 121.2 C579.2 119.1 589.8 118.8 600.4 118.9 C611.0 119.0 621.6 120.0 632.2 122.0 C642.8 124.0 653.4 127.6 664.0 130.8 C674.6 134.0 689.7 139.0 695.9 141.1 C702.1 143.2 700.1 143.1 701.0 143.5" fill="none" stroke="#0c0c62" stroke-width="8.5" stroke-linecap="butt"/><path d="M514.5 144.3 C518.2 142.2 527.8 135.4 536.8 131.6 C545.8 127.8 558.0 123.3 568.6 121.2 C579.2 119.1 589.8 118.8 600.4 118.9 C611.0 119.0 621.6 120.0 632.2 122.0 C642.8 124.0 653.4 127.6 664.0 130.8 C674.6 134.0 689.7 139.0 695.9 141.1 C702.1 143.2 700.1 143.1 701.0 143.5" fill="none" stroke="#1c1ca4" stroke-width="4.7" transform="translate(0,-0.8)"/><path d="M514.5 144.3 C518.2 142.2 527.8 135.4 536.8 131.6 C545.8 127.8 558.0 123.3 568.6 121.2 C579.2 119.1 589.8 118.8 600.4 118.9 C611.0 119.0 621.6 120.0 632.2 122.0 C642.8 124.0 653.4 127.6 664.0 130.8 C674.6 134.0 689.7 139.0 695.9 141.1 C702.1 143.2 700.1 143.1 701.0 143.5" fill="none" stroke="#5a5ae6" stroke-width="1.5" transform="translate(0,-1.4)" opacity="0.7"/>
<g stroke="#d81818" stroke-width="3.8" stroke-linecap="butt"><line x1="735.3" y1="156.8" x2="746.0" y2="151.5"/><line x1="765.7" y1="165.7" x2="771.8" y2="152.2"/><line x1="797.4" y1="169.0" x2="797.4" y2="152.2"/><line x1="828.9" y1="165.9" x2="824.0" y2="150.2"/><line x1="861.8" y1="156.0" x2="849.6" y2="146.2"/><line x1="888.0" y1="143.8" x2="872.3" y2="141.3"/><line x1="917.4" y1="135.2" x2="923.5" y2="120.6"/><line x1="940.1" y1="132.5" x2="941.3" y2="115.7"/><line x1="964.4" y1="131.2" x2="957.0" y2="116.7"/></g>
<path d="M699.0 143.5 C704.1 145.6 717.8 152.3 729.4 156.1 C741.0 159.8 755.6 163.7 768.8 166.0 C781.9 168.3 795.1 170.2 808.3 169.9 C821.4 169.6 834.6 167.6 847.7 164.0 C860.8 160.4 875.5 154.4 887.0 148.2 C898.5 141.9 908.4 132.6 916.6 126.5 C924.8 120.4 930.8 114.8 936.4 111.8 C942.0 108.8 946.1 108.3 950.0 108.8 C953.9 109.3 958.3 113.7 960.0 114.7" fill="none" stroke="#a80c0c" stroke-width="8.0" stroke-linecap="butt"/><path d="M699.0 143.5 C704.1 145.6 717.8 152.3 729.4 156.1 C741.0 159.8 755.6 163.7 768.8 166.0 C781.9 168.3 795.1 170.2 808.3 169.9 C821.4 169.6 834.6 167.6 847.7 164.0 C860.8 160.4 875.5 154.4 887.0 148.2 C898.5 141.9 908.4 132.6 916.6 126.5 C924.8 120.4 930.8 114.8 936.4 111.8 C942.0 108.8 946.1 108.3 950.0 108.8 C953.9 109.3 958.3 113.7 960.0 114.7" fill="none" stroke="#d81c1c" stroke-width="4.4" transform="translate(0,-0.8)"/><path d="M699.0 143.5 C704.1 145.6 717.8 152.3 729.4 156.1 C741.0 159.8 755.6 163.7 768.8 166.0 C781.9 168.3 795.1 170.2 808.3 169.9 C821.4 169.6 834.6 167.6 847.7 164.0 C860.8 160.4 875.5 154.4 887.0 148.2 C898.5 141.9 908.4 132.6 916.6 126.5 C924.8 120.4 930.8 114.8 936.4 111.8 C942.0 108.8 946.1 108.3 950.0 108.8 C953.9 109.3 958.3 113.7 960.0 114.7" fill="none" stroke="#ff8080" stroke-width="1.4" transform="translate(0,-1.4)" opacity="0.7"/>
<circle cx="213.8" cy="194.4" r="85.3" fill="url(#sph2)"/>
<circle cx="213.8" cy="194.4" r="85.3" fill="url(#sph2dark)"/>
<circle cx="213.8" cy="194.4" r="85.3" fill="url(#rimDark)"/>
<defs><clipPath id="sph2clip"><circle cx="213.8" cy="194.4" r="85.3"/></clipPath></defs>
<g clip-path="url(#sph2clip)" opacity="0.16"><rect x="128" y="109" width="172" height="172" filter="url(#bump)"/></g>
<g stroke="#2a2ac0" stroke-width="1.8" stroke-linecap="butt"><line x1="252.7" y1="107.4" x2="254.2" y2="101.6"/><line x1="243.0" y1="104.9" x2="244.4" y2="99.1"/><line x1="233.2" y1="102.7" x2="234.4" y2="96.8"/><line x1="223.3" y1="101.3" x2="223.9" y2="95.3"/><line x1="213.4" y1="100.6" x2="213.6" y2="94.6"/><line x1="203.4" y1="100.5" x2="203.2" y2="94.5"/><line x1="193.4" y1="101.3" x2="192.6" y2="95.4"/><line x1="183.7" y1="103.5" x2="181.6" y2="97.9"/><line x1="175.1" y1="108.6" x2="171.0" y2="104.2"/><line x1="168.9" y1="116.4" x2="163.8" y2="113.1"/><line x1="164.7" y1="125.4" x2="158.9" y2="123.8"/><line x1="162.6" y1="135.2" x2="156.7" y2="134.0"/></g><path d="M257.5 108.7 C252.6 107.5 237.8 103.1 228.0 101.8 C218.2 100.5 206.7 100.1 198.5 100.8 C190.3 101.5 184.1 102.7 178.8 105.8 C173.6 108.9 169.6 114.9 167.0 119.5 C164.4 124.1 164.0 129.1 163.0 133.3 C162.0 137.6 161.3 143.1 161.0 145.0" fill="none" stroke="#0a0a6a" stroke-width="5.2" stroke-linecap="butt"/><path d="M257.5 108.7 C252.6 107.5 237.8 103.1 228.0 101.8 C218.2 100.5 206.7 100.1 198.5 100.8 C190.3 101.5 184.1 102.7 178.8 105.8 C173.6 108.9 169.6 114.9 167.0 119.5 C164.4 124.1 164.0 129.1 163.0 133.3 C162.0 137.6 161.3 143.1 161.0 145.0" fill="none" stroke="#2020b4" stroke-width="2.9" transform="translate(0,-0.8)"/><path d="M257.5 108.7 C252.6 107.5 237.8 103.1 228.0 101.8 C218.2 100.5 206.7 100.1 198.5 100.8 C190.3 101.5 184.1 102.7 178.8 105.8 C173.6 108.9 169.6 114.9 167.0 119.5 C164.4 124.1 164.0 129.1 163.0 133.3 C162.0 137.6 161.3 143.1 161.0 145.0" fill="none" stroke="#9090ff" stroke-width="0.9" transform="translate(0,-1.4)" opacity="0.7"/>
<g stroke="#2a2ac0" stroke-width="1.8" stroke-linecap="butt"><line x1="179.7" y1="161.8" x2="178.6" y2="167.7"/><line x1="189.6" y1="163.4" x2="188.8" y2="169.4"/><line x1="199.6" y1="163.7" x2="200.2" y2="169.7"/><line x1="209.3" y1="161.7" x2="211.0" y2="167.4"/><line x1="218.8" y1="158.4" x2="221.0" y2="163.9"/><line x1="227.7" y1="154.0" x2="230.8" y2="159.1"/><line x1="236.1" y1="148.5" x2="239.4" y2="153.5"/><line x1="244.7" y1="143.4" x2="247.7" y2="148.6"/><line x1="253.4" y1="138.5" x2="256.1" y2="143.8"/><line x1="262.8" y1="135.1" x2="263.7" y2="141.0"/><line x1="272.7" y1="135.5" x2="271.1" y2="141.3"/><line x1="281.3" y1="140.3" x2="277.1" y2="144.6"/><line x1="286.8" y1="148.6" x2="281.3" y2="150.9"/><line x1="289.3" y1="158.3" x2="283.3" y2="159.1"/><line x1="290.0" y1="168.2" x2="284.0" y2="168.2"/><line x1="289.4" y1="178.2" x2="283.5" y2="177.4"/><line x1="287.2" y1="187.9" x2="281.5" y2="186.0"/><line x1="282.6" y1="196.8" x2="277.8" y2="193.2"/><line x1="275.3" y1="203.6" x2="271.9" y2="198.7"/><line x1="266.7" y1="208.5" x2="264.1" y2="203.1"/><line x1="257.3" y1="212.1" x2="255.8" y2="206.2"/><line x1="247.4" y1="213.3" x2="247.3" y2="207.3"/><line x1="237.4" y1="213.0" x2="237.8" y2="207.0"/><line x1="227.6" y1="211.3" x2="228.9" y2="205.5"/></g><path d="M174.8 160.9 C178.8 161.4 190.6 164.5 198.5 163.8 C206.4 163.2 214.8 160.1 222.0 157.0 C229.2 153.9 235.2 148.6 241.8 145.0 C248.4 141.4 255.6 136.6 261.5 135.3 C267.4 134.0 272.9 135.0 277.2 137.3 C281.4 139.6 284.9 143.8 287.0 149.0 C289.1 154.2 290.0 162.2 290.0 168.8 C290.0 175.4 289.1 182.9 287.0 188.5 C284.9 194.1 282.1 198.3 277.2 202.2 C272.3 206.1 264.1 210.2 257.5 212.0 C250.9 213.8 243.7 213.3 237.8 213.0 C231.9 212.7 224.6 210.5 222.0 210.0" fill="none" stroke="#0a0a6a" stroke-width="5.2" stroke-linecap="butt"/><path d="M174.8 160.9 C178.8 161.4 190.6 164.5 198.5 163.8 C206.4 163.2 214.8 160.1 222.0 157.0 C229.2 153.9 235.2 148.6 241.8 145.0 C248.4 141.4 255.6 136.6 261.5 135.3 C267.4 134.0 272.9 135.0 277.2 137.3 C281.4 139.6 284.9 143.8 287.0 149.0 C289.1 154.2 290.0 162.2 290.0 168.8 C290.0 175.4 289.1 182.9 287.0 188.5 C284.9 194.1 282.1 198.3 277.2 202.2 C272.3 206.1 264.1 210.2 257.5 212.0 C250.9 213.8 243.7 213.3 237.8 213.0 C231.9 212.7 224.6 210.5 222.0 210.0" fill="none" stroke="#2020b4" stroke-width="2.9" transform="translate(0,-0.8)"/><path d="M174.8 160.9 C178.8 161.4 190.6 164.5 198.5 163.8 C206.4 163.2 214.8 160.1 222.0 157.0 C229.2 153.9 235.2 148.6 241.8 145.0 C248.4 141.4 255.6 136.6 261.5 135.3 C267.4 134.0 272.9 135.0 277.2 137.3 C281.4 139.6 284.9 143.8 287.0 149.0 C289.1 154.2 290.0 162.2 290.0 168.8 C290.0 175.4 289.1 182.9 287.0 188.5 C284.9 194.1 282.1 198.3 277.2 202.2 C272.3 206.1 264.1 210.2 257.5 212.0 C250.9 213.8 243.7 213.3 237.8 213.0 C231.9 212.7 224.6 210.5 222.0 210.0" fill="none" stroke="#9090ff" stroke-width="0.9" transform="translate(0,-1.4)" opacity="0.7"/>
<g stroke="#2a2ac0" stroke-width="1.8" stroke-linecap="butt"><line x1="175.9" y1="176.2" x2="174.2" y2="170.5"/><line x1="166.5" y1="179.4" x2="164.4" y2="173.8"/><line x1="157.3" y1="183.5" x2="154.4" y2="178.3"/><line x1="148.9" y1="188.8" x2="145.5" y2="183.9"/><line x1="141.0" y1="194.9" x2="137.1" y2="190.4"/><line x1="133.8" y1="201.9" x2="129.3" y2="198.0"/><line x1="127.5" y1="209.7" x2="122.8" y2="205.9"/></g><path d="M180.7 174.7 C177.1 176.0 165.9 179.0 159.0 182.6 C152.1 186.2 145.0 191.4 139.4 196.3 C133.8 201.2 128.9 208.1 125.6 212.0 C122.3 215.9 120.7 218.7 119.7 220.0" fill="none" stroke="#0a0a6a" stroke-width="5.2" stroke-linecap="butt"/><path d="M180.7 174.7 C177.1 176.0 165.9 179.0 159.0 182.6 C152.1 186.2 145.0 191.4 139.4 196.3 C133.8 201.2 128.9 208.1 125.6 212.0 C122.3 215.9 120.7 218.7 119.7 220.0" fill="none" stroke="#2020b4" stroke-width="2.9" transform="translate(0,-0.8)"/><path d="M180.7 174.7 C177.1 176.0 165.9 179.0 159.0 182.6 C152.1 186.2 145.0 191.4 139.4 196.3 C133.8 201.2 128.9 208.1 125.6 212.0 C122.3 215.9 120.7 218.7 119.7 220.0" fill="none" stroke="#9090ff" stroke-width="0.9" transform="translate(0,-1.4)" opacity="0.7"/>
<g stroke="#2a2ac0" stroke-width="1.8" stroke-linecap="butt"><line x1="190.3" y1="185.6" x2="184.3" y2="185.3"/><line x1="189.8" y1="195.6" x2="183.8" y2="195.2"/><line x1="189.0" y1="205.5" x2="183.0" y2="204.8"/><line x1="187.4" y1="215.4" x2="181.5" y2="214.4"/><line x1="185.2" y1="225.2" x2="179.5" y2="223.5"/><line x1="181.3" y1="234.3" x2="176.1" y2="231.4"/><line x1="175.3" y1="242.3" x2="171.0" y2="238.2"/><line x1="167.4" y1="248.4" x2="164.5" y2="243.2"/><line x1="158.1" y1="251.9" x2="156.7" y2="246.1"/><line x1="148.2" y1="253.5" x2="147.9" y2="247.5"/><line x1="138.3" y1="252.8" x2="139.1" y2="246.9"/></g><path d="M190.6 180.6 C190.3 185.2 189.9 199.7 188.6 208.2 C187.3 216.7 186.0 225.2 182.7 231.8 C179.4 238.4 174.6 243.9 169.0 247.5 C163.4 251.1 155.8 252.7 149.2 253.4 C142.6 254.1 132.8 251.8 129.5 251.5" fill="none" stroke="#0a0a6a" stroke-width="5.2" stroke-linecap="butt"/><path d="M190.6 180.6 C190.3 185.2 189.9 199.7 188.6 208.2 C187.3 216.7 186.0 225.2 182.7 231.8 C179.4 238.4 174.6 243.9 169.0 247.5 C163.4 251.1 155.8 252.7 149.2 253.4 C142.6 254.1 132.8 251.8 129.5 251.5" fill="none" stroke="#2020b4" stroke-width="2.9" transform="translate(0,-0.8)"/><path d="M190.6 180.6 C190.3 185.2 189.9 199.7 188.6 208.2 C187.3 216.7 186.0 225.2 182.7 231.8 C179.4 238.4 174.6 243.9 169.0 247.5 C163.4 251.1 155.8 252.7 149.2 253.4 C142.6 254.1 132.8 251.8 129.5 251.5" fill="none" stroke="#9090ff" stroke-width="0.9" transform="translate(0,-1.4)" opacity="0.7"/>
<g stroke="#2a2ac0" stroke-width="1.8" stroke-linecap="butt"><line x1="202.1" y1="216.7" x2="196.4" y2="218.7"/><line x1="205.6" y1="226.1" x2="200.1" y2="228.4"/><line x1="210.0" y1="235.0" x2="204.8" y2="237.9"/><line x1="215.1" y1="243.7" x2="210.0" y2="246.8"/><line x1="220.8" y1="251.9" x2="216.0" y2="255.6"/><line x1="227.9" y1="258.9" x2="224.1" y2="263.6"/><line x1="235.7" y1="265.0" x2="231.8" y2="269.5"/><line x1="241.2" y1="273.3" x2="235.5" y2="275.3"/><line x1="239.6" y1="282.5" x2="235.3" y2="278.2"/></g><path d="M200.4 212.0 C201.7 215.3 204.7 224.9 208.3 231.8 C211.9 238.7 217.1 247.5 222.0 253.4 C226.9 259.3 234.5 262.9 237.8 267.2 C241.1 271.5 242.4 275.7 241.8 279.0 C241.2 282.3 235.3 285.7 234.0 287.0" fill="none" stroke="#0a0a6a" stroke-width="5.2" stroke-linecap="butt"/><path d="M200.4 212.0 C201.7 215.3 204.7 224.9 208.3 231.8 C211.9 238.7 217.1 247.5 222.0 253.4 C226.9 259.3 234.5 262.9 237.8 267.2 C241.1 271.5 242.4 275.7 241.8 279.0 C241.2 282.3 235.3 285.7 234.0 287.0" fill="none" stroke="#2020b4" stroke-width="2.9" transform="translate(0,-0.8)"/><path d="M200.4 212.0 C201.7 215.3 204.7 224.9 208.3 231.8 C211.9 238.7 217.1 247.5 222.0 253.4 C226.9 259.3 234.5 262.9 237.8 267.2 C241.1 271.5 242.4 275.7 241.8 279.0 C241.2 282.3 235.3 285.7 234.0 287.0" fill="none" stroke="#9090ff" stroke-width="0.9" transform="translate(0,-1.4)" opacity="0.7"/>
<g stroke="#2a2ac0" stroke-width="1.8" stroke-linecap="butt"><line x1="257.8" y1="218.7" x2="254.5" y2="223.7"/><line x1="266.3" y1="224.0" x2="263.2" y2="229.2"/><line x1="275.2" y1="228.6" x2="273.1" y2="234.2"/><line x1="284.8" y1="231.2" x2="283.4" y2="237.1"/><line x1="294.4" y1="234.0" x2="292.0" y2="239.4"/><line x1="294.3" y1="241.4" x2="290.4" y2="236.9"/><line x1="286.7" y1="247.8" x2="282.5" y2="243.6"/><line x1="279.3" y1="254.6" x2="275.4" y2="250.0"/><line x1="271.4" y1="260.7" x2="268.1" y2="255.7"/></g><path d="M253.6 216.0 C256.9 218.0 266.1 224.5 273.3 227.8 C280.5 231.1 294.7 232.4 297.0 235.7 C299.3 239.0 290.9 243.6 287.0 247.5 C283.1 251.4 277.5 256.3 273.3 259.4 C269.1 262.5 263.9 264.9 262.0 266.0" fill="none" stroke="#0a0a6a" stroke-width="5.2" stroke-linecap="butt"/><path d="M253.6 216.0 C256.9 218.0 266.1 224.5 273.3 227.8 C280.5 231.1 294.7 232.4 297.0 235.7 C299.3 239.0 290.9 243.6 287.0 247.5 C283.1 251.4 277.5 256.3 273.3 259.4 C269.1 262.5 263.9 264.9 262.0 266.0" fill="none" stroke="#2020b4" stroke-width="2.9" transform="translate(0,-0.8)"/><path d="M253.6 216.0 C256.9 218.0 266.1 224.5 273.3 227.8 C280.5 231.1 294.7 232.4 297.0 235.7 C299.3 239.0 290.9 243.6 287.0 247.5 C283.1 251.4 277.5 256.3 273.3 259.4 C269.1 262.5 263.9 264.9 262.0 266.0" fill="none" stroke="#9090ff" stroke-width="0.9" transform="translate(0,-1.4)" opacity="0.7"/>
<g stroke="#2a2ac0" stroke-width="1.8" stroke-linecap="butt"><line x1="113.7" y1="204.9" x2="108.2" y2="207.2"/><line x1="118.2" y1="213.8" x2="113.2" y2="217.1"/><line x1="124.5" y1="221.6" x2="120.0" y2="225.7"/><line x1="131.4" y1="228.9" x2="127.0" y2="233.0"/><line x1="138.1" y1="236.2" x2="133.6" y2="240.1"/><line x1="144.3" y1="244.1" x2="139.4" y2="247.6"/><line x1="150.1" y1="252.2" x2="145.2" y2="255.7"/><line x1="156.2" y1="260.2" x2="151.6" y2="264.1"/><line x1="163.2" y1="267.2" x2="159.3" y2="271.8"/><line x1="171.3" y1="273.2" x2="168.1" y2="278.3"/><line x1="180.2" y1="277.5" x2="178.3" y2="283.2"/><line x1="190.0" y1="279.5" x2="189.7" y2="285.4"/><line x1="200.0" y1="278.7" x2="201.2" y2="284.6"/><line x1="209.4" y1="275.6" x2="211.8" y2="281.1"/><line x1="218.2" y1="270.8" x2="221.6" y2="275.8"/><line x1="225.0" y1="263.6" x2="229.9" y2="267.1"/></g><path d="M111.8 200.3 C113.1 202.9 115.1 209.8 119.7 216.0 C124.3 222.2 132.8 229.8 139.4 237.7 C146.0 245.6 152.4 256.8 159.0 263.3 C165.6 269.9 172.2 274.4 178.8 277.0 C185.4 279.6 192.0 280.0 198.5 279.0 C205.0 278.0 213.1 274.3 218.0 271.0 C222.9 267.7 226.3 261.3 228.0 259.4" fill="none" stroke="#0a0a6a" stroke-width="5.2" stroke-linecap="butt"/><path d="M111.8 200.3 C113.1 202.9 115.1 209.8 119.7 216.0 C124.3 222.2 132.8 229.8 139.4 237.7 C146.0 245.6 152.4 256.8 159.0 263.3 C165.6 269.9 172.2 274.4 178.8 277.0 C185.4 279.6 192.0 280.0 198.5 279.0 C205.0 278.0 213.1 274.3 218.0 271.0 C222.9 267.7 226.3 261.3 228.0 259.4" fill="none" stroke="#2020b4" stroke-width="2.9" transform="translate(0,-0.8)"/><path d="M111.8 200.3 C113.1 202.9 115.1 209.8 119.7 216.0 C124.3 222.2 132.8 229.8 139.4 237.7 C146.0 245.6 152.4 256.8 159.0 263.3 C165.6 269.9 172.2 274.4 178.8 277.0 C185.4 279.6 192.0 280.0 198.5 279.0 C205.0 278.0 213.1 274.3 218.0 271.0 C222.9 267.7 226.3 261.3 228.0 259.4" fill="none" stroke="#9090ff" stroke-width="0.9" transform="translate(0,-1.4)" opacity="0.7"/>
<g stroke="#2a2ac0" stroke-width="1.8" stroke-linecap="butt"><line x1="140.7" y1="130.3" x2="134.7" y2="129.5"/><line x1="139.2" y1="140.2" x2="133.3" y2="139.2"/><line x1="137.1" y1="150.0" x2="131.3" y2="148.5"/><line x1="134.2" y1="159.6" x2="128.5" y2="157.6"/><line x1="130.8" y1="169.0" x2="125.2" y2="167.0"/><line x1="127.5" y1="178.4" x2="121.8" y2="176.4"/><line x1="124.1" y1="187.8" x2="118.4" y2="185.8"/><line x1="120.7" y1="197.2" x2="115.0" y2="195.3"/></g><path d="M141.4 125.4 C140.7 129.3 139.4 141.1 137.4 149.0 C135.4 156.9 132.1 165.1 129.5 172.7 C126.9 180.3 123.8 188.5 121.7 194.4 C119.6 200.3 117.8 205.7 117.0 208.0" fill="none" stroke="#0a0a6a" stroke-width="5.2" stroke-linecap="butt"/><path d="M141.4 125.4 C140.7 129.3 139.4 141.1 137.4 149.0 C135.4 156.9 132.1 165.1 129.5 172.7 C126.9 180.3 123.8 188.5 121.7 194.4 C119.6 200.3 117.8 205.7 117.0 208.0" fill="none" stroke="#2020b4" stroke-width="2.9" transform="translate(0,-0.8)"/><path d="M141.4 125.4 C140.7 129.3 139.4 141.1 137.4 149.0 C135.4 156.9 132.1 165.1 129.5 172.7 C126.9 180.3 123.8 188.5 121.7 194.4 C119.6 200.3 117.8 205.7 117.0 208.0" fill="none" stroke="#9090ff" stroke-width="0.9" transform="translate(0,-1.4)" opacity="0.7"/>
<g stroke="#2a2ac0" stroke-width="1.8" stroke-linecap="butt"><line x1="288.6" y1="146.5" x2="283.0" y2="148.6"/><line x1="292.4" y1="155.7" x2="286.9" y2="158.1"/><line x1="296.0" y1="165.0" x2="290.3" y2="166.8"/><line x1="298.6" y1="174.7" x2="292.8" y2="176.1"/><line x1="301.1" y1="184.4" x2="295.3" y2="186.0"/><line x1="305.5" y1="193.2" x2="301.7" y2="197.8"/></g><path d="M286.8 141.8 C287.3 143.2 288.5 146.1 290.0 150.0 C291.5 153.9 293.9 158.5 296.0 165.0 C298.1 171.5 300.5 184.0 302.6 189.0 C304.7 194.0 307.5 194.0 308.5 195.0" fill="none" stroke="#0a0a6a" stroke-width="5.2" stroke-linecap="butt"/><path d="M286.8 141.8 C287.3 143.2 288.5 146.1 290.0 150.0 C291.5 153.9 293.9 158.5 296.0 165.0 C298.1 171.5 300.5 184.0 302.6 189.0 C304.7 194.0 307.5 194.0 308.5 195.0" fill="none" stroke="#2020b4" stroke-width="2.9" transform="translate(0,-0.8)"/><path d="M286.8 141.8 C287.3 143.2 288.5 146.1 290.0 150.0 C291.5 153.9 293.9 158.5 296.0 165.0 C298.1 171.5 300.5 184.0 302.6 189.0 C304.7 194.0 307.5 194.0 308.5 195.0" fill="none" stroke="#9090ff" stroke-width="0.9" transform="translate(0,-1.4)" opacity="0.7"/>
<g stroke="#2a2ac0" stroke-width="1.8" stroke-linecap="butt"></g><path d="M175.3 161.5 C176.1 161.8 179.2 162.8 180.0 163.0" fill="none" stroke="#0a0a6a" stroke-width="5.2" stroke-linecap="butt"/><path d="M175.3 161.5 C176.1 161.8 179.2 162.8 180.0 163.0" fill="none" stroke="#2020b4" stroke-width="2.9" transform="translate(0,-0.8)"/><path d="M175.3 161.5 C176.1 161.8 179.2 162.8 180.0 163.0" fill="none" stroke="#9090ff" stroke-width="0.9" transform="translate(0,-1.4)" opacity="0.7"/>
<g stroke="#c81818" stroke-width="3.0" stroke-linecap="butt"><line x1="58.9" y1="93.3" x2="54.8" y2="101.8"/><line x1="68.9" y1="100.5" x2="61.6" y2="106.7"/><line x1="75.5" y1="111.1" x2="66.9" y2="115.0"/><line x1="79.1" y1="123.0" x2="69.7" y2="124.7"/><line x1="79.7" y1="135.5" x2="70.2" y2="134.6"/><line x1="76.9" y1="147.7" x2="67.9" y2="144.8"/><line x1="72.6" y1="159.4" x2="63.9" y2="155.3"/><line x1="67.2" y1="170.7" x2="58.3" y2="167.5"/><line x1="69.7" y1="181.2" x2="65.3" y2="189.7"/><line x1="81.1" y1="186.3" x2="77.0" y2="194.9"/><line x1="92.3" y1="191.8" x2="87.9" y2="200.2"/><line x1="103.0" y1="198.2" x2="97.9" y2="206.2"/></g><path d="M53.2 90.6 C55.5 91.9 63.1 94.5 67.0 98.5 C70.9 102.5 74.7 108.4 76.8 114.3 C78.9 120.2 80.1 127.4 79.8 134.0 C79.5 140.6 77.0 147.5 74.9 153.7 C72.8 159.9 68.3 167.1 67.0 171.4 C65.7 175.7 65.0 177.0 67.0 179.3 C69.0 181.6 74.2 182.9 78.8 185.2 C83.4 187.5 89.3 190.0 94.6 193.0 C99.8 196.0 107.7 201.3 110.3 203.0" fill="none" stroke="#8a0606" stroke-width="7.0" stroke-linecap="butt"/><path d="M53.2 90.6 C55.5 91.9 63.1 94.5 67.0 98.5 C70.9 102.5 74.7 108.4 76.8 114.3 C78.9 120.2 80.1 127.4 79.8 134.0 C79.5 140.6 77.0 147.5 74.9 153.7 C72.8 159.9 68.3 167.1 67.0 171.4 C65.7 175.7 65.0 177.0 67.0 179.3 C69.0 181.6 74.2 182.9 78.8 185.2 C83.4 187.5 89.3 190.0 94.6 193.0 C99.8 196.0 107.7 201.3 110.3 203.0" fill="none" stroke="#c81414" stroke-width="3.9" transform="translate(0,-0.8)"/><path d="M53.2 90.6 C55.5 91.9 63.1 94.5 67.0 98.5 C70.9 102.5 74.7 108.4 76.8 114.3 C78.9 120.2 80.1 127.4 79.8 134.0 C79.5 140.6 77.0 147.5 74.9 153.7 C72.8 159.9 68.3 167.1 67.0 171.4 C65.7 175.7 65.0 177.0 67.0 179.3 C69.0 181.6 74.2 182.9 78.8 185.2 C83.4 187.5 89.3 190.0 94.6 193.0 C99.8 196.0 107.7 201.3 110.3 203.0" fill="none" stroke="#ff7a7a" stroke-width="1.3" transform="translate(0,-1.4)" opacity="0.7"/>
<g stroke="#c81818" stroke-width="3.0" stroke-linecap="butt"><line x1="95.1" y1="48.2" x2="99.6" y2="39.8"/><line x1="106.2" y1="54.1" x2="110.6" y2="45.6"/><line x1="117.2" y1="59.9" x2="121.7" y2="51.5"/><line x1="128.5" y1="65.2" x2="132.0" y2="56.4"/><line x1="140.6" y1="68.6" x2="142.9" y2="59.4"/><line x1="152.2" y1="73.1" x2="156.7" y2="64.7"/><line x1="158.8" y1="83.1" x2="168.1" y2="81.4"/><line x1="159.6" y1="95.5" x2="169.1" y2="95.5"/><line x1="158.7" y1="108.0" x2="168.0" y2="109.4"/><line x1="157.6" y1="120.4" x2="167.1" y2="120.3"/><line x1="158.5" y1="132.9" x2="167.9" y2="131.4"/><line x1="162.3" y1="144.7" x2="170.8" y2="140.6"/><line x1="168.8" y1="155.4" x2="176.1" y2="149.4"/></g><path d="M89.6 45.3 C92.7 46.9 102.0 51.9 108.4 55.2 C114.8 58.5 121.4 62.4 128.0 65.0 C134.6 67.6 142.9 68.7 147.8 71.0 C152.7 73.3 155.6 74.2 157.6 78.8 C159.6 83.4 159.6 91.9 159.6 98.5 C159.6 105.1 157.6 111.6 157.6 118.2 C157.6 124.8 157.9 132.0 159.6 137.9 C161.2 143.8 164.9 149.8 167.5 153.7 C170.1 157.6 174.0 160.2 175.3 161.5" fill="none" stroke="#8a0606" stroke-width="7.0" stroke-linecap="butt"/><path d="M89.6 45.3 C92.7 46.9 102.0 51.9 108.4 55.2 C114.8 58.5 121.4 62.4 128.0 65.0 C134.6 67.6 142.9 68.7 147.8 71.0 C152.7 73.3 155.6 74.2 157.6 78.8 C159.6 83.4 159.6 91.9 159.6 98.5 C159.6 105.1 157.6 111.6 157.6 118.2 C157.6 124.8 157.9 132.0 159.6 137.9 C161.2 143.8 164.9 149.8 167.5 153.7 C170.1 157.6 174.0 160.2 175.3 161.5" fill="none" stroke="#c81414" stroke-width="3.9" transform="translate(0,-0.8)"/><path d="M89.6 45.3 C92.7 46.9 102.0 51.9 108.4 55.2 C114.8 58.5 121.4 62.4 128.0 65.0 C134.6 67.6 142.9 68.7 147.8 71.0 C152.7 73.3 155.6 74.2 157.6 78.8 C159.6 83.4 159.6 91.9 159.6 98.5 C159.6 105.1 157.6 111.6 157.6 118.2 C157.6 124.8 157.9 132.0 159.6 137.9 C161.2 143.8 164.9 149.8 167.5 153.7 C170.1 157.6 174.0 160.2 175.3 161.5" fill="none" stroke="#ff7a7a" stroke-width="1.3" transform="translate(0,-1.4)" opacity="0.7"/>
<g stroke="#c81818" stroke-width="3.0" stroke-linecap="butt"><line x1="150.3" y1="26.4" x2="155.3" y2="18.3"/><line x1="156.8" y1="34.6" x2="161.7" y2="42.8"/><line x1="145.3" y1="39.5" x2="150.8" y2="47.2"/><line x1="135.8" y1="47.5" x2="142.4" y2="54.4"/><line x1="126.9" y1="56.3" x2="133.9" y2="62.8"/><line x1="120.2" y1="66.7" x2="128.8" y2="70.6"/><line x1="116.5" y1="78.7" x2="125.9" y2="79.9"/><line x1="117.2" y1="91.1" x2="126.5" y2="89.0"/><line x1="121.3" y1="102.9" x2="129.9" y2="98.9"/><line x1="128.2" y1="113.2" x2="135.4" y2="107.1"/><line x1="136.5" y1="122.6" x2="143.5" y2="116.2"/></g><path d="M145.0 23.0 C147.2 24.7 157.8 30.3 158.0 33.0 C158.2 35.7 150.0 36.3 146.0 39.0 C142.0 41.7 138.0 45.3 134.0 49.3 C130.0 53.3 125.0 57.4 122.0 63.0 C119.0 68.6 116.2 75.8 116.2 82.7 C116.2 89.6 118.7 97.9 122.0 104.4 C125.3 111.0 133.0 118.6 136.0 122.0 C139.0 125.4 139.3 124.5 140.0 125.0" fill="none" stroke="#8a0606" stroke-width="7.0" stroke-linecap="butt"/><path d="M145.0 23.0 C147.2 24.7 157.8 30.3 158.0 33.0 C158.2 35.7 150.0 36.3 146.0 39.0 C142.0 41.7 138.0 45.3 134.0 49.3 C130.0 53.3 125.0 57.4 122.0 63.0 C119.0 68.6 116.2 75.8 116.2 82.7 C116.2 89.6 118.7 97.9 122.0 104.4 C125.3 111.0 133.0 118.6 136.0 122.0 C139.0 125.4 139.3 124.5 140.0 125.0" fill="none" stroke="#c81414" stroke-width="3.9" transform="translate(0,-0.8)"/><path d="M145.0 23.0 C147.2 24.7 157.8 30.3 158.0 33.0 C158.2 35.7 150.0 36.3 146.0 39.0 C142.0 41.7 138.0 45.3 134.0 49.3 C130.0 53.3 125.0 57.4 122.0 63.0 C119.0 68.6 116.2 75.8 116.2 82.7 C116.2 89.6 118.7 97.9 122.0 104.4 C125.3 111.0 133.0 118.6 136.0 122.0 C139.0 125.4 139.3 124.5 140.0 125.0" fill="none" stroke="#ff7a7a" stroke-width="1.3" transform="translate(0,-1.4)" opacity="0.7"/>
<g stroke="#c81818" stroke-width="3.0" stroke-linecap="butt"><line x1="265.2" y1="106.4" x2="255.7" y2="107.0"/><line x1="261.0" y1="94.7" x2="252.2" y2="98.0"/><line x1="258.0" y1="82.6" x2="248.6" y2="84.1"/><line x1="257.2" y1="70.1" x2="247.7" y2="69.4"/><line x1="259.7" y1="57.9" x2="250.7" y2="55.0"/><line x1="264.7" y1="46.5" x2="256.4" y2="41.8"/><line x1="272.0" y1="36.4" x2="265.1" y2="29.9"/><line x1="281.9" y1="28.7" x2="277.1" y2="20.5"/><line x1="293.2" y1="23.4" x2="289.8" y2="14.5"/><line x1="305.4" y1="20.9" x2="304.6" y2="11.4"/><line x1="317.8" y1="21.1" x2="318.7" y2="11.6"/></g><path d="M261.2 110.3 C261.9 109.7 265.5 110.0 265.2 106.4 C264.9 102.8 260.5 94.9 259.2 88.7 C257.9 82.5 256.6 75.6 257.3 69.0 C258.0 62.4 260.2 55.2 263.2 49.3 C266.1 43.4 270.1 37.8 275.0 33.5 C279.9 29.2 287.1 25.7 292.7 23.6 C298.3 21.5 303.2 21.0 308.5 20.7 C313.8 20.4 321.7 21.5 324.3 21.7" fill="none" stroke="#8a0606" stroke-width="7.0" stroke-linecap="butt"/><path d="M261.2 110.3 C261.9 109.7 265.5 110.0 265.2 106.4 C264.9 102.8 260.5 94.9 259.2 88.7 C257.9 82.5 256.6 75.6 257.3 69.0 C258.0 62.4 260.2 55.2 263.2 49.3 C266.1 43.4 270.1 37.8 275.0 33.5 C279.9 29.2 287.1 25.7 292.7 23.6 C298.3 21.5 303.2 21.0 308.5 20.7 C313.8 20.4 321.7 21.5 324.3 21.7" fill="none" stroke="#c81414" stroke-width="3.9" transform="translate(0,-0.8)"/><path d="M261.2 110.3 C261.9 109.7 265.5 110.0 265.2 106.4 C264.9 102.8 260.5 94.9 259.2 88.7 C257.9 82.5 256.6 75.6 257.3 69.0 C258.0 62.4 260.2 55.2 263.2 49.3 C266.1 43.4 270.1 37.8 275.0 33.5 C279.9 29.2 287.1 25.7 292.7 23.6 C298.3 21.5 303.2 21.0 308.5 20.7 C313.8 20.4 321.7 21.5 324.3 21.7" fill="none" stroke="#ff7a7a" stroke-width="1.3" transform="translate(0,-1.4)" opacity="0.7"/>
<g stroke="#c81818" stroke-width="3.0" stroke-linecap="butt"><line x1="289.6" y1="135.3" x2="298.2" y2="139.5"/><line x1="296.6" y1="125.0" x2="303.0" y2="132.0"/><line x1="308.5" y1="123.9" x2="306.5" y2="133.2"/><line x1="320.7" y1="126.6" x2="318.7" y2="135.8"/><line x1="332.9" y1="129.4" x2="331.2" y2="138.7"/><line x1="345.3" y1="129.9" x2="346.0" y2="139.4"/><line x1="357.7" y1="128.0" x2="359.9" y2="137.3"/><line x1="369.6" y1="124.3" x2="373.2" y2="133.1"/><line x1="380.4" y1="118.1" x2="386.3" y2="125.5"/><line x1="389.3" y1="109.3" x2="396.5" y2="115.5"/><line x1="396.5" y1="99.1" x2="404.9" y2="103.5"/><line x1="401.4" y1="87.7" x2="410.2" y2="91.3"/></g><path d="M287.0 141.0 C287.9 139.2 290.4 133.0 292.7 130.0 C295.0 127.0 296.3 123.8 300.6 123.1 C304.9 122.4 312.2 124.9 318.4 126.1 C324.6 127.2 331.4 129.7 338.0 130.0 C344.6 130.3 351.2 129.6 357.8 128.0 C364.4 126.4 371.6 124.1 377.5 120.2 C383.4 116.3 389.3 109.7 393.2 104.4 C397.1 99.2 399.0 93.1 401.0 88.7 C403.0 84.3 404.3 79.6 405.0 77.8" fill="none" stroke="#8a0606" stroke-width="7.0" stroke-linecap="butt"/><path d="M287.0 141.0 C287.9 139.2 290.4 133.0 292.7 130.0 C295.0 127.0 296.3 123.8 300.6 123.1 C304.9 122.4 312.2 124.9 318.4 126.1 C324.6 127.2 331.4 129.7 338.0 130.0 C344.6 130.3 351.2 129.6 357.8 128.0 C364.4 126.4 371.6 124.1 377.5 120.2 C383.4 116.3 389.3 109.7 393.2 104.4 C397.1 99.2 399.0 93.1 401.0 88.7 C403.0 84.3 404.3 79.6 405.0 77.8" fill="none" stroke="#c81414" stroke-width="3.9" transform="translate(0,-0.8)"/><path d="M287.0 141.0 C287.9 139.2 290.4 133.0 292.7 130.0 C295.0 127.0 296.3 123.8 300.6 123.1 C304.9 122.4 312.2 124.9 318.4 126.1 C324.6 127.2 331.4 129.7 338.0 130.0 C344.6 130.3 351.2 129.6 357.8 128.0 C364.4 126.4 371.6 124.1 377.5 120.2 C383.4 116.3 389.3 109.7 393.2 104.4 C397.1 99.2 399.0 93.1 401.0 88.7 C403.0 84.3 404.3 79.6 405.0 77.8" fill="none" stroke="#ff7a7a" stroke-width="1.3" transform="translate(0,-1.4)" opacity="0.7"/>
<g stroke="#c81818" stroke-width="3.0" stroke-linecap="butt"><line x1="314.4" y1="196.9" x2="311.5" y2="206.0"/><line x1="326.4" y1="200.6" x2="324.1" y2="209.8"/><line x1="338.7" y1="202.6" x2="337.7" y2="212.0"/><line x1="351.1" y1="204.3" x2="349.7" y2="213.7"/><line x1="363.4" y1="206.5" x2="361.1" y2="215.7"/><line x1="375.1" y1="210.8" x2="371.1" y2="219.4"/><line x1="386.1" y1="216.8" x2="380.9" y2="224.8"/><line x1="395.6" y1="224.8" x2="388.4" y2="231.1"/><line x1="401.9" y1="235.5" x2="393.0" y2="238.8"/><line x1="405.7" y1="247.4" x2="396.7" y2="250.3"/><line x1="409.1" y1="259.5" x2="399.9" y2="261.7"/></g><path d="M308.5 195.0 C311.8 196.0 321.6 199.5 328.2 201.0 C334.8 202.5 341.3 202.7 347.9 203.8 C354.5 204.9 361.0 205.4 367.6 207.7 C374.2 210.0 382.1 214.0 387.3 217.6 C392.5 221.2 396.1 224.8 399.0 229.4 C401.9 234.0 403.3 240.3 405.0 245.2 C406.7 250.1 407.8 254.2 409.0 259.0 C410.2 263.8 411.5 271.2 412.0 273.7" fill="none" stroke="#8a0606" stroke-width="7.0" stroke-linecap="butt"/><path d="M308.5 195.0 C311.8 196.0 321.6 199.5 328.2 201.0 C334.8 202.5 341.3 202.7 347.9 203.8 C354.5 204.9 361.0 205.4 367.6 207.7 C374.2 210.0 382.1 214.0 387.3 217.6 C392.5 221.2 396.1 224.8 399.0 229.4 C401.9 234.0 403.3 240.3 405.0 245.2 C406.7 250.1 407.8 254.2 409.0 259.0 C410.2 263.8 411.5 271.2 412.0 273.7" fill="none" stroke="#c81414" stroke-width="3.9" transform="translate(0,-0.8)"/><path d="M308.5 195.0 C311.8 196.0 321.6 199.5 328.2 201.0 C334.8 202.5 341.3 202.7 347.9 203.8 C354.5 204.9 361.0 205.4 367.6 207.7 C374.2 210.0 382.1 214.0 387.3 217.6 C392.5 221.2 396.1 224.8 399.0 229.4 C401.9 234.0 403.3 240.3 405.0 245.2 C406.7 250.1 407.8 254.2 409.0 259.0 C410.2 263.8 411.5 271.2 412.0 273.7" fill="none" stroke="#ff7a7a" stroke-width="1.3" transform="translate(0,-1.4)" opacity="0.7"/>
<g stroke="#c81818" stroke-width="3.0" stroke-linecap="butt"><line x1="128.3" y1="251.0" x2="128.9" y2="241.5"/><line x1="116.0" y1="248.9" x2="118.1" y2="239.7"/><line x1="103.9" y1="245.6" x2="106.9" y2="236.6"/><line x1="92.3" y1="241.2" x2="96.3" y2="232.5"/><line x1="82.6" y1="233.5" x2="90.0" y2="227.6"/><line x1="72.4" y1="228.6" x2="67.6" y2="220.5"/><line x1="65.4" y1="238.8" x2="56.6" y2="235.2"/><line x1="60.6" y1="250.3" x2="52.2" y2="245.8"/><line x1="53.0" y1="260.1" x2="46.3" y2="253.4"/><line x1="43.4" y1="268.1" x2="38.1" y2="260.2"/><line x1="32.2" y1="273.7" x2="28.8" y2="264.9"/><line x1="20.2" y1="277.1" x2="18.4" y2="267.8"/></g><path d="M134.0 249.0 C133.0 249.3 132.3 251.3 128.0 251.0 C123.7 250.7 115.0 248.9 108.4 247.0 C101.9 245.1 93.6 242.2 88.7 239.3 C83.8 236.4 81.4 231.2 78.8 229.4 C76.2 227.6 74.9 227.4 72.9 228.4 C70.9 229.4 69.3 231.2 67.0 235.3 C64.7 239.4 62.6 247.8 59.0 253.0 C55.4 258.2 50.2 263.2 45.3 266.8 C40.4 270.4 35.2 272.7 29.6 274.7 C24.0 276.7 14.8 278.0 11.8 278.7" fill="none" stroke="#8a0606" stroke-width="7.0" stroke-linecap="butt"/><path d="M134.0 249.0 C133.0 249.3 132.3 251.3 128.0 251.0 C123.7 250.7 115.0 248.9 108.4 247.0 C101.9 245.1 93.6 242.2 88.7 239.3 C83.8 236.4 81.4 231.2 78.8 229.4 C76.2 227.6 74.9 227.4 72.9 228.4 C70.9 229.4 69.3 231.2 67.0 235.3 C64.7 239.4 62.6 247.8 59.0 253.0 C55.4 258.2 50.2 263.2 45.3 266.8 C40.4 270.4 35.2 272.7 29.6 274.7 C24.0 276.7 14.8 278.0 11.8 278.7" fill="none" stroke="#c81414" stroke-width="3.9" transform="translate(0,-0.8)"/><path d="M134.0 249.0 C133.0 249.3 132.3 251.3 128.0 251.0 C123.7 250.7 115.0 248.9 108.4 247.0 C101.9 245.1 93.6 242.2 88.7 239.3 C83.8 236.4 81.4 231.2 78.8 229.4 C76.2 227.6 74.9 227.4 72.9 228.4 C70.9 229.4 69.3 231.2 67.0 235.3 C64.7 239.4 62.6 247.8 59.0 253.0 C55.4 258.2 50.2 263.2 45.3 266.8 C40.4 270.4 35.2 272.7 29.6 274.7 C24.0 276.7 14.8 278.0 11.8 278.7" fill="none" stroke="#ff7a7a" stroke-width="1.3" transform="translate(0,-1.4)" opacity="0.7"/>
<g stroke="#c81818" stroke-width="3.0" stroke-linecap="butt"><line x1="224.1" y1="289.1" x2="228.9" y2="297.3"/><line x1="213.4" y1="295.5" x2="218.6" y2="303.4"/><line x1="203.5" y1="303.2" x2="209.9" y2="310.3"/><line x1="194.6" y1="311.9" x2="201.4" y2="318.5"/><line x1="186.2" y1="321.2" x2="193.6" y2="327.2"/><line x1="179.0" y1="331.4" x2="187.0" y2="336.7"/><line x1="171.6" y1="341.5" x2="178.4" y2="348.1"/><line x1="161.6" y1="348.7" x2="164.5" y2="357.8"/><line x1="149.3" y1="348.7" x2="147.0" y2="358.0"/><line x1="137.2" y1="345.4" x2="134.8" y2="354.6"/><line x1="125.3" y1="341.7" x2="122.4" y2="350.8"/><line x1="113.2" y1="338.5" x2="111.0" y2="347.7"/><line x1="100.9" y1="336.1" x2="99.6" y2="345.5"/></g><path d="M229.7 286.5 C228.9 286.8 228.8 286.2 225.0 288.5 C221.2 290.8 213.2 295.1 206.9 300.3 C200.6 305.6 193.1 313.1 187.2 320.0 C181.3 326.9 176.3 336.8 171.4 341.7 C166.5 346.6 163.2 349.0 157.6 349.6 C152.0 350.2 144.6 347.2 138.0 345.6 C131.4 344.0 124.8 341.3 118.2 339.7 C111.6 338.1 104.1 336.3 98.5 335.8 C92.9 335.3 87.0 336.6 84.7 336.8" fill="none" stroke="#8a0606" stroke-width="7.0" stroke-linecap="butt"/><path d="M229.7 286.5 C228.9 286.8 228.8 286.2 225.0 288.5 C221.2 290.8 213.2 295.1 206.9 300.3 C200.6 305.6 193.1 313.1 187.2 320.0 C181.3 326.9 176.3 336.8 171.4 341.7 C166.5 346.6 163.2 349.0 157.6 349.6 C152.0 350.2 144.6 347.2 138.0 345.6 C131.4 344.0 124.8 341.3 118.2 339.7 C111.6 338.1 104.1 336.3 98.5 335.8 C92.9 335.3 87.0 336.6 84.7 336.8" fill="none" stroke="#c81414" stroke-width="3.9" transform="translate(0,-0.8)"/><path d="M229.7 286.5 C228.9 286.8 228.8 286.2 225.0 288.5 C221.2 290.8 213.2 295.1 206.9 300.3 C200.6 305.6 193.1 313.1 187.2 320.0 C181.3 326.9 176.3 336.8 171.4 341.7 C166.5 346.6 163.2 349.0 157.6 349.6 C152.0 350.2 144.6 347.2 138.0 345.6 C131.4 344.0 124.8 341.3 118.2 339.7 C111.6 338.1 104.1 336.3 98.5 335.8 C92.9 335.3 87.0 336.6 84.7 336.8" fill="none" stroke="#ff7a7a" stroke-width="1.3" transform="translate(0,-1.4)" opacity="0.7"/>
<g stroke="#c81818" stroke-width="3.0" stroke-linecap="butt"><line x1="227.8" y1="255.3" x2="230.4" y2="264.5"/><line x1="240.1" y1="253.0" x2="240.5" y2="262.5"/><line x1="252.5" y1="253.5" x2="251.2" y2="262.9"/><line x1="264.4" y1="257.3" x2="259.8" y2="265.7"/><line x1="274.5" y1="264.5" x2="268.5" y2="271.9"/><line x1="282.1" y1="274.4" x2="277.0" y2="282.4"/><line x1="288.7" y1="265.0" x2="296.9" y2="269.9"/><line x1="294.9" y1="254.2" x2="303.0" y2="259.2"/><line x1="302.6" y1="244.3" x2="309.7" y2="250.6"/><line x1="311.4" y1="235.5" x2="317.4" y2="242.8"/><line x1="322.2" y1="229.4" x2="325.5" y2="238.3"/><line x1="334.5" y1="227.4" x2="334.0" y2="236.9"/><line x1="346.7" y1="229.8" x2="344.1" y2="239.0"/><line x1="358.5" y1="234.0" x2="354.3" y2="242.6"/><line x1="367.9" y1="242.0" x2="360.1" y2="247.5"/></g><path d="M221.8 257.0 C224.8 256.3 233.4 253.3 239.6 253.0 C245.8 252.7 253.3 253.0 259.2 255.0 C265.1 257.0 271.1 261.6 275.0 264.9 C278.9 268.2 280.6 274.7 282.9 274.7 C285.2 274.7 286.2 269.2 288.8 264.9 C291.4 260.6 294.3 254.3 298.6 249.0 C302.9 243.7 308.8 236.9 314.4 233.3 C320.0 229.7 325.9 227.7 332.1 227.4 C338.3 227.1 346.5 229.8 351.8 231.4 C357.1 233.1 360.6 234.9 363.7 237.3 C366.8 239.8 369.5 244.6 370.6 246.1" fill="none" stroke="#8a0606" stroke-width="7.0" stroke-linecap="butt"/><path d="M221.8 257.0 C224.8 256.3 233.4 253.3 239.6 253.0 C245.8 252.7 253.3 253.0 259.2 255.0 C265.1 257.0 271.1 261.6 275.0 264.9 C278.9 268.2 280.6 274.7 282.9 274.7 C285.2 274.7 286.2 269.2 288.8 264.9 C291.4 260.6 294.3 254.3 298.6 249.0 C302.9 243.7 308.8 236.9 314.4 233.3 C320.0 229.7 325.9 227.7 332.1 227.4 C338.3 227.1 346.5 229.8 351.8 231.4 C357.1 233.1 360.6 234.9 363.7 237.3 C366.8 239.8 369.5 244.6 370.6 246.1" fill="none" stroke="#c81414" stroke-width="3.9" transform="translate(0,-0.8)"/><path d="M221.8 257.0 C224.8 256.3 233.4 253.3 239.6 253.0 C245.8 252.7 253.3 253.0 259.2 255.0 C265.1 257.0 271.1 261.6 275.0 264.9 C278.9 268.2 280.6 274.7 282.9 274.7 C285.2 274.7 286.2 269.2 288.8 264.9 C291.4 260.6 294.3 254.3 298.6 249.0 C302.9 243.7 308.8 236.9 314.4 233.3 C320.0 229.7 325.9 227.7 332.1 227.4 C338.3 227.1 346.5 229.8 351.8 231.4 C357.1 233.1 360.6 234.9 363.7 237.3 C366.8 239.8 369.5 244.6 370.6 246.1" fill="none" stroke="#ff7a7a" stroke-width="1.3" transform="translate(0,-1.4)" opacity="0.7"/>
<g stroke="#c81818" stroke-width="3.0" stroke-linecap="butt"><line x1="259.3" y1="271.7" x2="266.9" y2="277.4"/><line x1="253.9" y1="282.9" x2="263.0" y2="285.5"/><line x1="251.5" y1="295.1" x2="261.0" y2="295.9"/><line x1="252.3" y1="307.6" x2="261.6" y2="305.8"/><line x1="255.9" y1="319.5" x2="264.7" y2="315.8"/><line x1="261.7" y1="330.5" x2="269.8" y2="325.5"/><line x1="269.4" y1="340.4" x2="276.2" y2="333.8"/><line x1="278.7" y1="348.7" x2="284.6" y2="341.3"/><line x1="288.9" y1="356.0" x2="293.3" y2="347.6"/><line x1="299.4" y1="362.4" x2="307.5" y2="357.4"/></g><path d="M263.2 266.8 C261.9 268.8 257.3 273.4 255.3 278.7 C253.3 284.0 251.4 291.8 251.4 298.4 C251.4 304.9 252.7 311.4 255.3 318.0 C257.9 324.6 262.1 331.9 267.0 337.8 C271.9 343.7 279.6 349.6 284.9 353.5 C290.2 357.4 295.8 358.4 298.6 361.4 C301.4 364.3 301.1 369.6 301.6 371.2" fill="none" stroke="#8a0606" stroke-width="7.0" stroke-linecap="butt"/><path d="M263.2 266.8 C261.9 268.8 257.3 273.4 255.3 278.7 C253.3 284.0 251.4 291.8 251.4 298.4 C251.4 304.9 252.7 311.4 255.3 318.0 C257.9 324.6 262.1 331.9 267.0 337.8 C271.9 343.7 279.6 349.6 284.9 353.5 C290.2 357.4 295.8 358.4 298.6 361.4 C301.4 364.3 301.1 369.6 301.6 371.2" fill="none" stroke="#c81414" stroke-width="3.9" transform="translate(0,-0.8)"/><path d="M263.2 266.8 C261.9 268.8 257.3 273.4 255.3 278.7 C253.3 284.0 251.4 291.8 251.4 298.4 C251.4 304.9 252.7 311.4 255.3 318.0 C257.9 324.6 262.1 331.9 267.0 337.8 C271.9 343.7 279.6 349.6 284.9 353.5 C290.2 357.4 295.8 358.4 298.6 361.4 C301.4 364.3 301.1 369.6 301.6 371.2" fill="none" stroke="#ff7a7a" stroke-width="1.3" transform="translate(0,-1.4)" opacity="0.7"/>
<g fill="#000">
<rect x="537" y="209.6" width="409" height="7.2"/>
<polygon points="518.5,213 539,202.7 539,223.4"/>
<polygon points="148,455.5 155,455.5 154.6,718 147.4,718"/>
<polygon points="141,717.5 161.5,717.5 151.3,738.5"/>
</g>
<g stroke="#111" stroke-width="2" fill="none">
<path d="M516.4 86.4H690.9M516.4 71.5V95M690.9 71.5V95"/>
<path d="M700.3 86.4H962.6M700.3 71.5V95M962.6 71.5V95"/>
</g>
<text x="450.3" y="61.5" font-size="27.5" letter-spacing="-0.30" fill="#1c1cc8" stroke="#1c1cc8" stroke-width="0.45" >Anchoring block</text>
<text x="735.0" y="57.4" font-size="27.5" letter-spacing="-0.33" fill="#dd1111" stroke="#dd1111" stroke-width="0.45" >Binding block</text>
<text x="611.1" y="296.4" font-size="27.5" letter-spacing="-0.28" fill="#000" stroke="#000" stroke-width="0.45" >Biological systems</text>
<text x="937.3" y="327.0" font-size="27.5" letter-spacing="-0.40" fill="#000" stroke="#000" stroke-width="0.45" >Peroxidase-mimic CuO nanozyme</text>
<text x="98.3" y="414.0" font-size="27.5" letter-spacing="-0.36" fill="#000" stroke="#000" stroke-width="0.45" >DNA functionalized CuO</text>
<text x="63.9" y="922.5" font-size="27.5" letter-spacing="-0.40" fill="#000" stroke="#000" stroke-width="0.45" >Tumor bearing mice</text>
<text x="671.9" y="763.7" font-size="27.5" letter-spacing="-0.23" fill="#000" stroke="#000" stroke-width="0.45" >Adenosine receptor</text>
<text x="1012.9" y="933.8" font-size="27.5" letter-spacing="-0.30" fill="#000" stroke="#000" stroke-width="0.45" >Cancer cell</text>
<text x="894.6" y="567.8" font-size="27.5" letter-spacing="0.00" fill="#fff" stroke="#fff" stroke-width="0.45" >H</text>
<text x="913.6" y="574.0" font-size="18.5" letter-spacing="0.00" fill="#fff" stroke="#fff" stroke-width="0.45" >2</text>
<text x="924.0" y="568.2" font-size="27.5" letter-spacing="0.00" fill="#fff" stroke="#fff" stroke-width="0.45" >O</text>
<text x="944.8" y="574.0" font-size="18.5" letter-spacing="0.00" fill="#fff" stroke="#fff" stroke-width="0.45" >2</text>
<text x="1108.5" y="695.0" font-size="26.5" letter-spacing="0.60" fill="#fff" stroke="#fff" stroke-width="0.45" >ROS</text>
<text x="1269.2" y="605.7" font-size="26.5" letter-spacing="-0.30" fill="#fff" stroke="#fff" stroke-width="0.45" >Cell</text>
<text x="1269.2" y="637.7" font-size="26.5" letter-spacing="0.35" fill="#fff" stroke="#fff" stroke-width="0.45" >damage</text>
</svg>
</body></html>
